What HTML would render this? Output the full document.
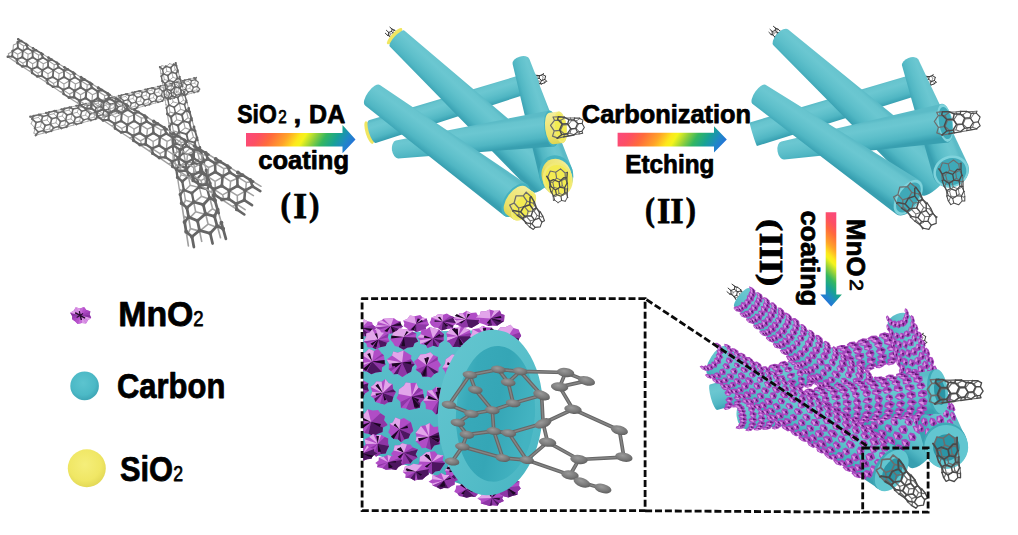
<!DOCTYPE html>
<html lang="en"><head><meta charset="utf-8"><title>CNT@C@MnO2 synthesis scheme</title>
<style>html,body{margin:0;padding:0;background:#fff;}body{width:1018px;height:535px;overflow:hidden;}svg{display:block;}</style>
</head><body>
<svg width="1018" height="535" viewBox="0 0 1018 535"><defs><linearGradient id="ra1" gradientUnits="userSpaceOnUse" x1="246" y1="139.5" x2="324.6" y2="188.6"><stop offset="0" stop-color="#fb4a78"/><stop offset="0.1" stop-color="#fd5062"/><stop offset="0.21" stop-color="#ff6a3c"/><stop offset="0.36" stop-color="#ffa428"/><stop offset="0.47" stop-color="#fde81c"/><stop offset="0.52" stop-color="#f4f41c"/><stop offset="0.62" stop-color="#8fd03c"/><stop offset="0.71" stop-color="#34b760"/><stop offset="0.82" stop-color="#17a294"/><stop offset="0.92" stop-color="#1f88c6"/><stop offset="1" stop-color="#2473d8"/></linearGradient><linearGradient id="ra2" gradientUnits="userSpaceOnUse" x1="617.6" y1="139.5" x2="696.1" y2="188.6"><stop offset="0" stop-color="#fb4a78"/><stop offset="0.1" stop-color="#fd5062"/><stop offset="0.21" stop-color="#ff6a3c"/><stop offset="0.36" stop-color="#ffa428"/><stop offset="0.47" stop-color="#fde81c"/><stop offset="0.52" stop-color="#f4f41c"/><stop offset="0.62" stop-color="#8fd03c"/><stop offset="0.71" stop-color="#34b760"/><stop offset="0.82" stop-color="#17a294"/><stop offset="0.92" stop-color="#1f88c6"/><stop offset="1" stop-color="#2473d8"/></linearGradient><linearGradient id="ra3" gradientUnits="userSpaceOnUse" x1="831" y1="212.2" x2="783.8" y2="259.4"><stop offset="0" stop-color="#fb4a78"/><stop offset="0.1" stop-color="#fd5062"/><stop offset="0.21" stop-color="#ff6a3c"/><stop offset="0.36" stop-color="#ffa428"/><stop offset="0.47" stop-color="#fde81c"/><stop offset="0.52" stop-color="#f4f41c"/><stop offset="0.62" stop-color="#8fd03c"/><stop offset="0.71" stop-color="#34b760"/><stop offset="0.82" stop-color="#17a294"/><stop offset="0.92" stop-color="#1f88c6"/><stop offset="1" stop-color="#2473d8"/></linearGradient><radialGradient id="lgc" cx="0.45" cy="0.4" r="0.6"><stop offset="0" stop-color="#5cc4cf"/><stop offset="0.7" stop-color="#4cb9c6"/><stop offset="1" stop-color="#3ea6b6"/></radialGradient><radialGradient id="lgy" cx="0.45" cy="0.4" r="0.6"><stop offset="0" stop-color="#f5ee7a"/><stop offset="0.7" stop-color="#f0e765"/><stop offset="1" stop-color="#e3d957"/></radialGradient><linearGradient id="g1" gradientUnits="userSpaceOnUse" x1="450.4" y1="96" x2="456.9" y2="116.6"><stop offset="0" stop-color="#5bbbc7"/><stop offset="0.1" stop-color="#67c4ce"/><stop offset="0.3" stop-color="#6bc7d1"/><stop offset="0.55" stop-color="#5fc0cb"/><stop offset="0.78" stop-color="#50b6c3"/><stop offset="0.93" stop-color="#3fa7b7"/><stop offset="1" stop-color="#389fb0"/></linearGradient><linearGradient id="g2" gradientUnits="userSpaceOnUse" x1="482.3" y1="96.7" x2="461" y2="119.4"><stop offset="0" stop-color="#5bbbc7"/><stop offset="0.1" stop-color="#67c4ce"/><stop offset="0.3" stop-color="#6bc7d1"/><stop offset="0.55" stop-color="#5fc0cb"/><stop offset="0.78" stop-color="#50b6c3"/><stop offset="0.93" stop-color="#3fa7b7"/><stop offset="1" stop-color="#389fb0"/></linearGradient><linearGradient id="g3" gradientUnits="userSpaceOnUse" x1="550.9" y1="114.2" x2="526.3" y2="121.8"><stop offset="0" stop-color="#5bbbc7"/><stop offset="0.1" stop-color="#67c4ce"/><stop offset="0.3" stop-color="#6bc7d1"/><stop offset="0.55" stop-color="#5fc0cb"/><stop offset="0.78" stop-color="#50b6c3"/><stop offset="0.93" stop-color="#3fa7b7"/><stop offset="1" stop-color="#389fb0"/></linearGradient><linearGradient id="g4" gradientUnits="userSpaceOnUse" x1="472.4" y1="125.5" x2="476.1" y2="152.5"><stop offset="0" stop-color="#5bbbc7"/><stop offset="0.1" stop-color="#67c4ce"/><stop offset="0.3" stop-color="#6bc7d1"/><stop offset="0.55" stop-color="#5fc0cb"/><stop offset="0.78" stop-color="#50b6c3"/><stop offset="0.93" stop-color="#3fa7b7"/><stop offset="1" stop-color="#389fb0"/></linearGradient><linearGradient id="g5" gradientUnits="userSpaceOnUse" x1="553.9" y1="112.2" x2="558.1" y2="143.6"><stop offset="0" stop-color="#f4ee9c"/><stop offset="0.3" stop-color="#f0e982"/><stop offset="0.75" stop-color="#ebe26a"/><stop offset="1" stop-color="#e0d550"/></linearGradient><linearGradient id="g6" gradientUnits="userSpaceOnUse" x1="571.1" y1="172.5" x2="542.8" y2="181.3"><stop offset="0" stop-color="#f4ee9c"/><stop offset="0.3" stop-color="#f0e982"/><stop offset="0.75" stop-color="#ebe26a"/><stop offset="1" stop-color="#e0d550"/></linearGradient><linearGradient id="g7" gradientUnits="userSpaceOnUse" x1="453.6" y1="134.7" x2="434.6" y2="160.6"><stop offset="0" stop-color="#5bbbc7"/><stop offset="0.1" stop-color="#67c4ce"/><stop offset="0.3" stop-color="#6bc7d1"/><stop offset="0.55" stop-color="#5fc0cb"/><stop offset="0.78" stop-color="#50b6c3"/><stop offset="0.93" stop-color="#3fa7b7"/><stop offset="1" stop-color="#389fb0"/></linearGradient><linearGradient id="g8" gradientUnits="userSpaceOnUse" x1="529.7" y1="189.3" x2="509.6" y2="216.7"><stop offset="0" stop-color="#f4ee9c"/><stop offset="0.3" stop-color="#f0e982"/><stop offset="0.75" stop-color="#ebe26a"/><stop offset="1" stop-color="#e0d550"/></linearGradient><linearGradient id="g9" gradientUnits="userSpaceOnUse" x1="835.6" y1="97.1" x2="842.4" y2="119.1"><stop offset="0" stop-color="#5bbbc7"/><stop offset="0.1" stop-color="#67c4ce"/><stop offset="0.3" stop-color="#6bc7d1"/><stop offset="0.55" stop-color="#5fc0cb"/><stop offset="0.78" stop-color="#50b6c3"/><stop offset="0.93" stop-color="#3fa7b7"/><stop offset="1" stop-color="#389fb0"/></linearGradient><linearGradient id="g10" gradientUnits="userSpaceOnUse" x1="869.5" y1="95.9" x2="847.4" y2="120.2"><stop offset="0" stop-color="#5bbbc7"/><stop offset="0.1" stop-color="#67c4ce"/><stop offset="0.3" stop-color="#6bc7d1"/><stop offset="0.55" stop-color="#5fc0cb"/><stop offset="0.78" stop-color="#50b6c3"/><stop offset="0.93" stop-color="#3fa7b7"/><stop offset="1" stop-color="#389fb0"/></linearGradient><linearGradient id="g11" gradientUnits="userSpaceOnUse" x1="943.4" y1="112.2" x2="917.8" y2="121.8"><stop offset="0" stop-color="#5bbbc7"/><stop offset="0.1" stop-color="#67c4ce"/><stop offset="0.3" stop-color="#6bc7d1"/><stop offset="0.55" stop-color="#5fc0cb"/><stop offset="0.78" stop-color="#50b6c3"/><stop offset="0.93" stop-color="#3fa7b7"/><stop offset="1" stop-color="#389fb0"/></linearGradient><linearGradient id="g12" gradientUnits="userSpaceOnUse" x1="861.6" y1="122.7" x2="866.4" y2="150.9"><stop offset="0" stop-color="#5bbbc7"/><stop offset="0.1" stop-color="#67c4ce"/><stop offset="0.3" stop-color="#6bc7d1"/><stop offset="0.55" stop-color="#5fc0cb"/><stop offset="0.78" stop-color="#50b6c3"/><stop offset="0.93" stop-color="#3fa7b7"/><stop offset="1" stop-color="#389fb0"/></linearGradient><linearGradient id="g13" gradientUnits="userSpaceOnUse" x1="842.6" y1="132.6" x2="824.4" y2="159.1"><stop offset="0" stop-color="#5bbbc7"/><stop offset="0.1" stop-color="#67c4ce"/><stop offset="0.3" stop-color="#6bc7d1"/><stop offset="0.55" stop-color="#5fc0cb"/><stop offset="0.78" stop-color="#50b6c3"/><stop offset="0.93" stop-color="#3fa7b7"/><stop offset="1" stop-color="#389fb0"/></linearGradient><linearGradient id="g14" gradientUnits="userSpaceOnUse" x1="809.3" y1="356.4" x2="816.7" y2="382.7"><stop offset="0" stop-color="#5bbbc7"/><stop offset="0.1" stop-color="#67c4ce"/><stop offset="0.3" stop-color="#6bc7d1"/><stop offset="0.55" stop-color="#5fc0cb"/><stop offset="0.78" stop-color="#50b6c3"/><stop offset="0.93" stop-color="#3fa7b7"/><stop offset="1" stop-color="#389fb0"/></linearGradient><linearGradient id="g15" gradientUnits="userSpaceOnUse" x1="845.8" y1="358.1" x2="822.2" y2="387.1"><stop offset="0" stop-color="#5bbbc7"/><stop offset="0.1" stop-color="#67c4ce"/><stop offset="0.3" stop-color="#6bc7d1"/><stop offset="0.55" stop-color="#5fc0cb"/><stop offset="0.78" stop-color="#50b6c3"/><stop offset="0.93" stop-color="#3fa7b7"/><stop offset="1" stop-color="#389fb0"/></linearGradient><linearGradient id="g16" gradientUnits="userSpaceOnUse" x1="938.6" y1="377.8" x2="907" y2="389.6"><stop offset="0" stop-color="#5bbbc7"/><stop offset="0.1" stop-color="#67c4ce"/><stop offset="0.3" stop-color="#6bc7d1"/><stop offset="0.55" stop-color="#5fc0cb"/><stop offset="0.78" stop-color="#50b6c3"/><stop offset="0.93" stop-color="#3fa7b7"/><stop offset="1" stop-color="#389fb0"/></linearGradient><linearGradient id="g17" gradientUnits="userSpaceOnUse" x1="839.8" y1="385.7" x2="844.1" y2="421.3"><stop offset="0" stop-color="#5bbbc7"/><stop offset="0.1" stop-color="#67c4ce"/><stop offset="0.3" stop-color="#6bc7d1"/><stop offset="0.55" stop-color="#5fc0cb"/><stop offset="0.78" stop-color="#50b6c3"/><stop offset="0.93" stop-color="#3fa7b7"/><stop offset="1" stop-color="#389fb0"/></linearGradient><linearGradient id="g18" gradientUnits="userSpaceOnUse" x1="815" y1="398.8" x2="793.9" y2="432.3"><stop offset="0" stop-color="#5bbbc7"/><stop offset="0.1" stop-color="#67c4ce"/><stop offset="0.3" stop-color="#6bc7d1"/><stop offset="0.55" stop-color="#5fc0cb"/><stop offset="0.78" stop-color="#50b6c3"/><stop offset="0.93" stop-color="#3fa7b7"/><stop offset="1" stop-color="#389fb0"/></linearGradient><clipPath id="cin"><rect x="363" y="300.5" width="280" height="210"/></clipPath><linearGradient id="inb" x1="0" y1="0" x2="0" y2="1"><stop offset="0" stop-color="#5cc0cb"/><stop offset="0.35" stop-color="#56bcc8"/><stop offset="0.8" stop-color="#48b2c0"/><stop offset="1" stop-color="#3fa7b6"/></linearGradient><linearGradient id="inr" x1="0" y1="0" x2="1" y2="1"><stop offset="0" stop-color="#64c6d0"/><stop offset="0.5" stop-color="#58bfca"/><stop offset="1" stop-color="#47b4c2"/></linearGradient><linearGradient id="inh" x1="0" y1="0" x2="1" y2="0.3"><stop offset="0" stop-color="#4cb9c6"/><stop offset="0.25" stop-color="#38a9b9"/><stop offset="0.6" stop-color="#35a6b6"/><stop offset="1" stop-color="#43b3c1"/></linearGradient><radialGradient id="atm" cx="0.4" cy="0.35" r="0.7"><stop offset="0" stop-color="#9a9a9a"/><stop offset="0.6" stop-color="#7a7a7a"/><stop offset="1" stop-color="#5c5c5c"/></radialGradient></defs><rect width="1018" height="535" fill="#fff"/><path d="M35.7,135.3L37.7,134.7M30.3,116.7L33.1,118.7M31.2,123.8L35.1,128.1M31.2,123.8L33.1,118.7M33.9,133.1L37.7,134.7M33.9,133.1L35.1,128.1M33.1,118.7L38.4,117.4M35.1,128.1L40.4,126.7M37.7,134.7L42.9,133.3M38.4,117.4L40.9,114.2M38.4,117.4L41.8,121.1M40.4,126.7L41.8,121.1M40.4,126.7L44.4,130.3M42.9,133.3L44.4,130.3M42.9,133.3L46.1,132.5M40.9,114.2L46.1,113M41.8,121.1L47,119.9M44.4,130.3L49.6,128.9M51.3,131.1L53.2,130.5M46.1,113L48.8,114.9M47,119.9L50.8,124.1M47,119.9L48.8,114.9M49.6,128.9L53.2,130.5M49.6,128.9L50.8,124.1M48.8,114.9L53.9,113.7M50.8,124.1L55.9,122.8M53.2,130.5L58.3,129.2M53.9,113.7L56.3,110.6M53.9,113.7L57.2,117.3M55.9,122.8L57.2,117.3M55.9,122.8L59.8,126.2M58.3,129.2L59.8,126.2M58.3,129.2L61.4,128.3M56.3,110.6L61.4,109.4M57.2,117.3L62.3,116M59.8,126.2L64.8,124.9M66.5,127L68.4,126.4M61.4,109.4L64,111.3M62.3,116L66,120.2M62.3,116L64,111.3M64.8,124.9L68.4,126.4M64.8,124.9L66,120.2M64,111.3L69,110.1M66,120.2L70.9,118.9M68.4,126.4L73.3,125.1M69,110.1L71.4,107M69,110.1L72.2,113.6M70.9,118.9L72.2,113.6M70.9,118.9L74.7,122.2M73.3,125.1L74.7,122.2M73.3,125.1L76.4,124.3M71.4,107L76.3,105.8M72.2,113.6L77.2,112.3M74.7,122.2L79.6,120.9" stroke="#a8a8a8" stroke-width="0.96" fill="none" stroke-linecap="round"/><path d="M81.3,123L83.1,122.5M76.3,105.8L78.9,107.7M77.2,112.3L80.8,116.3M77.2,112.3L78.9,107.7M79.6,120.9L83.1,122.5M79.6,120.9L80.8,116.3M78.9,107.7L83.7,106.5M80.8,116.3L85.6,115.1M83.1,122.5L87.9,121.2M83.7,106.5L86.1,103.5M83.7,106.5L86.9,109.9M85.6,115.1L86.9,109.9M85.6,115.1L89.3,118.4M87.9,121.2L89.3,118.4M87.9,121.2L90.9,120.4M86.1,103.5L90.9,102.4M86.9,109.9L91.7,108.7M89.3,118.4L94.1,117.1M95.6,119.1L97.5,118.6M90.9,102.4L93.3,104.2M91.7,108.7L95.2,112.6M91.7,108.7L93.3,104.2M94.1,117.1L97.5,118.6M94.1,117.1L95.2,112.6M93.3,104.2L98.1,103.1M95.2,112.6L99.9,111.4M97.5,118.6L102.2,117.3M98.1,103.1L100.3,100.2M98.1,103.1L101.1,106.4M99.9,111.4L101.1,106.4M99.9,111.4L103.5,114.6M102.2,117.3L103.5,114.6M102.2,117.3L105,116.6M100.3,100.2L105,99.1M101.1,106.4L105.8,105.2M103.5,114.6L108.1,113.4M109.7,115.3L111.4,114.8M105,99.1L107.4,100.8M105.8,105.2L109.2,109M105.8,105.2L107.4,100.8M108.1,113.4L111.4,114.8M108.1,113.4L109.2,109M107.4,100.8L112,99.7M109.2,109L113.8,107.8M111.4,114.8L116,113.6M112,99.7L114.2,96.9M112,99.7L115,102.9M113.8,107.8L115,102.9M113.8,107.8L117.3,110.9M116,113.6L117.3,110.9M116,113.6L118.8,112.9" stroke="#a8a8a8" stroke-width="0.89" fill="none" stroke-linecap="round"/><path d="M114.2,96.9L118.8,95.8M115,102.9L119.5,101.8M117.3,110.9L121.8,109.7M123.3,111.6L125,111.2M118.8,95.8L121.1,97.5M119.5,101.8L122.9,105.5M119.5,101.8L121.1,97.5M121.8,109.7L125,111.2M121.8,109.7L122.9,105.5M121.1,97.5L125.6,96.4M122.9,105.5L127.3,104.4M125,111.2L129.5,110M125.6,96.4L127.7,93.7M125.6,96.4L128.5,99.6M127.3,104.4L128.5,99.6M127.3,104.4L130.7,107.4M129.5,110L130.7,107.4M129.5,110L132.2,109.2M127.7,93.7L132.2,92.6M128.5,99.6L132.9,98.5M130.7,107.4L135.1,106.2M136.6,108.1L138.3,107.6M132.2,92.6L134.5,94.3M132.9,98.5L136.2,102.1M132.9,98.5L134.5,94.3M135.1,106.2L138.3,107.6M135.1,106.2L136.2,102.1M134.5,94.3L138.8,93.2M136.2,102.1L140.5,101M138.3,107.6L142.6,106.4M138.8,93.2L140.9,90.6M138.8,93.2L141.6,96.3M140.5,101L141.6,96.3M140.5,101L143.8,103.9M142.6,106.4L143.8,103.9M142.6,106.4L145.3,105.7M140.9,90.6L145.2,89.6M141.6,96.3L146,95.3M143.8,103.9L148.1,102.8M149.5,104.6L151.2,104.1M145.2,89.6L147.5,91.2M146,95.3L149.1,98.8M146,95.3L147.5,91.2M148.1,102.8L151.2,104.1M148.1,102.8L149.1,98.8M147.5,91.2L151.7,90.1M149.1,98.8L153.4,97.7M151.2,104.1L155.4,103M151.7,90.1L153.7,87.6M151.7,90.1L154.5,93.1M153.4,97.7L154.5,93.1M153.4,97.7L156.6,100.5M155.4,103L156.6,100.5M155.4,103L158,102.3M153.7,87.6L157.9,86.6M154.5,93.1L158.6,92.1M156.6,100.5L160.7,99.4" stroke="#a8a8a8" stroke-width="0.82" fill="none" stroke-linecap="round"/><path d="M162.1,101.2L163.7,100.7M157.9,86.6L160.1,88.1M158.6,92.1L161.7,95.5M158.6,92.1L160.1,88.1M160.7,99.4L163.7,100.7M160.7,99.4L161.7,95.5M160.1,88.1L164.2,87.1M161.7,95.5L165.8,94.4M163.7,100.7L167.8,99.6M164.2,87.1L166.2,84.6M164.2,87.1L166.9,90M165.8,94.4L166.9,90M165.8,94.4L169,97.2M167.8,99.6L169,97.2M167.8,99.6L170.3,98.9M166.2,84.6L170.3,83.6M166.9,90L171,89M169,97.2L173,96.1M174.4,97.9L175.9,97.4M170.3,83.6L172.4,85.2M171,89L174,92.3M171,89L172.4,85.2M173,96.1L175.9,97.4M173,96.1L174,92.3M172.4,85.2L176.4,84.2M174,92.3L178,91.3M175.9,97.4L179.9,96.3M176.4,84.2L178.4,81.7M176.4,84.2L179,87M178,91.3L179,87M178,91.3L181.1,94M179.9,96.3L181.1,94M179.9,96.3L182.4,95.7M178.4,81.7L182.3,80.8M179,87L183,86M181.1,94L185,93M186.3,94.6L187.8,94.2M182.3,80.8L184.4,82.3M183,86L185.9,89.3M183,86L184.4,82.3M185,93L187.8,94.2M185,93L185.9,89.3M184.4,82.3L188.3,81.3M185.9,89.3L189.8,88.3M187.8,94.2L191.7,93.2M188.3,81.3L190.2,78.9M188.3,81.3L190.9,84.1M189.8,88.3L190.9,84.1M189.8,88.3L192.8,90.9M191.7,93.2L192.8,90.9M191.7,93.2L194.1,92.5M190.2,78.9L194.1,78M190.9,84.1L194.7,83.1M192.8,90.9L196.7,89.9M197.9,91.5L199.4,91.1M194.1,78L196.1,79.5M194.7,83.1L197.6,86.3M194.7,83.1L196.1,79.5M196.7,89.9L199.4,91.1M196.7,89.9L197.6,86.3" stroke="#a8a8a8" stroke-width="0.75" fill="none" stroke-linecap="round"/><path d="M35.7,135.3L38.2,132M34.8,128.2L36.1,122.6M34.8,128.2L38.2,132M32.1,118.9L33.6,115.9M32.1,118.9L36.1,122.6M30.3,116.7L33.6,115.9M38.2,132L43.4,130.6M36.1,122.6L41.4,121.3M33.6,115.9L38.9,114.7M43.4,130.6L46.1,132.5M43.4,130.6L45.2,125.5M41.4,121.3L45.2,125.5M41.4,121.3L42.6,116.4M38.9,114.7L42.6,116.4M38.9,114.7L40.9,114.2M46.1,132.5L51.3,131.1M45.2,125.5L50.4,124.2M42.6,116.4L47.8,115.2M51.3,131.1L53.7,127.8M50.4,124.2L51.7,118.7M50.4,124.2L53.7,127.8M47.8,115.2L49.2,112.2M47.8,115.2L51.7,118.7M46.1,113L49.2,112.2M53.7,127.8L58.8,126.5M51.7,118.7L56.8,117.4M49.2,112.2L54.4,111M58.8,126.5L61.4,128.3M58.8,126.5L60.6,121.6M56.8,117.4L60.6,121.6M56.8,117.4L58,112.7M54.4,111L58,112.7M54.4,111L56.3,110.6M61.4,128.3L66.5,127M60.6,121.6L65.6,120.3M58,112.7L63.1,111.5M66.5,127L68.8,123.8M65.6,120.3L66.9,114.9M65.6,120.3L68.8,123.8M63.1,111.5L64.5,108.6M63.1,111.5L66.9,114.9M61.4,109.4L64.5,108.6M68.8,123.8L73.8,122.5M66.9,114.9L71.9,113.7M64.5,108.6L69.5,107.5M73.8,122.5L76.4,124.3M73.8,122.5L75.5,117.7M71.9,113.7L75.5,117.7M71.9,113.7L73,109.1M69.5,107.5L73,109.1M69.5,107.5L71.4,107M76.4,124.3L81.3,123M75.5,117.7L80.4,116.5M73,109.1L78,107.9" stroke="#6c6c6c" stroke-width="1.59" fill="none" stroke-linecap="round"/><path d="M35.7,135.3h0M34.8,128.2h0M34.8,128.2h0M32.1,118.9h0M32.1,118.9h0M30.3,116.7h0M38.2,132h0M36.1,122.6h0M33.6,115.9h0M43.4,130.6h0M43.4,130.6h0M41.4,121.3h0M41.4,121.3h0M38.9,114.7h0M38.9,114.7h0M46.1,132.5h0M45.2,125.5h0M42.6,116.4h0M51.3,131.1h0M50.4,124.2h0M50.4,124.2h0M47.8,115.2h0M47.8,115.2h0M46.1,113h0M53.7,127.8h0M51.7,118.7h0M49.2,112.2h0M58.8,126.5h0M58.8,126.5h0M56.8,117.4h0M56.8,117.4h0M54.4,111h0M54.4,111h0M61.4,128.3h0M60.6,121.6h0M58,112.7h0M66.5,127h0M65.6,120.3h0M65.6,120.3h0M63.1,111.5h0M63.1,111.5h0M61.4,109.4h0M68.8,123.8h0M66.9,114.9h0M64.5,108.6h0M73.8,122.5h0M73.8,122.5h0M71.9,113.7h0M71.9,113.7h0M69.5,107.5h0M69.5,107.5h0M76.4,124.3h0M75.5,117.7h0M73,109.1h0" stroke="#6c6c6c" stroke-width="2.31" fill="none" stroke-linecap="round"/><path d="M81.3,123L83.6,119.9M80.4,116.5L81.7,111.2M80.4,116.5L83.6,119.9M78,107.9L79.3,105.1M78,107.9L81.7,111.2M76.3,105.8L79.3,105.1M83.6,119.9L88.4,118.6M81.7,111.2L86.5,110M79.3,105.1L84.2,104M88.4,118.6L90.9,120.4M88.4,118.6L90.1,114M86.5,110L90.1,114M86.5,110L87.6,105.6M84.2,104L87.6,105.6M84.2,104L86.1,103.5M90.9,120.4L95.6,119.1M90.1,114L94.8,112.8M87.6,105.6L92.4,104.4M95.6,119.1L97.9,116.1M94.8,112.8L96.1,107.7M94.8,112.8L97.9,116.1M92.4,104.4L93.8,101.7M92.4,104.4L96.1,107.7M90.9,102.4L93.8,101.7M97.9,116.1L102.6,114.9M96.1,107.7L100.8,106.5M93.8,101.7L98.5,100.6M102.6,114.9L105,116.6M102.6,114.9L104.2,110.3M100.8,106.5L104.2,110.3M100.8,106.5L101.9,102.1M98.5,100.6L101.9,102.1M98.5,100.6L100.3,100.2M105,116.6L109.7,115.3M104.2,110.3L108.9,109.2M101.9,102.1L106.5,101M109.7,115.3L111.9,112.4M108.9,109.2L110.1,104.2M108.9,109.2L111.9,112.4M106.5,101L107.8,98.4M106.5,101L110.1,104.2M105,99.1L107.8,98.4M111.9,112.4L116.4,111.2M110.1,104.2L114.7,103.1M107.8,98.4L112.5,97.3M116.4,111.2L118.8,112.9M116.4,111.2L118,106.8M114.7,103.1L118,106.8M114.7,103.1L115.7,98.8M112.5,97.3L115.7,98.8M112.5,97.3L114.2,96.9" stroke="#6c6c6c" stroke-width="1.48" fill="none" stroke-linecap="round"/><path d="M81.3,123h0M80.4,116.5h0M80.4,116.5h0M78,107.9h0M78,107.9h0M76.3,105.8h0M83.6,119.9h0M81.7,111.2h0M79.3,105.1h0M88.4,118.6h0M88.4,118.6h0M86.5,110h0M86.5,110h0M84.2,104h0M84.2,104h0M90.9,120.4h0M90.1,114h0M87.6,105.6h0M95.6,119.1h0M94.8,112.8h0M94.8,112.8h0M92.4,104.4h0M92.4,104.4h0M90.9,102.4h0M97.9,116.1h0M96.1,107.7h0M93.8,101.7h0M102.6,114.9h0M102.6,114.9h0M100.8,106.5h0M100.8,106.5h0M98.5,100.6h0M98.5,100.6h0M105,116.6h0M104.2,110.3h0M101.9,102.1h0M109.7,115.3h0M108.9,109.2h0M108.9,109.2h0M106.5,101h0M106.5,101h0M105,99.1h0M111.9,112.4h0M110.1,104.2h0M107.8,98.4h0M116.4,111.2h0M116.4,111.2h0M114.7,103.1h0M114.7,103.1h0M112.5,97.3h0M112.5,97.3h0" stroke="#6c6c6c" stroke-width="2.14" fill="none" stroke-linecap="round"/><path d="M118.8,112.9L123.3,111.6M118,106.8L122.5,105.6M115.7,98.8L120.3,97.7M123.3,111.6L125.5,108.8M122.5,105.6L123.7,100.8M122.5,105.6L125.5,108.8M120.3,97.7L121.5,95.2M120.3,97.7L123.7,100.8M118.8,95.8L121.5,95.2M125.5,108.8L129.9,107.6M123.7,100.8L128.2,99.7M121.5,95.2L126,94.1M129.9,107.6L132.2,109.2M129.9,107.6L131.4,103.3M128.2,99.7L131.4,103.3M128.2,99.7L129.2,95.6M126,94.1L129.2,95.6M126,94.1L127.7,93.7M132.2,109.2L136.6,108.1M131.4,103.3L135.8,102.2M129.2,95.6L133.6,94.5M136.6,108.1L138.7,105.3M135.8,102.2L137,97.5M135.8,102.2L138.7,105.3M133.6,94.5L134.9,92M133.6,94.5L137,97.5M132.2,92.6L134.9,92M138.7,105.3L143,104.1M137,97.5L141.3,96.4M134.9,92L139.2,91M143,104.1L145.3,105.7M143,104.1L144.5,100M141.3,96.4L144.5,100M141.3,96.4L142.3,92.4M139.2,91L142.3,92.4M139.2,91L140.9,90.6M145.3,105.7L149.5,104.6M144.5,100L148.8,98.9M142.3,92.4L146.6,91.4M149.5,104.6L151.6,101.9M148.8,98.9L149.9,94.3M148.8,98.9L151.6,101.9M146.6,91.4L147.8,88.9M146.6,91.4L149.9,94.3M145.2,89.6L147.8,88.9M151.6,101.9L155.8,100.8M149.9,94.3L154.1,93.2M147.8,88.9L152.1,87.9M155.8,100.8L158,102.3M155.8,100.8L157.2,96.7M154.1,93.2L157.2,96.7M154.1,93.2L155.1,89.3M152.1,87.9L155.1,89.3M152.1,87.9L153.7,87.6M158,102.3L162.1,101.2M157.2,96.7L161.4,95.6M155.1,89.3L159.3,88.3" stroke="#6c6c6c" stroke-width="1.36" fill="none" stroke-linecap="round"/><path d="M118.8,112.9h0M118,106.8h0M115.7,98.8h0M123.3,111.6h0M122.5,105.6h0M122.5,105.6h0M120.3,97.7h0M120.3,97.7h0M118.8,95.8h0M125.5,108.8h0M123.7,100.8h0M121.5,95.2h0M129.9,107.6h0M129.9,107.6h0M128.2,99.7h0M128.2,99.7h0M126,94.1h0M126,94.1h0M132.2,109.2h0M131.4,103.3h0M129.2,95.6h0M136.6,108.1h0M135.8,102.2h0M135.8,102.2h0M133.6,94.5h0M133.6,94.5h0M132.2,92.6h0M138.7,105.3h0M137,97.5h0M134.9,92h0M143,104.1h0M143,104.1h0M141.3,96.4h0M141.3,96.4h0M139.2,91h0M139.2,91h0M145.3,105.7h0M144.5,100h0M142.3,92.4h0M149.5,104.6h0M148.8,98.9h0M148.8,98.9h0M146.6,91.4h0M146.6,91.4h0M145.2,89.6h0M151.6,101.9h0M149.9,94.3h0M147.8,88.9h0M155.8,100.8h0M155.8,100.8h0M154.1,93.2h0M154.1,93.2h0M152.1,87.9h0M152.1,87.9h0M158,102.3h0M157.2,96.7h0M155.1,89.3h0" stroke="#6c6c6c" stroke-width="1.97" fill="none" stroke-linecap="round"/><path d="M162.1,101.2L164.1,98.5M161.4,95.6L162.5,91.2M161.4,95.6L164.1,98.5M159.3,88.3L160.5,86M159.3,88.3L162.5,91.2M157.9,86.6L160.5,86M164.1,98.5L168.2,97.5M162.5,91.2L166.6,90.1M160.5,86L164.6,85M168.2,97.5L170.3,98.9M168.2,97.5L169.6,93.5M166.6,90.1L169.6,93.5M166.6,90.1L167.6,86.3M164.6,85L167.6,86.3M164.6,85L166.2,84.6M170.3,98.9L174.4,97.9M169.6,93.5L173.7,92.5M167.6,86.3L171.7,85.4M174.4,97.9L176.3,95.3M173.7,92.5L174.7,88.1M173.7,92.5L176.3,95.3M171.7,85.4L172.8,83M171.7,85.4L174.7,88.1M170.3,83.6L172.8,83M176.3,95.3L180.3,94.2M174.7,88.1L178.8,87.1M172.8,83L176.8,82.1M180.3,94.2L182.4,95.7M180.3,94.2L181.7,90.4M178.8,87.1L181.7,90.4M178.8,87.1L179.7,83.4M176.8,82.1L179.7,83.4M176.8,82.1L178.4,81.7M182.4,95.7L186.3,94.6M181.7,90.4L185.6,89.4M179.7,83.4L183.7,82.5M186.3,94.6L188.2,92.2M185.6,89.4L186.7,85.2M185.6,89.4L188.2,92.2M183.7,82.5L184.8,80.2M183.7,82.5L186.7,85.2M182.3,80.8L184.8,80.2M188.2,92.2L192.1,91.1M186.7,85.2L190.6,84.2M184.8,80.2L188.7,79.3M192.1,91.1L194.1,92.5M192.1,91.1L193.4,87.4M190.6,84.2L193.4,87.4M190.6,84.2L191.5,80.6M188.7,79.3L191.5,80.6M188.7,79.3L190.2,78.9M194.1,92.5L197.9,91.5M193.4,87.4L197.3,86.4M191.5,80.6L195.3,79.6M197.9,91.5L199.8,89.1M197.3,86.4L198.3,82.3M197.3,86.4L199.8,89.1M195.3,79.6L196.4,77.5M195.3,79.6L198.3,82.3M194.1,78L196.4,77.5" stroke="#6c6c6c" stroke-width="1.25" fill="none" stroke-linecap="round"/><path d="M162.1,101.2h0M161.4,95.6h0M161.4,95.6h0M159.3,88.3h0M159.3,88.3h0M157.9,86.6h0M164.1,98.5h0M162.5,91.2h0M160.5,86h0M168.2,97.5h0M168.2,97.5h0M166.6,90.1h0M166.6,90.1h0M164.6,85h0M164.6,85h0M170.3,98.9h0M169.6,93.5h0M167.6,86.3h0M174.4,97.9h0M173.7,92.5h0M173.7,92.5h0M171.7,85.4h0M171.7,85.4h0M170.3,83.6h0M176.3,95.3h0M174.7,88.1h0M172.8,83h0M180.3,94.2h0M180.3,94.2h0M178.8,87.1h0M178.8,87.1h0M176.8,82.1h0M176.8,82.1h0M182.4,95.7h0M181.7,90.4h0M179.7,83.4h0M186.3,94.6h0M185.6,89.4h0M185.6,89.4h0M183.7,82.5h0M183.7,82.5h0M182.3,80.8h0M188.2,92.2h0M186.7,85.2h0M184.8,80.2h0M192.1,91.1h0M192.1,91.1h0M190.6,84.2h0M190.6,84.2h0M188.7,79.3h0M188.7,79.3h0M194.1,92.5h0M193.4,87.4h0M191.5,80.6h0M197.9,91.5h0M197.3,86.4h0M197.3,86.4h0M195.3,79.6h0M195.3,79.6h0M194.1,78h0" stroke="#6c6c6c" stroke-width="1.81" fill="none" stroke-linecap="round"/><path d="M159.9,67L160.2,68.8M175.7,63L174,65.2M169.7,63.6L165.9,66.7M169.7,63.6L174,65.2M161.9,65.6L160.2,68.8M161.9,65.6L165.9,66.7M174,65.2L175.2,69.7M165.9,66.7L166.9,71.3M160.2,68.8L160.9,73.3M175.2,69.7L178.2,72M175.2,69.7L171.9,72.6M166.9,71.3L171.9,72.6M166.9,71.3L163.5,74.7M160.9,73.3L163.5,74.7M160.9,73.3L161.4,76.3M178.2,72L179.6,76.7M171.9,72.6L173,77.3M163.5,74.7L164.3,79.5M162.2,81.1L162.5,83M179.6,76.7L177.8,79.1M173,77.3L168.8,80.8M173,77.3L177.8,79.1M164.3,79.5L162.5,83M164.3,79.5L168.8,80.8M177.8,79.1L179.1,84.1M168.8,80.8L169.8,85.8M162.5,83L163.3,88.1M179.1,84.1L182.4,86.6M179.1,84.1L175.4,87.3M169.8,85.8L175.4,87.3M169.8,85.8L166.1,89.7M163.3,88.1L166.1,89.7M163.3,88.1L163.8,91.3M182.4,86.6L183.9,91.8M175.4,87.3L176.6,92.5M166.1,89.7L167,95M164.7,96.7L165,98.8M183.9,91.8L181.9,94.5M176.6,92.5L172,96.4M176.6,92.5L181.9,94.5M167,95L165,98.8M167,95L172,96.4M181.9,94.5L183.4,100M172,96.4L173.1,101.9M165,98.8L165.9,104.5M183.4,100L187.1,102.8M183.4,100L179.3,103.5M173.1,101.9L179.3,103.5M173.1,101.9L169,106.2M165.9,104.5L169,106.2M165.9,104.5L166.5,108M187.1,102.8L188.7,108.5M179.3,103.5L180.7,109.3M169,106.2L170,112" stroke="#a0a0a0" stroke-width="0.88" fill="none" stroke-linecap="round"/><path d="M167.4,114L167.8,116.3M188.7,108.5L186.5,111.5M180.7,109.3L175.5,113.6M180.7,109.3L186.5,111.5M170,112L167.8,116.3M170,112L175.5,113.6M186.5,111.5L188.1,117.6M175.5,113.6L176.8,119.7M167.8,116.3L168.7,122.5M188.1,117.6L192.2,120.6M188.1,117.6L183.6,121.5M176.8,119.7L183.6,121.5M176.8,119.7L172.2,124.4M168.7,122.5L172.2,124.4M168.7,122.5L169.4,126.5M192.2,120.6L194,127M183.6,121.5L185.1,127.9M172.2,124.4L173.3,130.9M170.5,133L170.8,135.6M194,127L191.6,130.3M185.1,127.9L179.4,132.6M185.1,127.9L191.6,130.3M173.3,130.9L170.8,135.6M173.3,130.9L179.4,132.6M191.6,130.3L193.4,137M179.4,132.6L180.8,139.4M170.8,135.6L171.9,142.5M193.4,137L197.8,140.4M193.4,137L188.3,141.4M180.8,139.4L188.3,141.4M180.8,139.4L175.7,144.6M171.9,142.5L175.7,144.6M171.9,142.5L172.7,146.9M197.8,140.4L199.9,147.5M188.3,141.4L190,148.4M175.7,144.6L177,151.8M173.8,154.1L174.2,157M199.9,147.5L197.2,151.1M190,148.4L183.8,153.7M190,148.4L197.2,151.1M177,151.8L174.2,157M177,151.8L183.8,153.7" stroke="#a0a0a0" stroke-width="1.14" fill="none" stroke-linecap="round"/><path d="M197.2,151.1L199.2,158.5M183.8,153.7L185.3,161.1M174.2,157L175.5,164.6M199.2,158.5L204.1,162.3M199.2,158.5L193.6,163.3M185.3,161.1L193.6,163.3M185.3,161.1L179.7,166.9M175.5,164.6L179.7,166.9M175.5,164.6L176.3,169.4M204.1,162.3L206.3,170.1M193.6,163.3L195.5,171.2M179.7,166.9L181.1,174.8M177.5,177.4L178,180.6M206.3,170.1L203.4,174.1M195.5,171.2L188.5,176.9M195.5,171.2L203.4,174.1M181.1,174.8L178,180.6M181.1,174.8L188.5,176.9M203.4,174.1L205.6,182.3M188.5,176.9L190.2,185.2M178,180.6L179.3,189M205.6,182.3L211,186.5M205.6,182.3L199.4,187.6M190.2,185.2L199.4,187.6M190.2,185.2L184,191.6M179.3,189L184,191.6M179.3,189L180.2,194.4M211,186.5L213.5,195.1M199.4,187.6L201.5,196.3M184,191.6L185.5,200.3" stroke="#a0a0a0" stroke-width="1.40" fill="none" stroke-linecap="round"/><path d="M181.7,203.2L182.2,206.8M213.5,195.1L210.2,199.6M201.5,196.3L193.8,202.7M201.5,196.3L210.2,199.6M185.5,200.3L182.2,206.8M185.5,200.3L193.8,202.7M210.2,199.6L212.6,208.6M193.8,202.7L195.7,211.8M182.2,206.8L183.6,216M212.6,208.6L218.7,213.2M212.6,208.6L205.8,214.5M195.7,211.8L205.8,214.5M195.7,211.8L188.8,218.9M183.6,216L188.8,218.9M183.6,216L184.6,222M218.7,213.2L221.4,222.8M205.8,214.5L208.1,224.1M188.8,218.9L190.5,228.6M186.2,231.8L186.8,235.7M221.4,222.8L217.8,227.7M208.1,224.1L199.6,231.1M208.1,224.1L217.8,227.7M190.5,228.6L186.8,235.7M190.5,228.6L199.6,231.1M217.8,227.7L220.5,237.7M199.6,231.1L201.7,241.3M186.8,235.7L188.4,245.9" stroke="#a0a0a0" stroke-width="1.65" fill="none" stroke-linecap="round"/><path d="M159.9,67L162.5,69.2M165.9,66.4L170.7,67.7M165.9,66.4L162.5,69.2M173.7,64.4L176.4,65.7M173.7,64.4L170.7,67.7M175.7,63L176.4,65.7M162.5,69.2L163.4,73.9M170.7,67.7L171.7,72.3M176.4,65.7L177.7,70.2M163.4,73.9L161.4,76.3M163.4,73.9L167.8,75.6M171.7,72.3L167.8,75.6M171.7,72.3L176.2,73.5M177.7,70.2L176.2,73.5M177.7,70.2L178.2,72M161.4,76.3L162.2,81.1M167.8,75.6L168.8,80.5M176.2,73.5L177.5,78.2M162.2,81.1L165.1,83.6M168.8,80.5L174,81.9M168.8,80.5L165.1,83.6M177.5,78.2L180.4,79.7M177.5,78.2L174,81.9M179.6,76.7L180.4,79.7M165.1,83.6L166,88.7M174,81.9L175.2,86.9M180.4,79.7L181.8,84.6M166,88.7L163.8,91.3M166,88.7L170.8,90.7M175.2,86.9L170.8,90.7M175.2,86.9L180.1,88.3M181.8,84.6L180.1,88.3M181.8,84.6L182.4,86.6M163.8,91.3L164.7,96.7M170.8,90.7L171.9,96M180.1,88.3L181.6,93.5M164.7,96.7L167.9,99.4M171.9,96L177.8,97.6M171.9,96L167.9,99.4M181.6,93.5L184.8,95.1M181.6,93.5L177.8,97.6M183.9,91.8L184.8,95.1M167.9,99.4L168.9,105.1M177.8,97.6L179.1,103.1M184.8,95.1L186.4,100.6M168.9,105.1L166.5,108M168.9,105.1L174.2,107.3M179.1,103.1L174.2,107.3M179.1,103.1L184.5,104.6M186.4,100.6L184.5,104.6M186.4,100.6L187.1,102.8M166.5,108L167.4,114M174.2,107.3L175.5,113.2M184.5,104.6L186.1,110.4" stroke="#666" stroke-width="1.47" fill="none" stroke-linecap="round"/><path d="M159.9,67h0M165.9,66.4h0M165.9,66.4h0M173.7,64.4h0M173.7,64.4h0M175.7,63h0M162.5,69.2h0M170.7,67.7h0M176.4,65.7h0M163.4,73.9h0M163.4,73.9h0M171.7,72.3h0M171.7,72.3h0M177.7,70.2h0M177.7,70.2h0M161.4,76.3h0M167.8,75.6h0M176.2,73.5h0M162.2,81.1h0M168.8,80.5h0M168.8,80.5h0M177.5,78.2h0M177.5,78.2h0M179.6,76.7h0M165.1,83.6h0M174,81.9h0M180.4,79.7h0M166,88.7h0M166,88.7h0M175.2,86.9h0M175.2,86.9h0M181.8,84.6h0M181.8,84.6h0M163.8,91.3h0M170.8,90.7h0M180.1,88.3h0M164.7,96.7h0M171.9,96h0M171.9,96h0M181.6,93.5h0M181.6,93.5h0M183.9,91.8h0M167.9,99.4h0M177.8,97.6h0M184.8,95.1h0M168.9,105.1h0M168.9,105.1h0M179.1,103.1h0M179.1,103.1h0M186.4,100.6h0M186.4,100.6h0M166.5,108h0M174.2,107.3h0M184.5,104.6h0" stroke="#666" stroke-width="2.14" fill="none" stroke-linecap="round"/><path d="M167.4,114L171,117M175.5,113.2L181.9,114.9M175.5,113.2L171,117M186.1,110.4L189.7,112.2M186.1,110.4L181.9,114.9M188.7,108.5L189.7,112.2M171,117L172,123.2M181.9,114.9L183.4,121.1M189.7,112.2L191.4,118.3M172,123.2L169.4,126.5M172,123.2L178,125.6M183.4,121.1L178,125.6M183.4,121.1L189.4,122.7M191.4,118.3L189.4,122.7M191.4,118.3L192.2,120.6M169.4,126.5L170.5,133M178,125.6L179.3,132.1M189.4,122.7L191.1,129.1M170.5,133L174.4,136.4M179.3,132.1L186.5,134.1M179.3,132.1L174.4,136.4M191.1,129.1L195.1,131.1M191.1,129.1L186.5,134.1M194,127L195.1,131.1M174.4,136.4L175.6,143.3M186.5,134.1L188.1,140.9M195.1,131.1L197,137.8M175.6,143.3L172.7,146.9M175.6,143.3L182.2,145.9M188.1,140.9L182.2,145.9M188.1,140.9L194.8,142.7M197,137.8L194.8,142.7M197,137.8L197.8,140.4M172.7,146.9L173.8,154.1M182.2,145.9L183.7,153.1M194.8,142.7L196.7,149.8M173.8,154.1L178.1,157.8M183.7,153.1L191.6,155.3M183.7,153.1L178.1,157.8M196.7,149.8L201.1,152M196.7,149.8L191.6,155.3M199.9,147.5L201.1,152" stroke="#666" stroke-width="1.90" fill="none" stroke-linecap="round"/><path d="M167.4,114h0M175.5,113.2h0M175.5,113.2h0M186.1,110.4h0M186.1,110.4h0M188.7,108.5h0M171,117h0M181.9,114.9h0M189.7,112.2h0M172,123.2h0M172,123.2h0M183.4,121.1h0M183.4,121.1h0M191.4,118.3h0M191.4,118.3h0M169.4,126.5h0M178,125.6h0M189.4,122.7h0M170.5,133h0M179.3,132.1h0M179.3,132.1h0M191.1,129.1h0M191.1,129.1h0M194,127h0M174.4,136.4h0M186.5,134.1h0M195.1,131.1h0M175.6,143.3h0M175.6,143.3h0M188.1,140.9h0M188.1,140.9h0M197,137.8h0M197,137.8h0M172.7,146.9h0M182.2,145.9h0M194.8,142.7h0M173.8,154.1h0M183.7,153.1h0M183.7,153.1h0M196.7,149.8h0M196.7,149.8h0M199.9,147.5h0" stroke="#666" stroke-width="2.76" fill="none" stroke-linecap="round"/><path d="M178.1,157.8L179.5,165.4M191.6,155.3L193.4,162.8M201.1,152L203.2,159.4M179.5,165.4L176.3,169.4M179.5,165.4L186.8,168.4M193.4,162.8L186.8,168.4M193.4,162.8L200.7,164.8M203.2,159.4L200.7,164.8M203.2,159.4L204.1,162.3M176.3,169.4L177.5,177.4M186.8,168.4L188.4,176.4M200.7,164.8L202.8,172.7M177.5,177.4L182.3,181.5M188.4,176.4L197.2,178.7M188.4,176.4L182.3,181.5M202.8,172.7L207.7,175M202.8,172.7L197.2,178.7M206.3,170.1L207.7,175M182.3,181.5L183.8,190M197.2,178.7L199.1,187.1M207.7,175L210,183.3M183.8,190L180.2,194.4M183.8,190L191.9,193.2M199.1,187.1L191.9,193.2M199.1,187.1L207.3,189.3M210,183.3L207.3,189.3M210,183.3L211,186.5M180.2,194.4L181.7,203.2M191.9,193.2L193.7,202M207.3,189.3L209.6,198" stroke="#666" stroke-width="2.33" fill="none" stroke-linecap="round"/><path d="M178.1,157.8h0M191.6,155.3h0M201.1,152h0M179.5,165.4h0M179.5,165.4h0M193.4,162.8h0M193.4,162.8h0M203.2,159.4h0M203.2,159.4h0M176.3,169.4h0M186.8,168.4h0M200.7,164.8h0M177.5,177.4h0M188.4,176.4h0M188.4,176.4h0M202.8,172.7h0M202.8,172.7h0M206.3,170.1h0M182.3,181.5h0M197.2,178.7h0M207.7,175h0M183.8,190h0M183.8,190h0M199.1,187.1h0M199.1,187.1h0M210,183.3h0M210,183.3h0M180.2,194.4h0M191.9,193.2h0M207.3,189.3h0" stroke="#666" stroke-width="3.38" fill="none" stroke-linecap="round"/><path d="M181.7,203.2L186.9,207.8M193.7,202L203.3,204.7M193.7,202L186.9,207.8M209.6,198L215,200.6M209.6,198L203.3,204.7M213.5,195.1L215,200.6M186.9,207.8L188.6,217.1M203.3,204.7L205.5,213.9M215,200.6L217.6,209.7M188.6,217.1L184.6,222M188.6,217.1L197.5,220.7M205.5,213.9L197.5,220.7M205.5,213.9L214.5,216.3M217.6,209.7L214.5,216.3M217.6,209.7L218.7,213.2M184.6,222L186.2,231.8M197.5,220.7L199.5,230.4M214.5,216.3L217.1,225.9M186.2,231.8L192,236.8M199.5,230.4L210.2,233.3M199.5,230.4L192,236.8M217.1,225.9L223.1,228.8M217.1,225.9L210.2,233.3M221.4,222.8L223.1,228.8M192,236.8L193.9,247.1M210.2,233.3L212.6,243.5M223.1,228.8L225.9,238.9" stroke="#666" stroke-width="2.76" fill="none" stroke-linecap="round"/><path d="M181.7,203.2h0M193.7,202h0M193.7,202h0M209.6,198h0M209.6,198h0M213.5,195.1h0M186.9,207.8h0M203.3,204.7h0M215,200.6h0M188.6,217.1h0M188.6,217.1h0M205.5,213.9h0M205.5,213.9h0M217.6,209.7h0M217.6,209.7h0M184.6,222h0M197.5,220.7h0M214.5,216.3h0M186.2,231.8h0M199.5,230.4h0M199.5,230.4h0M217.1,225.9h0M217.1,225.9h0M221.4,222.8h0M192,236.8h0M210.2,233.3h0M223.1,228.8h0" stroke="#666" stroke-width="4.00" fill="none" stroke-linecap="round"/><path d="M7.8,56.7L9.7,58M18.2,39.3L18.7,42.7M13.4,45L12.9,51.2M13.4,45L18.7,42.7M8.3,53.8L9.7,58M8.3,53.8L12.9,51.2M18.7,42.7L23.6,45.7M12.9,51.2L17.7,54.3M9.7,58L14.4,61.2M23.6,45.7L28,45.2M23.6,45.7L23.2,51.1M17.7,54.3L23.2,51.1M17.7,54.3L17.9,60.1M14.4,61.2L17.9,60.1M14.4,61.2L17.4,63.1M28,45.2L33,48.3M23.2,51.1L28.1,54.2M17.9,60.1L22.8,63.3M22.3,66.4L24.2,67.7M33,48.3L33.5,51.9M28.1,54.2L27.6,60.6M28.1,54.2L33.5,51.9M22.8,63.3L24.2,67.7M22.8,63.3L27.6,60.6M33.5,51.9L38.6,55M27.6,60.6L32.6,63.8M24.2,67.7L29.2,71M38.6,55L43.2,54.4M38.6,55L38.2,60.6M32.6,63.8L38.2,60.6M32.6,63.8L32.7,69.9M29.2,71L32.7,69.9M29.2,71L32.2,73M43.2,54.4L48.4,57.6M38.2,60.6L43.3,63.8M32.7,69.9L37.8,73.2M37.3,76.4L39.3,77.7M48.4,57.6L49,61.3M43.3,63.8L42.8,70.4M43.3,63.8L49,61.3M37.8,73.2L39.3,77.7M37.8,73.2L42.8,70.4M49,61.3L54.2,64.6M42.8,70.4L48,73.7M39.3,77.7L44.4,81.1M54.2,64.6L59,64M54.2,64.6L53.8,70.4M48,73.7L53.8,70.4M48,73.7L48.1,80M44.4,81.1L48.1,80M44.4,81.1L47.6,83.3M59,64L64.4,67.3M53.8,70.4L59.1,73.7M48.1,80L53.4,83.5M52.9,86.8L54.9,88.1M64.4,67.3L65,71.1M59.1,73.7L58.5,80.6M59.1,73.7L65,71.1M53.4,83.5L54.9,88.1M53.4,83.5L58.5,80.6M65,71.1L70.4,74.5M58.5,80.6L63.9,84M54.9,88.1L60.2,91.7M70.4,74.5L75.4,73.9M70.4,74.5L70,80.5M63.9,84L70,80.5M63.9,84L64.1,90.5M60.2,91.7L64.1,90.5M60.2,91.7L63.6,93.9M75.4,73.9L81,77.3M70,80.5L75.5,84M64.1,90.5L69.5,94.1" stroke="#a0a0a0" stroke-width="1.09" fill="none" stroke-linecap="round"/><path d="M69,97.5L71.1,99M81,77.3L81.6,81.3M75.5,84L74.9,91.1M75.5,84L81.6,81.3M69.5,94.1L71.1,99M69.5,94.1L74.9,91.1M81.6,81.3L87.2,84.8M74.9,91.1L80.5,94.7M71.1,99L76.7,102.6M87.2,84.8L92.4,84.2M87.2,84.8L86.8,91.1M80.5,94.7L86.8,91.1M80.5,94.7L80.6,101.4M76.7,102.6L80.6,101.4M76.7,102.6L80.1,104.9M92.4,84.2L98.2,87.7M86.8,91.1L92.5,94.7M80.6,101.4L86.3,105.1M85.8,108.7L88,110.2M98.2,87.7L98.8,91.9M92.5,94.7L91.9,102M92.5,94.7L98.8,91.9M86.3,105.1L88,110.2M86.3,105.1L91.9,102M98.8,91.9L104.7,95.5M91.9,102L97.7,105.7M88,110.2L93.7,114M104.7,95.5L110,94.9M104.7,95.5L104.2,102M97.7,105.7L104.2,102M97.7,105.7L97.8,112.7M93.7,114L97.8,112.7M93.7,114L97.3,116.4M110,94.9L116,98.5M104.2,102L110.1,105.7M97.8,112.7L103.7,116.6M103.1,120.3L105.4,121.8M116,98.5L116.6,102.8M110.1,105.7L109.5,113.4M110.1,105.7L116.6,102.8M103.7,116.6L105.4,121.8M103.7,116.6L109.5,113.4M116.6,102.8L122.7,106.6M109.5,113.4L115.5,117.2M105.4,121.8L111.4,125.8M122.7,106.6L128.3,105.9M122.7,106.6L122.2,113.3M115.5,117.2L122.2,113.3M115.5,117.2L115.6,124.5M111.4,125.8L115.6,124.5M111.4,125.8L115.1,128.3M128.3,105.9L134.5,109.7M122.2,113.3L128.4,117.2M115.6,124.5L121.7,128.5M121.2,132.3L123.5,133.9M134.5,109.7L135.2,114.2M128.4,117.2L127.7,125.1M128.4,117.2L135.2,114.2M121.7,128.5L123.5,133.9M121.7,128.5L127.7,125.1M135.2,114.2L141.5,118.1M127.7,125.1L134,129.1M123.5,133.9L129.7,138" stroke="#a0a0a0" stroke-width="1.24" fill="none" stroke-linecap="round"/><path d="M141.5,118.1L147.3,117.4M141.5,118.1L141,125.1M134,129.1L141,125.1M134,129.1L134.1,136.7M129.7,138L134.1,136.7M129.7,138L133.6,140.6M147.3,117.4L153.7,121.3M141,125.1L147.4,129.1M134.1,136.7L140.4,140.8M139.9,144.8L142.3,146.4M153.7,121.3L154.4,126M147.4,129.1L146.7,137.3M147.4,129.1L154.4,126M140.4,140.8L142.3,146.4M140.4,140.8L146.7,137.3M154.4,126L161,130M146.7,137.3L153.1,141.5M142.3,146.4L148.7,150.7M161,130L166.9,129.3M161,130L160.4,137.3M153.1,141.5L160.4,137.3M153.1,141.5L153.3,149.3M148.7,150.7L153.3,149.3M148.7,150.7L152.7,153.4M166.9,129.3L173.6,133.4M160.4,137.3L167.1,141.4M153.3,149.3L159.9,153.6M159.3,157.7L161.8,159.4M173.6,133.4L174.3,138.2M167.1,141.4L166.3,150M167.1,141.4L174.3,138.2M159.9,153.6L161.8,159.4M159.9,153.6L166.3,150M174.3,138.2L181.1,142.4M166.3,150L173,154.3M161.8,159.4L168.4,163.9M181.1,142.4L187.3,141.7M181.1,142.4L180.6,149.9M173,154.3L180.6,149.9M173,154.3L173.2,162.4M168.4,163.9L173.2,162.4M168.4,163.9L172.6,166.6M187.3,141.7L194.3,145.9M180.6,149.9L187.5,154.2M173.2,162.4L180,166.9M179.4,171.1L182,172.9M194.3,145.9L195,150.9M187.5,154.2L186.7,163.1M187.5,154.2L195,150.9M180,166.9L182,172.9M180,166.9L186.7,163.1M195,150.9L202.1,155.3M186.7,163.1L193.7,167.6M182,172.9L188.9,177.5" stroke="#a0a0a0" stroke-width="1.40" fill="none" stroke-linecap="round"/><path d="M202.1,155.3L208.5,154.5M202.1,155.3L201.5,163.1M193.7,167.6L201.5,163.1M193.7,167.6L193.9,176M188.9,177.5L193.9,176M188.9,177.5L193.2,180.4M208.5,154.5L215.7,158.9M201.5,163.1L208.6,167.5M193.9,176L200.9,180.6M200.2,185L203,186.9M215.7,158.9L216.5,164.1M208.6,167.5L207.9,176.7M208.6,167.5L216.5,164.1M200.9,180.6L203,186.9M200.9,180.6L207.9,176.7M216.5,164.1L223.8,168.6M207.9,176.7L215.1,181.4M203,186.9L210.1,191.7M223.8,168.6L230.5,167.8M223.8,168.6L223.2,176.7M215.1,181.4L223.2,176.7M215.1,181.4L215.3,190.1M210.1,191.7L215.3,190.1M210.1,191.7L214.6,194.6M230.5,167.8L237.9,172.4M223.2,176.7L230.6,181.3M215.3,190.1L222.6,194.9M221.9,199.5L224.7,201.4M237.9,172.4L238.7,177.7M230.6,181.3L229.8,190.8M230.6,181.3L238.7,177.7M222.6,194.9L224.7,201.4M222.6,194.9L229.8,190.8M238.7,177.7L246.3,182.4M229.8,190.8L237.3,195.7M224.7,201.4L232.2,206.3M246.3,182.4L253.2,181.6M246.3,182.4L245.7,190.8M237.3,195.7L245.7,190.8M237.3,195.7L237.5,204.7M232.2,206.3L237.5,204.7M232.2,206.3L236.8,209.4M253.2,181.6L261,186.3M245.7,190.8L253.4,195.6M237.5,204.7L245.1,209.7" stroke="#a0a0a0" stroke-width="1.55" fill="none" stroke-linecap="round"/><path d="M7.8,56.7L12.2,56.3M12.6,51L17.9,47.9M12.6,51L12.2,56.3M17.7,42.2L21.2,41.1M17.7,42.2L17.9,47.9M18.2,39.3L21.2,41.1M12.2,56.3L17,59.5M17.9,47.9L22.8,51M21.2,41.1L26.1,44.1M17,59.5L17.4,63.1M17,59.5L22.3,57.2M22.8,51L22.3,57.2M22.8,51L27.6,48.3M26.1,44.1L27.6,48.3M26.1,44.1L28,45.2M17.4,63.1L22.3,66.4M22.3,57.2L27.2,60.4M27.6,48.3L32.6,51.3M22.3,66.4L26.8,66M27.2,60.4L32.7,57.2M27.2,60.4L26.8,66M32.6,51.3L36.1,50.2M32.6,51.3L32.7,57.2M33,48.3L36.1,50.2M26.8,66L31.8,69.2M32.7,57.2L37.8,60.4M36.1,50.2L41.2,53.3M31.8,69.2L32.2,73M31.8,69.2L37.3,66.9M37.8,60.4L37.3,66.9M37.8,60.4L42.8,57.6M41.2,53.3L42.8,57.6M41.2,53.3L43.2,54.4M32.2,73L37.3,76.4M37.3,66.9L42.4,70.2M42.8,57.6L48,60.8M37.3,76.4L41.9,75.9M42.4,70.2L48.1,66.9M42.4,70.2L41.9,75.9M48,60.8L51.6,59.6M48,60.8L48.1,66.9M48.4,57.6L51.6,59.6M41.9,75.9L47.1,79.4M48.1,66.9L53.4,70.2M51.6,59.6L56.9,62.8M47.1,79.4L47.6,83.3M47.1,79.4L52.8,76.9M53.4,70.2L52.8,76.9M53.4,70.2L58.5,67.3M56.9,62.8L58.5,67.3M56.9,62.8L59,64M47.6,83.3L52.9,86.8M52.8,76.9L58.1,80.3M58.5,67.3L63.9,70.6M52.9,86.8L57.7,86.3M58.1,80.3L64.1,76.9M58.1,80.3L57.7,86.3M63.9,70.6L67.7,69.3M63.9,70.6L64.1,76.9M64.4,67.3L67.7,69.3M57.7,86.3L63.1,89.8M64.1,76.9L69.6,80.3M67.7,69.3L73.2,72.6M63.1,89.8L63.6,93.9M63.1,89.8L69,87.3M69.6,80.3L69,87.3M69.6,80.3L74.9,77.3M73.2,72.6L74.9,77.3M73.2,72.6L75.4,73.9M63.6,93.9L69,97.5M69,87.3L74.5,90.8M74.9,77.3L80.5,80.7" stroke="#666" stroke-width="1.81" fill="none" stroke-linecap="round"/><path d="M7.8,56.7h0M12.6,51h0M12.6,51h0M17.7,42.2h0M17.7,42.2h0M18.2,39.3h0M12.2,56.3h0M17.9,47.9h0M21.2,41.1h0M17,59.5h0M17,59.5h0M22.8,51h0M22.8,51h0M26.1,44.1h0M26.1,44.1h0M17.4,63.1h0M22.3,57.2h0M27.6,48.3h0M22.3,66.4h0M27.2,60.4h0M27.2,60.4h0M32.6,51.3h0M32.6,51.3h0M33,48.3h0M26.8,66h0M32.7,57.2h0M36.1,50.2h0M31.8,69.2h0M31.8,69.2h0M37.8,60.4h0M37.8,60.4h0M41.2,53.3h0M41.2,53.3h0M32.2,73h0M37.3,66.9h0M42.8,57.6h0M37.3,76.4h0M42.4,70.2h0M42.4,70.2h0M48,60.8h0M48,60.8h0M48.4,57.6h0M41.9,75.9h0M48.1,66.9h0M51.6,59.6h0M47.1,79.4h0M47.1,79.4h0M53.4,70.2h0M53.4,70.2h0M56.9,62.8h0M56.9,62.8h0M47.6,83.3h0M52.8,76.9h0M58.5,67.3h0M52.9,86.8h0M58.1,80.3h0M58.1,80.3h0M63.9,70.6h0M63.9,70.6h0M64.4,67.3h0M57.7,86.3h0M64.1,76.9h0M67.7,69.3h0M63.1,89.8h0M63.1,89.8h0M69.6,80.3h0M69.6,80.3h0M73.2,72.6h0M73.2,72.6h0M63.6,93.9h0M69,87.3h0M74.9,77.3h0" stroke="#666" stroke-width="2.62" fill="none" stroke-linecap="round"/><path d="M69,97.5L74,97.1M74.5,90.8L80.7,87.3M74.5,90.8L74,97.1M80.5,80.7L84.4,79.4M80.5,80.7L80.7,87.3M81,77.3L84.4,79.4M74,97.1L79.6,100.7M80.7,87.3L86.3,90.8M84.4,79.4L90.1,82.9M79.6,100.7L80.1,104.9M79.6,100.7L85.7,98.1M86.3,90.8L85.7,98.1M86.3,90.8L91.9,87.7M90.1,82.9L91.9,87.7M90.1,82.9L92.4,84.2M80.1,104.9L85.8,108.7M85.7,98.1L91.4,101.8M91.9,87.7L97.7,91.3M85.8,108.7L91,108.2M91.4,101.8L97.9,98.1M91.4,101.8L91,108.2M97.7,91.3L101.8,89.9M97.7,91.3L97.9,98.1M98.2,87.7L101.8,89.9M91,108.2L96.7,112M97.9,98.1L103.7,101.8M101.8,89.9L107.7,93.5M96.7,112L97.3,116.4M96.7,112L103.1,109.3M103.7,101.8L103.1,109.3M103.7,101.8L109.5,98.5M107.7,93.5L109.5,98.5M107.7,93.5L110,94.9M97.3,116.4L103.1,120.3M103.1,109.3L109,113.1M109.5,98.5L115.5,102.2M103.1,120.3L108.5,119.8M109,113.1L115.7,109.3M109,113.1L108.5,119.8M115.5,102.2L119.7,100.8M115.5,102.2L115.7,109.3M116,98.5L119.7,100.8M108.5,119.8L114.5,123.7M115.7,109.3L121.8,113.1M119.7,100.8L125.9,104.5M114.5,123.7L115.1,128.3M114.5,123.7L121.1,120.9M121.8,113.1L121.1,120.9M121.8,113.1L127.7,109.7M125.9,104.5L127.7,109.7M125.9,104.5L128.3,105.9M115.1,128.3L121.2,132.3M121.1,120.9L127.3,124.8M127.7,109.7L134,113.6M121.2,132.3L126.7,131.8M127.3,124.8L134.2,120.9M127.3,124.8L126.7,131.8M134,113.6L138.4,112.1M134,113.6L134.2,120.9M134.5,109.7L138.4,112.1M126.7,131.8L133,135.9M134.2,120.9L140.5,124.8M138.4,112.1L144.8,116" stroke="#666" stroke-width="2.07" fill="none" stroke-linecap="round"/><path d="M69,97.5h0M74.5,90.8h0M74.5,90.8h0M80.5,80.7h0M80.5,80.7h0M81,77.3h0M74,97.1h0M80.7,87.3h0M84.4,79.4h0M79.6,100.7h0M79.6,100.7h0M86.3,90.8h0M86.3,90.8h0M90.1,82.9h0M90.1,82.9h0M80.1,104.9h0M85.7,98.1h0M91.9,87.7h0M85.8,108.7h0M91.4,101.8h0M91.4,101.8h0M97.7,91.3h0M97.7,91.3h0M98.2,87.7h0M91,108.2h0M97.9,98.1h0M101.8,89.9h0M96.7,112h0M96.7,112h0M103.7,101.8h0M103.7,101.8h0M107.7,93.5h0M107.7,93.5h0M97.3,116.4h0M103.1,109.3h0M109.5,98.5h0M103.1,120.3h0M109,113.1h0M109,113.1h0M115.5,102.2h0M115.5,102.2h0M116,98.5h0M108.5,119.8h0M115.7,109.3h0M119.7,100.8h0M114.5,123.7h0M114.5,123.7h0M121.8,113.1h0M121.8,113.1h0M125.9,104.5h0M125.9,104.5h0M115.1,128.3h0M121.1,120.9h0M127.7,109.7h0M121.2,132.3h0M127.3,124.8h0M127.3,124.8h0M134,113.6h0M134,113.6h0M134.5,109.7h0M126.7,131.8h0M134.2,120.9h0M138.4,112.1h0" stroke="#666" stroke-width="3.00" fill="none" stroke-linecap="round"/><path d="M133,135.9L133.6,140.6M133,135.9L139.8,132.9M140.5,124.8L139.8,132.9M140.5,124.8L146.7,121.4M144.8,116L146.7,121.4M144.8,116L147.3,117.4M133.6,140.6L139.9,144.8M139.8,132.9L146.2,137M146.7,121.4L153.1,125.3M139.9,144.8L145.6,144.2M146.2,137L153.4,132.9M146.2,137L145.6,144.2M153.1,125.3L157.7,123.8M153.1,125.3L153.4,132.9M153.7,121.3L157.7,123.8M145.6,144.2L152.1,148.5M153.4,132.9L159.9,137M157.7,123.8L164.3,127.8M152.1,148.5L152.7,153.4M152.1,148.5L159.2,145.4M159.9,137L159.2,145.4M159.9,137L166.3,133.4M164.3,127.8L166.3,133.4M164.3,127.8L166.9,129.3M152.7,153.4L159.3,157.7M159.2,145.4L165.8,149.7M166.3,133.4L173,137.5M159.3,157.7L165.3,157.1M165.8,149.7L173.3,145.4M165.8,149.7L165.3,157.1M173,137.5L177.8,136M173,137.5L173.3,145.4M173.6,133.4L177.8,136M165.3,157.1L172,161.5M173.3,145.4L180.1,149.7M177.8,136L184.6,140.1M172,161.5L172.6,166.6M172,161.5L179.3,158.4M180.1,149.7L179.3,158.4M180.1,149.7L186.7,145.9M184.6,140.1L186.7,145.9M184.6,140.1L187.3,141.7M172.6,166.6L179.4,171.1M179.3,158.4L186.2,162.8M186.7,145.9L193.7,150.2M179.4,171.1L185.6,170.5M186.2,162.8L193.9,158.4M186.2,162.8L185.6,170.5M193.7,150.2L198.6,148.6M193.7,150.2L193.9,158.4M194.3,145.9L198.6,148.6M185.6,170.5L192.5,175.1M193.9,158.4L200.9,162.8M198.6,148.6L205.7,152.9" stroke="#666" stroke-width="2.33" fill="none" stroke-linecap="round"/><path d="M133,135.9h0M133,135.9h0M140.5,124.8h0M140.5,124.8h0M144.8,116h0M144.8,116h0M133.6,140.6h0M139.8,132.9h0M146.7,121.4h0M139.9,144.8h0M146.2,137h0M146.2,137h0M153.1,125.3h0M153.1,125.3h0M153.7,121.3h0M145.6,144.2h0M153.4,132.9h0M157.7,123.8h0M152.1,148.5h0M152.1,148.5h0M159.9,137h0M159.9,137h0M164.3,127.8h0M164.3,127.8h0M152.7,153.4h0M159.2,145.4h0M166.3,133.4h0M159.3,157.7h0M165.8,149.7h0M165.8,149.7h0M173,137.5h0M173,137.5h0M173.6,133.4h0M165.3,157.1h0M173.3,145.4h0M177.8,136h0M172,161.5h0M172,161.5h0M180.1,149.7h0M180.1,149.7h0M184.6,140.1h0M184.6,140.1h0M172.6,166.6h0M179.3,158.4h0M186.7,145.9h0M179.4,171.1h0M186.2,162.8h0M186.2,162.8h0M193.7,150.2h0M193.7,150.2h0M194.3,145.9h0M185.6,170.5h0M193.9,158.4h0M198.6,148.6h0" stroke="#666" stroke-width="3.38" fill="none" stroke-linecap="round"/><path d="M192.5,175.1L193.2,180.4M192.5,175.1L200.2,171.8M200.9,162.8L200.2,171.8M200.9,162.8L207.8,158.9M205.7,152.9L207.8,158.9M205.7,152.9L208.5,154.5M193.2,180.4L200.2,185M200.2,171.8L207.3,176.4M207.8,158.9L215.1,163.3M200.2,185L206.7,184.4M207.3,176.4L215.3,171.8M207.3,176.4L206.7,184.4M215.1,163.3L220.2,161.6M215.1,163.3L215.3,171.8M215.7,158.9L220.2,161.6M206.7,184.4L213.9,189.2M215.3,171.8L222.6,176.4M220.2,161.6L227.6,166.1M213.9,189.2L214.6,194.6M213.9,189.2L221.8,185.8M222.6,176.4L221.8,185.8M222.6,176.4L229.8,172.4M227.6,166.1L229.8,172.4M227.6,166.1L230.5,167.8M214.6,194.6L221.9,199.5M221.8,185.8L229.2,190.5M229.8,172.4L237.3,177M221.9,199.5L228.6,198.8M229.2,190.5L237.5,185.8M229.2,190.5L228.6,198.8M237.3,177L242.6,175.2M237.3,177L237.5,185.8M237.9,172.4L242.6,175.2M228.6,198.8L236.1,203.8M237.5,185.8L245.1,190.5M242.6,175.2L250.2,179.8M236.1,203.8L236.8,209.4M236.1,203.8L244.3,200.2M245.1,190.5L244.3,200.2M245.1,190.5L252.5,186.3M250.2,179.8L252.5,186.3M250.2,179.8L253.2,181.6M236.8,209.4L244.3,214.5M244.3,200.2L252,205.2M252.5,186.3L260.3,191.1" stroke="#666" stroke-width="2.59" fill="none" stroke-linecap="round"/><path d="M192.5,175.1h0M192.5,175.1h0M200.9,162.8h0M200.9,162.8h0M205.7,152.9h0M205.7,152.9h0M193.2,180.4h0M200.2,171.8h0M207.8,158.9h0M200.2,185h0M207.3,176.4h0M207.3,176.4h0M215.1,163.3h0M215.1,163.3h0M215.7,158.9h0M206.7,184.4h0M215.3,171.8h0M220.2,161.6h0M213.9,189.2h0M213.9,189.2h0M222.6,176.4h0M222.6,176.4h0M227.6,166.1h0M227.6,166.1h0M214.6,194.6h0M221.8,185.8h0M229.8,172.4h0M221.9,199.5h0M229.2,190.5h0M229.2,190.5h0M237.3,177h0M237.3,177h0M237.9,172.4h0M228.6,198.8h0M237.5,185.8h0M242.6,175.2h0M236.1,203.8h0M236.1,203.8h0M245.1,190.5h0M245.1,190.5h0M250.2,179.8h0M250.2,179.8h0M236.8,209.4h0M244.3,200.2h0M252.5,186.3h0" stroke="#666" stroke-width="3.76" fill="none" stroke-linecap="round"/><path d="M246,133H342.5V125L355.5,139.5L342.5,153.2V146.5H246Z" fill="url(#ra1)"/><path d="M617.6,132.8H714V126.2L726.8,139.5L714,152.6V146.5H617.6Z" fill="url(#ra2)"/><path d="M825.7,212.2V294.4H820.3L831.2,306.6L841.9,294.4H836.3V212.2Z" fill="url(#ra3)"/><text transform="translate(237.60,122.50)" font-family='"Liberation Sans", "DejaVu Sans", sans-serif' fill="#000" stroke="#000" stroke-width="0.75" stroke-linejoin="round" xml:space="preserve"><tspan x="-0.31" font-size="26.4" font-weight="bold" textLength="39.52" lengthAdjust="spacingAndGlyphs">SiO</tspan><tspan x="40.61" font-size="19" font-weight="normal" textLength="12.74" lengthAdjust="spacingAndGlyphs">2 </tspan><tspan x="55.80" font-size="26.4" font-weight="bold" textLength="15.40" lengthAdjust="spacingAndGlyphs">, </tspan><tspan x="71.49" font-size="26.4" font-weight="bold" textLength="36.11" lengthAdjust="spacingAndGlyphs">DA</tspan></text><text transform="translate(258.90,169.40)" font-family='"Liberation Sans", "DejaVu Sans", sans-serif' fill="#000" stroke="#000" stroke-width="0.75" stroke-linejoin="round" xml:space="preserve"><tspan x="-0.65" font-size="26.4" font-weight="bold" textLength="90.75" lengthAdjust="spacingAndGlyphs">coating</tspan></text><text transform="translate(281.40,217.80)" font-family='"Liberation Serif", "DejaVu Serif", serif' fill="#000" stroke="#000" stroke-width="0.75" stroke-linejoin="round" xml:space="preserve"><tspan x="-0.95" dy="-1.80" font-size="34" font-weight="bold" textLength="10.41" lengthAdjust="spacingAndGlyphs">(</tspan><tspan x="11.82" dy="1.80" font-size="36" font-weight="bold" textLength="13.82" lengthAdjust="spacingAndGlyphs">I</tspan><tspan x="27.56" dy="-1.80" font-size="34" font-weight="bold" textLength="10.41" lengthAdjust="spacingAndGlyphs">)</tspan></text><text transform="translate(582.50,122.50)" font-family='"Liberation Sans", "DejaVu Sans", sans-serif' fill="#000" stroke="#000" stroke-width="0.75" stroke-linejoin="round" xml:space="preserve"><tspan x="-0.64" font-size="26.4" font-weight="bold" textLength="169.23" lengthAdjust="spacingAndGlyphs">Carbonization</tspan></text><text transform="translate(626.50,173.40)" font-family='"Liberation Sans", "DejaVu Sans", sans-serif' fill="#000" stroke="#000" stroke-width="0.75" stroke-linejoin="round" xml:space="preserve"><tspan x="-1.27" font-size="26.4" font-weight="bold" textLength="89.11" lengthAdjust="spacingAndGlyphs">Etching</tspan></text><text transform="translate(645.80,222.80)" font-family='"Liberation Serif", "DejaVu Serif", serif' fill="#000" stroke="#000" stroke-width="0.75" stroke-linejoin="round" xml:space="preserve"><tspan x="-0.89" dy="-1.80" font-size="34" font-weight="bold" textLength="9.89" lengthAdjust="spacingAndGlyphs">(</tspan><tspan x="11.16" dy="1.80" font-size="36" font-weight="bold" textLength="26.82" lengthAdjust="spacingAndGlyphs">II</tspan><tspan x="39.88" dy="-1.80" font-size="34" font-weight="bold" textLength="10.15" lengthAdjust="spacingAndGlyphs">)</tspan></text><text transform="translate(847.00,220.40) rotate(90)" font-family='"Liberation Sans", "DejaVu Sans", sans-serif' fill="#000" stroke="#000" stroke-width="0.75" stroke-linejoin="round" xml:space="preserve"><tspan x="-1.37" font-size="26" font-weight="bold" textLength="57.58" lengthAdjust="spacingAndGlyphs">MnO</tspan><tspan x="58.93" dy="-2.70" font-size="18" font-weight="normal" textLength="11.67" lengthAdjust="spacingAndGlyphs">2</tspan></text><text transform="translate(801.30,211.20) rotate(90)" font-family='"Liberation Sans", "DejaVu Sans", sans-serif' fill="#000" stroke="#000" stroke-width="0.75" stroke-linejoin="round" xml:space="preserve"><tspan x="-0.70" font-size="26.4" font-weight="bold" textLength="95.59" lengthAdjust="spacingAndGlyphs">coating</tspan></text><text transform="translate(759.60,220.30) rotate(90)" font-family='"Liberation Serif", "DejaVu Serif", serif' fill="#000" stroke="#000" stroke-width="0.75" stroke-linejoin="round" xml:space="preserve"><tspan x="-1.20" dy="-2.60" font-size="29" font-weight="bold" textLength="12.35" lengthAdjust="spacingAndGlyphs">(</tspan><tspan x="12.34" dy="2.60" font-size="34" font-weight="bold" textLength="40.81" lengthAdjust="spacingAndGlyphs">III</tspan><tspan x="53.37" dy="-2.60" font-size="29" font-weight="bold" textLength="12.35" lengthAdjust="spacingAndGlyphs">)</tspan></text><text transform="translate(120.10,326.40)" font-family='"Liberation Sans", "DejaVu Sans", sans-serif' fill="#000" stroke="#000" stroke-width="0.75" stroke-linejoin="round" xml:space="preserve"><tspan x="-1.91" font-size="35.2" font-weight="bold" textLength="75.25" lengthAdjust="spacingAndGlyphs">MnO</tspan><tspan x="73.25" font-size="22" font-weight="normal" textLength="10.33" lengthAdjust="spacingAndGlyphs">2</tspan></text><text transform="translate(117.80,397.60)" font-family='"Liberation Sans", "DejaVu Sans", sans-serif' fill="#000" stroke="#000" stroke-width="0.75" stroke-linejoin="round" xml:space="preserve"><tspan x="-0.86" font-size="34.8" font-weight="bold" textLength="108.35" lengthAdjust="spacingAndGlyphs">Carbon</tspan></text><text transform="translate(120.50,480.90)" font-family='"Liberation Sans", "DejaVu Sans", sans-serif' fill="#000" stroke="#000" stroke-width="0.75" stroke-linejoin="round" xml:space="preserve"><tspan x="-0.55" font-size="35.2" font-weight="bold" textLength="53.19" lengthAdjust="spacingAndGlyphs">SiO</tspan><tspan x="52.69" font-size="22" font-weight="normal" textLength="9.84" lengthAdjust="spacingAndGlyphs">2</tspan></text><circle cx="84.6" cy="385.9" r="14.3" fill="url(#lgc)"/><circle cx="86.8" cy="468.3" r="19" fill="url(#lgy)"/><path d="M91.2,318L88,320.2L86,323.4L81.8,323.1L77.7,324L74.9,321.3L72.1,319.2L72.1,316.1L70.2,312.7L73.9,310.6L75.7,307.3L80.1,308.5L84,307.1L86.4,309.9L90.3,311.3L89.8,314.7Z" fill="#b752cc"/><path d="M80.9,315.4L91.2,318L88,320.2Z" fill="#e0a0ea"/><path d="M80.9,315.4L88,320.2L86,323.4Z" fill="#d58be2"/><path d="M80.9,315.4L86,323.4L81.8,323.1Z" fill="#dc98e6"/><path d="M80.9,315.4L81.8,323.1L77.7,324Z" fill="#c46ad6"/><path d="M80.9,315.4L77.7,324L74.9,321.3Z" fill="#b752cc"/><path d="M80.9,315.4L74.9,321.3L72.1,319.2Z" fill="#a846bf"/><path d="M80.9,315.4L72.1,319.2L72.1,316.1Z" fill="#9a3cb2"/><path d="M80.9,315.4L72.1,316.1L70.2,312.7Z" fill="#8a32a2"/><path d="M80.9,315.4L70.2,312.7L73.9,310.6Z" fill="#e0a0ea"/><path d="M80.9,315.4L73.9,310.6L75.7,307.3Z" fill="#d58be2"/><path d="M80.9,315.4L75.7,307.3L80.1,308.5Z" fill="#dc98e6"/><path d="M80.9,315.4L80.1,308.5L84,307.1Z" fill="#c46ad6"/><path d="M80.9,315.4L84,307.1L86.4,309.9Z" fill="#b752cc"/><path d="M80.9,315.4L86.4,309.9L90.3,311.3Z" fill="#a846bf"/><path d="M80.9,315.4L90.3,311.3L89.8,314.7Z" fill="#9a3cb2"/><path d="M80.9,315.4L89.8,314.7L91.2,318Z" fill="#8a32a2"/><path d="M75.4,311.9L85.4,317.59999999999997L84.7,318.79999999999995L74.9,313.4Z M79.9,310.9L82.10000000000001,319.9L80.60000000000001,320.0L78.7,311.2Z M76.4,316.9L82.9,313.0L83.30000000000001,314.0L76.9,318.0Z" fill="#240a2c"/><g><path d="M534.6,86.4L535.2,85.1M531,78L533,80M531,78L533.4,76.3M532.2,83.5L535.2,85.1M532.2,83.5L533,80M533,80L536.5,79M535.2,85.1L538.6,83.9M536.8,75.4L538,76.1M536.5,79L538,76.1M536.5,79L539,81.3M538.6,83.9L539,81.3M538.6,83.9L541.3,84M538,76.1L541.3,75.2M539,81.3L542.3,80.2M544.5,82.8L545.1,81.7M541.3,75.2L543.1,77M541.3,75.2L543.4,73.6M542.3,80.2L545.1,81.7M542.3,80.2L543.1,77" stroke="#777" stroke-width="0.70" fill="none" stroke-linecap="round"/><path d="M534.6,86.4L536.8,84.6M534.9,82.6L535.7,79.2M534.9,82.6L536.8,84.6M532.7,77.5L533.4,76.3M532.7,77.5L535.7,79.2M536.8,84.6L540.2,83.4M535.7,79.2L539.1,78.2M533.4,76.3L536.8,75.4M540.2,83.4L541.3,84M540.2,83.4L541.6,80.5M539.1,78.2L541.6,80.5M539.1,78.2L539.6,75.6M536.8,75.4L539.6,75.6M541.3,84L544.5,82.8M541.6,80.5L544.8,79.4M539.6,75.6L542.8,74.7M544.5,82.8L546.6,81.2M544.8,79.4L545.6,76.2M544.8,79.4L546.6,81.2M542.8,74.7L543.4,73.6M542.8,74.7L545.6,76.2" stroke="#3c3c3c" stroke-width="1.00" fill="none" stroke-linecap="round"/><ellipse cx="369.2" cy="132.6" rx="3.5" ry="11.8" transform="rotate(-17.3 369.2 132.6)" fill="#f0e660"/><path d="M375.8,142.9 L537.9,90.4 A3.4,9.8 -17.3 0 0 532.1,71.6 L368.8,120.3 A3.5,11.8 -17.3 0 0 375.8,142.9 Z" fill="url(#g1)"/><path d="M401.8,36.6L400.5,36.7M396.7,43.2L397.4,40.7M396.7,43.2L394.3,42.2M400.6,39.8L400.5,36.7M400.6,39.8L397.4,40.7M397.4,40.7L395,38.4M400.5,36.7L398.1,34.5M392,39.8L392,38.6M395,38.4L392,38.6M395,38.4L395.7,35.3M398.1,34.5L395.7,35.3M398.1,34.5L396.8,32.3M392,38.6L389.7,36.4M395.7,35.3L393.3,33.2M394.4,30.2L393.3,30.2M389.7,36.4L390.4,34M389.7,36.4L387.5,35.3M393.3,33.2L393.3,30.2M393.3,33.2L390.4,34M390.4,34L388.1,31.9M393.3,30.2L390.9,28.2" stroke="#777" stroke-width="0.70" fill="none" stroke-linecap="round"/><path d="M401.8,36.6L399.4,35.6M398.7,38L395.5,39M398.7,38L399.4,35.6M395.5,42.1L394.3,42.2M395.5,42.1L395.5,39M399.4,35.6L396.9,33.4M395.5,39L393.2,36.7M394.3,42.2L392,39.8M396.9,33.4L396.8,32.3M396.9,33.4L393.9,33.6M393.2,36.7L393.9,33.6M393.2,36.7L390.9,37.5M392,39.8L390.9,37.5M396.8,32.3L394.4,30.2M393.9,33.6L391.5,31.5M390.9,37.5L388.6,35.3M394.4,30.2L392.2,29.2M391.5,31.5L388.6,32.4M391.5,31.5L392.2,29.2M388.6,35.3L387.5,35.3M388.6,35.3L388.6,32.4M392.2,29.2L389.9,27.2M388.6,32.4L386.4,30.3M387.5,35.3L385.3,33.2" stroke="#3c3c3c" stroke-width="1.00" fill="none" stroke-linecap="round"/><ellipse cx="394.6" cy="36.1" rx="3.2" ry="10.8" transform="rotate(43 394.6 36.1)" fill="#f0e660"/><path d="M389.8,46.5 L532.3,192.3 A7.1,20.3 43 0 0 559.9,162.7 L404.6,30.7 A3.2,10.8 43 0 0 389.8,46.5 Z" fill="url(#g2)"/><path d="M512.6,64.1 L540,179.6 A19.5,17 72.7 0 0 572.4,169.4 L529.4,58.9 A5.3,8.8 72.7 0 0 512.6,64.1 Z" fill="url(#g3)"/><path d="M398.2,158.4 L554,146.5 A7.3,18.2 -7.7 0 0 549,110.5 L395.8,140.6 A5.4,9 -7.7 0 0 398.2,158.4 Z" fill="url(#g4)"/><ellipse cx="551.5" cy="128.5" rx="7.2" ry="18" transform="rotate(-7.7 551.5 128.5)" fill="#45b2c0"/><path d="M553.6,144.2 L562.6,143 A6.3,15.8 -7.7 0 0 558.4,111.6 L549.4,112.8 A6.3,15.8 -7.7 0 0 553.6,144.2 Z" fill="url(#g5)"/><ellipse cx="560.5" cy="127.3" rx="6.3" ry="15.8" transform="rotate(-7.7 560.5 127.3)" fill="#f1ea78"/><ellipse cx="560.5" cy="127.3" rx="5.4" ry="13.5" transform="rotate(-7.7 560.5 127.3)" fill="#f3eb52"/><path d="M553,117L554.5,120.3M553,117L558.4,116.8M550.5,125.4L554.2,130.9M550.5,125.4L554.5,120.3M552.5,136.1L557.9,138.1M552.5,136.1L554.2,130.9M554.5,120.3L560.6,120.4M554.2,130.9L560.4,130.3M557.9,138.1L563.8,136.9" stroke="#6c6c6c" stroke-width="1.19" fill="none" stroke-linecap="round"/><path d="M564.3,117.2L565,117.7M560.6,120.4L565,117.7M560.6,120.4L562.9,125M560.4,130.3L562.9,125M560.4,130.3L564.6,134.1M563.8,136.9L564.6,134.1M565,117.7L570.4,118M562.9,125L568.4,124.8M564.6,134.1L570,133.2" stroke="#6c6c6c" stroke-width="1.09" fill="none" stroke-linecap="round"/><path d="M570.4,118L571.5,120.7M570.4,118L574.7,117.9M568.4,124.8L571.3,129.1M568.4,124.8L571.5,120.7M570,133.2L574.2,134.8M570,133.2L571.3,129.1M571.5,120.7L576.5,120.8M571.3,129.1L576.3,128.6M574.2,134.8L579,133.9" stroke="#6c6c6c" stroke-width="0.98" fill="none" stroke-linecap="round"/><path d="M579.4,118.2L579.9,118.6M576.5,120.8L579.9,118.6M576.5,120.8L578.2,124.4M576.3,128.6L578.2,124.4M576.3,128.6L579.6,131.7M579,133.9L579.6,131.7" stroke="#6c6c6c" stroke-width="0.88" fill="none" stroke-linecap="round"/><path d="M557.1,138.3L561.8,134.6M557.1,138.3L557.9,138.1M559.6,129.8L562.1,124M559.6,129.8L561.8,134.6M557.6,119.2L558.4,116.8M557.6,119.2L562.1,124M561.8,134.6L567.4,133.7M562.1,124L567.7,123.8M558.4,116.8L564.3,117.2" stroke="#4a4a4a" stroke-width="1.40" fill="none" stroke-linecap="round"/><path d="M567.4,133.7L568.5,136M567.4,133.7L570.7,128.8M567.7,123.8L570.7,128.8M567.7,123.8L568.9,119.6M564.3,117.2L568.9,119.6M563.8,136.9L568.5,136M568.5,136L573.6,135M570.7,128.8L575.6,128.3M568.9,119.6L574,119.8" stroke="#4a4a4a" stroke-width="1.28" fill="none" stroke-linecap="round"/><path d="M573.6,135L577.4,132.1M573.6,135L574.2,134.8M575.6,128.3L577.6,123.6M575.6,128.3L577.4,132.1M574,119.8L574.7,117.9M574,119.8L577.6,123.6M577.4,132.1L581.9,131.3M577.6,123.6L582.1,123.5M574.7,117.9L579.4,118.2" stroke="#4a4a4a" stroke-width="1.16" fill="none" stroke-linecap="round"/><path d="M581.9,131.3L582.7,133.2M581.9,131.3L584.4,127.4M582.1,123.5L584.4,127.4M582.1,123.5L583,120.1M579.4,118.2L583,120.1M579,133.9L582.7,133.2" stroke="#4a4a4a" stroke-width="1.03" fill="none" stroke-linecap="round"/><ellipse cx="556.2" cy="174.5" rx="19.4" ry="16.8" transform="rotate(72.7 556.2 174.5)" fill="#45b2c0"/><path d="M542.1,178.9 L543.6,183.8 A17,14.8 72.7 0 0 571.8,175 L570.3,170.1 A17,14.8 72.7 0 0 542.1,178.9 Z" fill="url(#g6)"/><ellipse cx="557.7" cy="179.4" rx="17" ry="14.8" transform="rotate(72.7 557.7 179.4)" fill="#f1ea78"/><ellipse cx="557.7" cy="179.4" rx="14.5" ry="12.6" transform="rotate(72.7 557.7 179.4)" fill="#f3eb52"/><path d="M546.7,176.4L547.9,176.4M567.3,172.3L565.1,173M560.6,168.9L555.7,172.3M560.6,168.9L565.1,173M550.3,171L547.9,176.4M550.3,171L555.7,172.3M565.1,173L565.4,178.8M555.7,172.3L556.6,178.1M547.9,176.4L549.4,182" stroke="#6c6c6c" stroke-width="1.12" fill="none" stroke-linecap="round"/><path d="M565.4,178.8L567.5,183.4M565.4,178.8L561.7,180.5M556.6,178.1L561.7,180.5M556.6,178.1L552.8,182.3M549.4,182L552.8,182.3M549.4,182L549.6,187M567.5,183.4L567.6,188.5M561.7,180.5L562.2,185.8M552.8,182.3L553.9,187.4" stroke="#6c6c6c" stroke-width="1.02" fill="none" stroke-linecap="round"/><path d="M551,191.7L552,191.8M567.6,188.5L565.9,189.1M562.2,185.8L558.2,188.5M562.2,185.8L565.9,189.1M553.9,187.4L552,191.8M553.9,187.4L558.2,188.5M565.9,189.1L566.1,193.7M558.2,188.5L559,193.2M552,191.8L553.1,196.3" stroke="#6c6c6c" stroke-width="0.92" fill="none" stroke-linecap="round"/><path d="M566.1,193.7L567.8,197.4M566.1,193.7L563.1,195.1M559,193.2L563.1,195.1M559,193.2L555.9,196.5M553.1,196.3L555.9,196.5M553.1,196.3L553.4,200.3" stroke="#6c6c6c" stroke-width="0.82" fill="none" stroke-linecap="round"/><path d="M546.7,176.4L549.7,181.3M553.4,179.7L559.1,182M553.4,179.7L549.7,181.3M563.7,177.7L566.9,177.9M563.7,177.7L559.1,182M567.3,172.3L566.9,177.9M549.7,181.3L551,186.5M559.1,182L559.8,187.2M566.9,177.9L567,183.3" stroke="#4a4a4a" stroke-width="1.31" fill="none" stroke-linecap="round"/><path d="M551,186.5L549.6,187M551,186.5L555.5,189.9M559.8,187.2L555.5,189.9M559.8,187.2L564.4,188.1M567,183.3L564.4,188.1M567,183.3L567.5,183.4M549.6,187L551,191.7M555.5,189.9L556.4,194.4M564.4,188.1L564.7,192.8" stroke="#4a4a4a" stroke-width="1.20" fill="none" stroke-linecap="round"/><path d="M551,191.7L553.4,195.7M556.4,194.4L561,196.3M556.4,194.4L553.4,195.7M564.7,192.8L567.3,193M564.7,192.8L561,196.3M567.6,188.5L567.3,193M553.4,195.7L554.5,199.9M561,196.3L561.6,200.5M567.3,193L567.4,197.4" stroke="#4a4a4a" stroke-width="1.08" fill="none" stroke-linecap="round"/><path d="M554.5,199.9L553.4,200.3M554.5,199.9L558,202.6M561.6,200.5L558,202.6M561.6,200.5L565.3,201.2M567.4,197.4L565.3,201.2M567.4,197.4L567.8,197.4" stroke="#4a4a4a" stroke-width="0.96" fill="none" stroke-linecap="round"/><path d="M365.1,105.4 L504.2,215.8 A10.7,19.5 36.2 0 0 527.2,184.4 L379.9,85 A5.3,12.6 36.2 0 0 365.1,105.4 Z" fill="url(#g7)"/><ellipse cx="515.7" cy="200.1" rx="10.6" ry="19.3" transform="rotate(36.2 515.7 200.1)" fill="#45b2c0"/><path d="M505.7,213.8 L513.5,219.5 A9.3,17 36.2 0 0 533.6,192.2 L525.7,186.4 A9.3,17 36.2 0 0 505.7,213.8 Z" fill="url(#g8)"/><ellipse cx="523.6" cy="205.9" rx="9.3" ry="17" transform="rotate(36.2 523.6 205.9)" fill="#f1ea78"/><ellipse cx="523.6" cy="205.9" rx="7.9" ry="14.4" transform="rotate(36.2 523.6 205.9)" fill="#f3eb52"/><path d="M526.2,192.2L523.3,195.8M526.2,192.2L531.1,196.7M516,195.9L514.1,203M516,195.9L523.3,195.8M509.7,205.1L512.8,211M509.7,205.1L514.1,203M523.3,195.8L527.1,201.3M514.1,203L518.6,208M512.8,211L517.4,215.4" stroke="#6c6c6c" stroke-width="1.28" fill="none" stroke-linecap="round"/><path d="M534.4,202.2L533.2,203.3M527.1,201.3L533.2,203.3M527.1,201.3L524.4,206.5M518.6,208L524.4,206.5M518.6,208L519,214.3M517.4,215.4L519,214.3M533.2,203.3L536.3,208.2M524.4,206.5L528.2,211.2M519,214.3L523.2,218.5" stroke="#6c6c6c" stroke-width="1.17" fill="none" stroke-linecap="round"/><path d="M536.3,208.2L534,211.1M536.3,208.2L540.2,211.8M528.2,211.2L526.7,216.8M528.2,211.2L534,211.1M523.2,218.5L525.7,223.2M523.2,218.5L526.7,216.8M534,211.1L537.1,215.5M526.7,216.8L530.3,220.8M525.7,223.2L529.3,226.7" stroke="#6c6c6c" stroke-width="1.05" fill="none" stroke-linecap="round"/><path d="M542.8,216.2L541.8,217M537.1,215.5L541.8,217M537.1,215.5L534.9,219.6M530.3,220.8L534.9,219.6M530.3,220.8L530.6,225.9M529.3,226.7L530.6,225.9" stroke="#6c6c6c" stroke-width="0.94" fill="none" stroke-linecap="round"/><path d="M513.6,210.4L520.7,211.9M513.6,210.4L512.8,211M523.8,206.7L529.8,204.8M523.8,206.7L520.7,211.9M530.1,197.5L531.1,196.7M530.1,197.5L529.8,204.8M520.7,211.9L524.7,216.3M529.8,204.8L533.2,209.6M531.1,196.7L534.4,202.2" stroke="#4a4a4a" stroke-width="1.50" fill="none" stroke-linecap="round"/><path d="M524.7,216.3L522.4,218.9M524.7,216.3L531.2,215.7M533.2,209.6L531.2,215.7M533.2,209.6L536.5,207.9M534.4,202.2L536.5,207.9M517.4,215.4L522.4,218.9M522.4,218.9L526.3,222.8M531.2,215.7L534.4,219.8M536.5,207.9L539.4,212.5" stroke="#4a4a4a" stroke-width="1.37" fill="none" stroke-linecap="round"/><path d="M526.3,222.8L531.9,223.9M526.3,222.8L525.7,223.2M534.4,219.8L539.2,218.2M534.4,219.8L531.9,223.9M539.4,212.5L540.2,211.8M539.4,212.5L539.2,218.2M531.9,223.9L535.1,227.4M539.2,218.2L541.9,222.1M540.2,211.8L542.8,216.2" stroke="#4a4a4a" stroke-width="1.24" fill="none" stroke-linecap="round"/><path d="M535.1,227.4L533.3,229.5M535.1,227.4L540.2,226.9M541.9,222.1L540.2,226.9M541.9,222.1L544.5,220.7M542.8,216.2L544.5,220.7M529.3,226.7L533.3,229.5" stroke="#4a4a4a" stroke-width="1.10" fill="none" stroke-linecap="round"/></g><g><path d="M924.1,87.4L924.8,86.1M920.7,79L922.6,81M920.7,79L923,77.3M921.8,84.5L924.8,86.1M921.8,84.5L922.6,81M922.6,81L926.1,80M924.8,86.1L928.2,85M926.4,76.4L927.6,77.1M926.1,80L927.6,77.1M926.1,80L928.6,82.3M928.2,85L928.6,82.3M928.2,85L930.9,85M927.6,77.1L930.9,76.2M928.6,82.3L931.9,81.2M934.1,83.9L934.7,82.8M930.9,76.2L932.7,78.1M930.9,76.2L933.1,74.7M931.9,81.2L934.7,82.8M931.9,81.2L932.7,78.1" stroke="#777" stroke-width="0.70" fill="none" stroke-linecap="round"/><path d="M924.1,87.4L926.4,85.6M924.5,83.6L925.3,80.2M924.5,83.6L926.4,85.6M922.4,78.5L923,77.3M922.4,78.5L925.3,80.2M926.4,85.6L929.8,84.5M925.3,80.2L928.7,79.2M923,77.3L926.4,76.4M929.8,84.5L930.9,85M929.8,84.5L931.2,81.5M928.7,79.2L931.2,81.5M928.7,79.2L929.2,76.6M926.4,76.4L929.2,76.6M930.9,85L934.1,83.9M931.2,81.5L934.5,80.5M929.2,76.6L932.5,75.7M934.1,83.9L936.2,82.3M934.5,80.5L935.2,77.3M934.5,80.5L936.2,82.3M932.5,75.7L933.1,74.7M932.5,75.7L935.2,77.3" stroke="#3c3c3c" stroke-width="1.00" fill="none" stroke-linecap="round"/><path d="M757,146 L927.7,92.2 A3.7,10.7 -17 0 0 921.5,71.8 L749.8,122.4 A0.7,12.3 -17 0 0 757,146 Z" fill="url(#g9)"/><path d="M785.5,35.5L784.2,35.6M780.5,42.2L781.2,39.7M780.5,42.2L778.1,41.2M784.3,38.8L784.2,35.6M784.3,38.8L781.2,39.7M781.2,39.7L778.7,37.5M784.2,35.6L781.7,33.5M775.7,38.9L775.7,37.7M778.7,37.5L775.7,37.7M778.7,37.5L779.4,34.4M781.7,33.5L779.4,34.4M781.7,33.5L780.5,31.3M775.7,37.7L773.4,35.5M779.4,34.4L776.9,32.2M778,29.2L776.9,29.3M773.4,35.5L774,33.1M773.4,35.5L771.1,34.5M776.9,32.2L776.9,29.3M776.9,32.2L774,33.1M774,33.1L771.7,31M776.9,29.3L774.5,27.3" stroke="#777" stroke-width="0.70" fill="none" stroke-linecap="round"/><path d="M785.5,35.5L783,34.6M782.4,37L779.2,38M782.4,37L783,34.6M779.3,41.2L778.1,41.2M779.3,41.2L779.2,38M783,34.6L780.5,32.4M779.2,38L776.8,35.8M778.1,41.2L775.7,38.9M780.5,32.4L780.5,31.3M780.5,32.4L777.5,32.7M776.8,35.8L777.5,32.7M776.8,35.8L774.5,36.6M775.7,38.9L774.5,36.6M780.5,31.3L778,29.2M777.5,32.7L775.1,30.6M774.5,36.6L772.2,34.4M778,29.2L775.7,28.3M775.1,30.6L772.2,31.5M775.1,30.6L775.7,28.3M772.2,34.4L771.1,34.5M772.2,34.4L772.2,31.5M775.7,28.3L773.4,26.3M772.2,31.5L770,29.4M771.1,34.5L768.9,32.3" stroke="#3c3c3c" stroke-width="1.00" fill="none" stroke-linecap="round"/><path d="M773.6,45.6 L921.1,194.9 A7.7,22.1 42.3 0 0 950.9,162.1 L788.2,29.6 A5.4,10.8 42.3 0 0 773.6,45.6 Z" fill="url(#g10)"/><path d="M902,65.6 L933.7,178 A16.3,18.5 69.5 0 0 968.3,165 L918.4,59.4 A5.3,8.8 69.5 0 0 902,65.6 Z" fill="url(#g11)"/><path d="M784.4,159.4 L948.4,142.4 A7.8,19.6 -9.6 0 0 941.8,103.8 L781.4,141.6 A5.4,9 -9.6 0 0 784.4,159.4 Z" fill="url(#g12)"/><ellipse cx="945.1" cy="123.1" rx="7.6" ry="19" transform="rotate(-9.6 945.1 123.1)" fill="#7fd3dc"/><ellipse cx="945.5" cy="123" rx="6.5" ry="16.3" transform="rotate(-9.6 945.5 123)" fill="#3fa9b8"/><path d="M936.7,112.3L938.3,115.7M936.7,112.3L942.5,111.7M934.3,121.5L938.4,127.3M934.3,121.5L938.3,115.7M936.8,132.9L942.6,135M936.8,132.9L938.4,127.3M938.3,115.7L944.9,115.4M938.4,127.3L945,126.5M942.6,135L949,133.8M948.9,111.6L949.7,112M944.9,115.4L949.7,112M944.9,115.4L947.5,120.4M945,126.5L947.5,120.4M945,126.5L949.8,130.8M949,133.8L949.8,130.8" stroke="#6c6c6c" stroke-width="1.20" fill="none" stroke-linecap="round"/><path d="M949.7,112L955.8,111.9M947.5,120.4L953.7,119.9M949.8,130.8L955.9,129.8M955.8,111.9L957.2,114.8M955.8,111.9L960.8,111.4M953.7,119.9L957.3,125M953.7,119.9L957.2,114.8M955.9,129.8L961,131.7M955.9,129.8L957.3,125" stroke="#6c6c6c" stroke-width="1.11" fill="none" stroke-linecap="round"/><path d="M957.2,114.8L963,114.6M957.3,125L963,124.3M961,131.7L966.6,130.7M966.5,111.3L967.2,111.7M963,114.6L967.2,111.7M963,114.6L965.2,119M963,124.3L965.2,119M963,124.3L967.3,128.1M966.6,130.7L967.3,128.1M967.2,111.7L972.5,111.6M965.2,119L970.7,118.5M967.3,128.1L972.6,127.2" stroke="#6c6c6c" stroke-width="1.02" fill="none" stroke-linecap="round"/><path d="M972.5,111.6L973.7,114.1M972.5,111.6L976.9,111.2M970.7,118.5L973.8,123M970.7,118.5L973.7,114.1M972.6,127.2L977,128.8M972.6,127.2L973.8,123" stroke="#6c6c6c" stroke-width="0.94" fill="none" stroke-linecap="round"/><path d="M941.8,135.1L946.8,131M941.8,135.1L942.6,135M944.2,125.9L946.7,119.4M944.2,125.9L946.8,131M941.7,114.5L942.5,111.7M941.7,114.5L946.7,119.4M946.8,131L953,130.1M946.7,119.4L953,119M942.5,111.7L948.9,111.6M953,130.1L954.4,132.8M953,130.1L956.6,124.4M953,119L956.6,124.4M953,119L954.3,114M948.9,111.6L954.3,114M949,133.8L954.4,132.8" stroke="#4a4a4a" stroke-width="1.41" fill="none" stroke-linecap="round"/><path d="M954.4,132.8L960.3,131.8M956.6,124.4L962.4,123.8M954.3,114L960.2,113.8M960.3,131.8L964.6,128.3M960.3,131.8L961,131.7M962.4,123.8L964.6,118.1M962.4,123.8L964.6,128.3M960.2,113.8L960.8,111.4M960.2,113.8L964.6,118.1" stroke="#4a4a4a" stroke-width="1.31" fill="none" stroke-linecap="round"/><path d="M964.6,128.3L970.1,127.4M964.6,118.1L970,117.7M960.8,111.4L966.5,111.3M970.1,127.4L971.2,129.8M970.1,127.4L973.2,122.5M970,117.7L973.2,122.5M970,117.7L971.1,113.4M966.5,111.3L971.1,113.4M966.6,130.7L971.2,129.8M971.2,129.8L976.4,128.9M973.2,122.5L978.2,121.9M971.1,113.4L976.3,113.2" stroke="#4a4a4a" stroke-width="1.20" fill="none" stroke-linecap="round"/><path d="M976.4,128.9L980.2,125.8M976.4,128.9L977,128.8M978.2,121.9L980.1,117M978.2,121.9L980.2,125.8M976.3,113.2L976.9,111.2M976.3,113.2L980.1,117" stroke="#4a4a4a" stroke-width="1.10" fill="none" stroke-linecap="round"/><ellipse cx="951" cy="171.5" rx="15.8" ry="17.9" transform="rotate(69.5 951 171.5)" fill="#7fd3dc"/><ellipse cx="951.1" cy="171.8" rx="13.5" ry="15.4" transform="rotate(69.5 951.1 171.8)" fill="#3fa9b8"/><path d="M938.8,168.9L940.1,168.9M961,163.2L958.8,164.1M953.5,160L948.3,163.9M953.5,160L958.8,164.1M942.4,162.8L940.1,168.9M942.4,162.8L948.3,163.9M958.8,164.1L959.6,170.3M948.3,163.9L949.6,170.1M940.1,168.9L941.8,174.9M959.6,170.3L962.4,175.4M959.6,170.3L955.6,172.4M949.6,170.1L955.6,172.4M949.6,170.1L945.5,175M941.8,174.9L945.5,175M941.8,174.9L942.3,180.5" stroke="#6c6c6c" stroke-width="1.13" fill="none" stroke-linecap="round"/><path d="M962.4,175.4L963,181M955.6,172.4L956.5,178.2M945.5,175L947,180.7M943.9,185.9L944.9,185.9M963,181L961.1,181.8M956.5,178.2L952.1,181.6M956.5,178.2L961.1,181.8M947,180.7L944.9,185.9M947,180.7L952.1,181.6" stroke="#6c6c6c" stroke-width="1.05" fill="none" stroke-linecap="round"/><path d="M961.1,181.8L961.8,187.2M952.1,181.6L953.2,187M944.9,185.9L946.4,191.1M961.8,187.2L964.2,191.5M961.8,187.2L958.3,189M953.2,187L958.3,189M953.2,187L949.6,191.2M946.4,191.1L949.6,191.2M946.4,191.1L946.8,196" stroke="#6c6c6c" stroke-width="0.97" fill="none" stroke-linecap="round"/><path d="M964.2,191.5L964.8,196.4M958.3,189L959.2,194M949.6,191.2L950.9,196.2M948.2,200.7L949.1,200.7M964.8,196.4L963.2,197.1M959.2,194L955.3,196.9M959.2,194L963.2,197.1M950.9,196.2L949.1,200.7M950.9,196.2L955.3,196.9" stroke="#6c6c6c" stroke-width="0.88" fill="none" stroke-linecap="round"/><path d="M938.8,168.9L942.3,174.1M946.3,172.1L952.7,174.4M946.3,172.1L942.3,174.1M957.4,169.3L961,169.3M957.4,169.3L952.7,174.4M961,163.2L961,169.3M942.3,174.1L943.9,179.9M952.7,174.4L953.8,180.1M961,169.3L961.7,175.3M943.9,179.9L942.3,180.5M943.9,179.9L949.1,183.4M953.8,180.1L949.1,183.4M953.8,180.1L959.1,180.9M961.7,175.3L959.1,180.9M961.7,175.3L962.4,175.4" stroke="#4a4a4a" stroke-width="1.33" fill="none" stroke-linecap="round"/><path d="M942.3,180.5L943.9,185.9M949.1,183.4L950.3,188.7M959.1,180.9L959.9,186.3M943.9,185.9L946.8,190.5M950.3,188.7L955.9,190.7M950.3,188.7L946.8,190.5M959.9,186.3L963,186.3M959.9,186.3L955.9,190.7M963,181L963,186.3" stroke="#4a4a4a" stroke-width="1.23" fill="none" stroke-linecap="round"/><path d="M946.8,190.5L948.2,195.4M955.9,190.7L956.9,195.6M963,186.3L963.7,191.5M948.2,195.4L946.8,196M948.2,195.4L952.7,198.5M956.9,195.6L952.7,198.5M956.9,195.6L961.4,196.3M963.7,191.5L961.4,196.3M963.7,191.5L964.2,191.5" stroke="#4a4a4a" stroke-width="1.14" fill="none" stroke-linecap="round"/><path d="M946.8,196L948.2,200.7M952.7,198.5L953.8,203.1M961.4,196.3L962.1,201M948.2,200.7L950.8,204.6M953.8,203.1L958.6,204.8M953.8,203.1L950.8,204.6M962.1,201L964.8,201M962.1,201L958.6,204.8M964.8,196.4L964.8,201" stroke="#4a4a4a" stroke-width="1.04" fill="none" stroke-linecap="round"/><path d="M752.3,103.8 L896.4,214.3 A11.3,20.5 34.6 0 0 919.8,180.5 L765.5,84.8 A4.9,11.6 34.6 0 0 752.3,103.8 Z" fill="url(#g13)"/><ellipse cx="908.1" cy="197.4" rx="10.9" ry="19.9" transform="rotate(34.6 908.1 197.4)" fill="#7fd3dc"/><ellipse cx="908.4" cy="197.6" rx="9.4" ry="17" transform="rotate(34.6 908.4 197.6)" fill="#3fa9b8"/><path d="M910.4,182.9L907.5,186.7M910.4,182.9L915.9,187.4M899.8,187.2L897.9,194.6M899.8,187.2L907.5,186.7M893.5,197L896.8,203.3M893.5,197L897.9,194.6M907.5,186.7L911.8,192.3M897.9,194.6L902.7,199.8M896.8,203.3L901.6,208.1M919.9,192.9L918.6,194M911.8,192.3L918.6,194M911.8,192.3L908.9,197.9M902.7,199.8L908.9,197.9M902.7,199.8L903.1,206.8M901.6,208.1L903.1,206.8" stroke="#6c6c6c" stroke-width="1.25" fill="none" stroke-linecap="round"/><path d="M918.6,194L922.4,199.2M908.9,197.9L913.2,203M903.1,206.8L907.7,211.5M922.4,199.2L919.9,202.5M922.4,199.2L927.2,203.2M913.2,203L911.5,209.4M913.2,203L919.9,202.5M907.7,211.5L910.5,217M907.7,211.5L911.5,209.4" stroke="#6c6c6c" stroke-width="1.16" fill="none" stroke-linecap="round"/><path d="M919.9,202.5L923.6,207.4M911.5,209.4L915.7,214M910.5,217L914.7,221.1M930.6,208L929.5,208.9M923.6,207.4L929.5,208.9M923.6,207.4L921.1,212.3M915.7,214L921.1,212.3M915.7,214L916,220.1M914.7,221.1L916,220.1M929.5,208.9L932.9,213.5M921.1,212.3L924.8,216.7M916,220.1L920,224.1" stroke="#6c6c6c" stroke-width="1.07" fill="none" stroke-linecap="round"/><path d="M932.9,213.5L930.6,216.3M932.9,213.5L937,216.9M924.8,216.7L923.4,222.4M924.8,216.7L930.6,216.3M920,224.1L922.5,228.9M920,224.1L923.4,222.4" stroke="#6c6c6c" stroke-width="0.98" fill="none" stroke-linecap="round"/><path d="M897.8,202.5L905.2,204M897.8,202.5L896.8,203.3M908.4,198.2L914.8,196.1M908.4,198.2L905.2,204M914.7,188.5L915.9,187.4M914.7,188.5L914.8,196.1M905.2,204L909.6,208.7M914.8,196.1L918.8,201.2M915.9,187.4L919.9,192.9M909.6,208.7L907,211.9M909.6,208.7L916.7,208M918.8,201.2L916.7,208M918.8,201.2L922.5,199.1M919.9,192.9L922.5,199.1M901.6,208.1L907,211.9" stroke="#4a4a4a" stroke-width="1.47" fill="none" stroke-linecap="round"/><path d="M907,211.9L911.4,216.3M916.7,208L920.7,212.6M922.5,199.1L926.2,204.1M911.4,216.3L917.9,217.6M911.4,216.3L910.5,217M920.7,212.6L926.2,210.7M920.7,212.6L917.9,217.6M926.2,204.1L927.2,203.2M926.2,204.1L926.2,210.7" stroke="#4a4a4a" stroke-width="1.37" fill="none" stroke-linecap="round"/><path d="M917.9,217.6L921.7,221.7M926.2,210.7L929.7,215.1M927.2,203.2L930.6,208M921.7,221.7L919.5,224.5M921.7,221.7L927.9,221.1M929.7,215.1L927.9,221.1M929.7,215.1L933,213.3M930.6,208L933,213.3M914.7,221.1L919.5,224.5M919.5,224.5L923.3,228.3M927.9,221.1L931.3,225.1M933,213.3L936.1,217.7" stroke="#4a4a4a" stroke-width="1.26" fill="none" stroke-linecap="round"/><path d="M923.3,228.3L928.9,229.4M923.3,228.3L922.5,228.9M931.3,225.1L936.2,223.4M931.3,225.1L928.9,229.4M936.1,217.7L937,216.9M936.1,217.7L936.2,223.4" stroke="#4a4a4a" stroke-width="1.15" fill="none" stroke-linecap="round"/></g><g><path d="M912.2,348.2L912.9,346.7M908.3,338L910.6,340.5M908.3,338L911.1,336.2M909.4,344.7L912.9,346.7M909.4,344.7L910.6,340.5M910.6,340.5L914.7,339.4M912.9,346.7L917.1,345.5M915.3,335.2L916.6,336M914.7,339.4L916.6,336M914.7,339.4L917.7,342.3M917.1,345.5L917.7,342.3M917.1,345.5L920.3,345.6M916.6,336L920.6,335M917.7,342.3L921.7,341.1M924.2,344.3L924.9,343M920.6,335L922.8,337.3M920.6,335L923.2,333.3M921.7,341.1L924.9,343M921.7,341.1L922.8,337.3" stroke="#777" stroke-width="0.70" fill="none" stroke-linecap="round"/><path d="M912.2,348.2L915,346.2M912.7,343.8L913.8,339.6M912.7,343.8L915,346.2M910.3,337.5L911.1,336.2M910.3,337.5L913.8,339.6M915,346.2L919,344.9M913.8,339.6L917.9,338.6M911.1,336.2L915.3,335.2M919,344.9L920.3,345.6M919,344.9L920.8,341.4M917.9,338.6L920.8,341.4M917.9,338.6L918.5,335.5M915.3,335.2L918.5,335.5M920.3,345.6L924.2,344.3M920.8,341.4L924.7,340.3M918.5,335.5L922.5,334.5M924.2,344.3L926.8,342.5M924.7,340.3L925.7,336.5M924.7,340.3L926.8,342.5M922.5,334.5L923.2,333.3M922.5,334.5L925.7,336.5" stroke="#3c3c3c" stroke-width="1.00" fill="none" stroke-linecap="round"/><path d="M717.1,410 L916.2,355.4 A4.9,14 -15.5 0 0 908.8,328.4 L709.9,384.4 A2.7,13.3 -15.5 0 0 717.1,410 Z" fill="url(#g14)"/><path d="M729.4,408.9L732.4,406.7L730.1,405.3L725.5,406.2L723.6,408.5L725.2,410ZM732.9,405.2L732.4,402.8L728.7,402.1L725,404.3L725.6,407.2L729.7,407.4ZM731,401.9L733.4,399.5L731.6,397L728,397.1L725.3,399.8L727.4,402.4ZM729.8,395.9L731.8,393.2L730.8,390.2L726.8,389.6L724.4,392.8L726.3,395.6ZM721.3,387.7L724.2,390.3L728.8,389.5L730.1,386L728,383L723.1,384ZM719,383.2L720.7,385L724.9,384.4L727.8,381.9L725.4,380.1L721,380.5ZM718.1,383L722.4,382L725,379.8L722.5,378.7L718.1,379.9L716.3,381.8ZM740.4,405.2L739.3,403.6L735.6,403.4L732.5,405.5L732.3,407.4L736.6,407.2ZM734,401.9L734.6,404.4L738,404.8L741.4,403L741.6,400.2L737.5,399.8ZM733.3,398.1L736.2,399.9L740.5,399.6L741.8,396.7L740.3,394.3L736,395.3ZM740.3,392.4L741.5,388.9L737.7,387.7L733.9,389.2L732.3,392.5L736.1,393.9ZM736.5,381.9L732.9,381.3L731.3,384.3L732.1,387.6L735.8,386.9L738.5,384.5ZM728.7,381.8L731.7,382.3L735.2,380.7L734.7,378.4L731.4,378.1L727.7,379.6ZM731.5,376.7L727.9,376.9L725.6,378.7L726.1,380.2L729.3,379.9L732.1,378.4ZM742.6,405.4L747.3,404.3L749.3,401.9L746.8,400.8L742.7,401.8L740.3,404ZM747,397.2L743.8,399.1L742.8,401.6L745.9,402.7L749.4,401.3L749.6,398.8ZM743.7,393L743.6,396.2L746.2,398.5L749.5,396.7L749.9,393.6L747.2,391.9ZM742.2,387L741.8,390.5L745.7,391.9L749.4,389.7L748.6,386.5L745.5,385.2ZM739.4,380.6L739.2,384L742.9,384.9L746.5,383.2L747,380.1L743.4,379.4ZM743.4,378.9L743.7,376.4L740.9,375.5L737.5,376.8L736.7,379.1L739.5,380.1ZM741,374.4L737.4,374.3L733.4,375.8L733.3,378.1L737.2,378.2L740.7,376.4ZM755.3,401.9L757.8,399.8L755.7,398.6L752,399.4L749,401.4L751.3,402.6ZM752,396.6L750.3,399.6L754.3,400.4L758.1,398.7L759.7,395.9L756,395.2ZM751.9,392.2L752.3,395.1L756.5,395.4L759.8,392.8L758.5,390.1L754.5,389.5ZM756.9,382.6L752.8,383.5L750,386.1L752.3,388.5L756.2,388.6L758.2,385.6ZM753.7,376.7L749.8,377.4L748.1,380.2L749.8,383.1L754.5,382.1L756.9,378.7ZM745.1,374.6L745.8,377.6L749.5,378L752.3,375.8L751.9,373.2L748.4,372.3ZM746.2,371.5L742.2,373.5L742,375.6L746,375.7L749.4,373.8L749.4,372.1ZM763.8,395.9L759.5,397.1L758.4,399.4L761,400.5L764.8,398.9L766.2,397ZM765.2,392.6L761.8,393.5L759.8,396.4L762.7,398.7L766.8,397.3L767.5,394.3ZM760.4,389.5L761.6,392.5L765.4,393.1L767.8,390.5L767.4,387.5L763.4,386.6ZM761.8,379.8L759.6,382.9L760.4,386.7L764.6,386.7L767.4,383.9L765.7,380.5ZM758.3,374.8L756.5,378L759.4,380.1L763.7,379.7L765.8,376L762.3,373.8ZM759.7,369.8L755.1,370.7L753.4,373.8L756.1,375.6L760.6,374.9L761.8,371.9ZM750.3,372.6L753.7,373.2L757.9,372.1L759.1,369.9L756.4,368.8L751.7,370.1ZM771.8,393.4L768,395.1L767.8,397.3L771.1,398L774.2,396.1L775.4,393.9ZM771.1,396.1L775.4,394.5L777.9,391.7L775.1,389.6L770.8,391L768.5,393.8ZM770.4,389.4L773.6,391.1L777,388.8L776.6,385.6L773.3,384.1L769.9,386.3ZM774.7,382.8L776.9,379.8L774.3,377.1L769.3,378.4L767.3,382L770.5,384.2ZM773.8,373.1L770.6,371.5L767.1,372.8L765.6,376.1L769.1,377.7L773.2,376.7ZM762.5,370L763.5,373L767.7,372.7L770.5,370.5L769.8,367.8L765.9,367.5ZM761.9,367.1L760.3,369.3L761.9,370.7L765.7,369.9L767.7,367.9L766.2,366.3ZM780.6,391.2L776.3,393L777.3,394.8L780.7,395.3L784.3,393.2L784.6,391.2ZM784.7,386.9L780.2,388.3L777.6,391.1L780.2,393.1L784.7,392.5L787.2,389.4ZM786.1,382.8L782.4,381.5L779,383.9L779.1,387.2L782.9,389.1L786.2,386.1ZM783.8,375.2L779.9,375.4L777.2,378.2L779.2,381.3L783.2,381.6L785.5,378.4ZM779.8,368.1L774.9,369.8L774.8,373.7L778.4,375.3L782.4,373.7L783,370.3ZM779.1,364.8L774.8,365.3L771.5,367.7L773.1,370.4L777.3,370.2L780.6,367.6ZM771.5,368.3L776.2,366.9L778.3,364.5L774.9,363.7L769.9,365.1L768,367.6ZM789.9,392.7L794.1,390.9L794.2,388.5L790,388.4L786.1,390.3L786.3,392.4ZM791.4,384.2L788.1,386.8L787.5,390.2L791.8,390.4L794.9,388.5L795.1,385.6ZM789.2,385.9L794.2,385L796.8,381.8L794.3,379.4L789.4,379.5L787.3,383ZM794.7,376.6L794.9,372.9L790.3,372.7L787,374.9L787.4,378L791.2,378.9ZM791,366.8L787.3,366.4L784.1,368.9L785.5,372L789.4,372.4L792.7,369.8ZM782.5,367.4L786.5,367.6L788.8,365L788.2,362.7L784.1,362.5L781.5,365.1ZM785,360.7L780.3,362L778,364.4L780,365.9L784.5,364.8L787.3,362.4ZM797.5,386.1L794.3,388.7L796.2,390.5L801,389.6L803.7,387.4L802.3,385.7ZM801.5,387.4L805.4,385.5L804.5,382.8L800.4,382.2L797.7,384.8L798,387.1ZM804.5,381.8L804.8,378.4L801.9,376.5L798,377.6L798.1,381.2L800.7,384.1ZM798.7,376.4L802.7,376L804.4,372.4L801.6,369.9L797.7,370.2L796.6,373.7ZM793.8,369.3L798.3,370.2L802.7,367.5L801.3,364.4L797.2,363.5L793.8,366.1ZM798.3,362L796.8,360L793,360.4L790.5,362.9L792.2,365.3L796.8,364.8ZM790.3,362.9L794.2,361.8L796.7,359.4L793.6,358.3L789.4,359.7L787.6,361.9ZM810.4,383.2L805.8,384.4L804.2,386.9L807.5,387.7L811.8,386.3L813,384.1ZM815.9,381.4L813.1,379.1L807.9,380.1L806.4,383.3L808.2,385.7L813,384.5ZM806.7,376.2L806.8,379.7L811.2,380.7L815.1,378.1L814.3,375.1L810.7,373.6ZM806.6,368.4L805.5,372L808.9,374L813.5,372.9L814.5,368.8L810.7,366.8ZM805.3,367.8L810.1,366.7L811.9,363.2L809.6,359.9L804.2,361L802.7,364.9ZM805.9,356.6L801.2,357.5L799.8,360.9L802.6,363.1L806.9,361.5L809.1,358.5ZM806,357.2L804.3,355.7L799.5,356.7L796.5,359L798.1,360.7L803.1,359.4ZM814.3,384.4L817.9,385.1L822.2,383.3L823.1,381L819.4,380.5L815.4,382.1ZM820.4,376.7L816.8,378.9L816.9,381.6L820.3,382.9L824.5,380.9L823.8,377.9ZM818.2,378.2L823,377.3L825.1,374L823.3,370.6L818.4,371.7L816.6,375ZM822.8,365.3L819,364L815.2,366.2L816.1,370.2L820,371.7L823.4,369.2ZM814.5,359L813.3,362.3L815.7,365.2L819.8,363.9L820.6,360.4L818.3,357.5ZM813.2,353.6L809,356.4L810.7,359.3L814.7,359.9L819.1,357.6L818.2,354.1ZM808,357.7L812.9,356.9L815.8,354.6L813.8,353.3L809.5,354L807,356ZM825.3,379.3L824.6,381.6L827.8,382.7L831.8,380.7L832.5,378.4L829.2,377.7ZM828.4,374.4L826.4,377.3L827.1,380.1L831.9,379.6L834,376.8L833.1,374.2ZM834.1,373.8L835.1,370.1L831.6,367.8L827,369.7L825.8,373.5L829.5,375.7ZM829,361.8L825.9,363.9L826.1,367.3L829.8,368.7L833.4,366.3L833,362.5ZM824.7,355.8L822.3,359.2L825.1,362.2L829.1,361.4L831,358.1L828.9,354.7ZM827.2,351.5L822.2,351.2L818.8,354.4L820.8,356.7L825.5,357.1L828.6,354ZM816.2,354.8L820.7,355L825.5,353.1L824.6,350.9L821.2,350.3L816.5,352.1ZM839.1,379.3L843.5,377L842,375.4L838.1,375.4L834,377.5L834.7,379.3ZM844.2,374.6L844.3,371.7L839.5,371L835.1,374L836.1,377L840.9,377.1ZM845.2,367.8L842,364.7L837.7,366.3L835.8,370.2L839.4,372.4L843.7,371.9ZM843.2,362.3L842.2,359.2L837.8,359L835.2,362.1L836.4,365.5L840.7,365ZM839,351.7L834.3,353.4L832.2,356.8L835.1,359.4L839.7,358.4L842.4,354.6ZM834.8,348.2L829.8,349.7L828.9,353.3L832.9,354.8L837.1,352.8L838.5,349.6ZM832.2,351.6L836,349.2L834.3,347.5L829.7,348L826.8,350.2L827.7,351.9ZM852.9,373.1L850.1,371.9L845,373.5L843.7,376.2L847.4,377L851.5,375.2ZM850.3,374.6L854.9,372.3L855.1,369.1L850.5,368.7L845.7,370.7L846.1,373.7ZM846.1,365.3L847.1,369.2L851.7,370L856,367.2L854.6,363L849.8,362.4ZM844.2,360.8L847.5,364L852.5,361.8L854.8,358L851.3,355.2L846.2,356.8ZM849.6,348.8L844,349.5L841.5,353.8L844.7,356.7L850.2,356.4L852.1,352.2ZM839.7,348L839.8,350.9L844.3,351.9L848.8,349.2L848.1,346.3L843.8,345.3ZM836.6,346.6L836.5,349.2L841.1,349.3L845.3,347.2L845,344.9L841.1,344.9ZM858,374L862.4,372.5L863.6,370L860,369.5L855.4,370.7L855,373.1ZM863.2,365.3L858,366.8L856.4,369.7L858.8,371.3L863.1,370.4L865.7,367.6ZM864.4,360.5L860,359.1L856.2,362.3L857.4,366.6L862.1,367.4L865.5,364.3ZM864.3,357.2L864,353.2L858.8,352.8L854.8,355.8L856.1,359.5L860.8,360ZM862.8,348.8L859.4,345.7L854.5,347.7L852.8,351.1L855.4,354.2L860.7,352.9ZM859.8,344.4L856.5,342.5L851.5,343.7L849.9,346.7L852.3,348.7L857.1,347.6ZM856.1,343.4L854.7,341.4L849.7,342L846.7,344.5L848.1,346.5L852.6,345.6ZM870,370.6L874.6,368.5L873.2,366.7L868.9,366.9L864.9,369L865,371.3ZM876,363.5L871.4,362.9L867.2,365.2L865.8,368.4L871,368.5L876.1,366.6ZM871.4,364.1L875.3,362.1L875.9,358.1L871.7,356.8L866.9,358.5L867.1,362.8ZM872.5,358L874.7,353.8L873.1,350L868.6,350.2L865.4,353.4L867.5,357.3ZM871.4,344L866.9,344L863.8,346.6L864.4,350.1L869,350.7L872.6,347.8ZM870.2,343.4L868.5,340.4L864.3,339.9L860.5,342.2L860.1,345.6L865.3,346ZM860.8,343.8L865.7,341.8L867.6,338.8L862.8,338.2L858.1,340.4L856.6,343.1ZM876.1,365.5L875.7,367.9L879.9,368.2L883.5,366.2L884.4,363.9L880.4,363.4ZM885.7,361L882.1,359.3L877,361.5L877.8,364.9L881.5,366.7L886.5,364.3ZM886.8,358.3L886.6,354.5L881.4,353.4L877.1,356.7L878.4,360.1L882.9,361.8ZM886,349.8L882.9,347.1L878.2,347.8L875.7,351.6L878.7,354.7L884.1,354ZM877.2,348.5L881.8,346.7L882.7,342.8L879.8,339.4L874.7,341.4L874.4,345.5ZM877,336L872.4,337.9L870.9,341.1L873.8,343.3L879.1,342L879.6,338.5ZM877.6,337.8L876.5,335.5L871.3,335.7L867.4,338.3L868.7,340.4L873.4,340.3ZM892.9,360.7L888.4,361.7L886.1,364.1L888.7,365.4L893.7,364.2L896.3,361.6ZM896.2,357.4L891.7,357.3L887,359.7L888.2,363.1L893.7,363.2L897,360.1ZM896.9,352.3L892.9,351.4L888.9,353.2L888.6,357L893,358.7L896.7,355.8ZM894.5,344.2L889.5,344.9L886.7,348.2L889,351.1L894,350.5L896.7,347.1ZM893.7,338.4L889,337.2L883.9,339.8L884.2,344.1L889.5,345.8L893.6,342.3ZM883.1,334.4L881.2,337.9L884.4,340.1L888.8,338.8L890.3,335.7L888.2,332.7ZM886.7,336.5L888.1,333.6L884.9,332.3L879.8,333.7L878.7,336.4L881.6,337.6ZM901.9,362.4L907.2,360.2L907,357.3L901.7,357.4L896.5,359.7L897.7,362ZM908.3,357.6L908.6,354.3L903.6,353.6L899.2,356.3L898.3,359.6L903.5,359.6ZM901.4,348.4L897.4,352.2L900.7,355.7L906.7,355.2L910.2,350.9L907.3,347.1ZM901.5,340.8L897.7,343.9L898.8,347.8L903.7,348.2L908.1,345.4L906.6,341.3ZM896.2,340L899.8,342.3L903.9,340.2L905.1,335.7L900.5,333.5L896.2,335.8ZM900.3,330.3L895.3,331L892.1,334L893.8,337L898.6,336L901.5,333.4ZM897,329.3L892.2,330.4L888.9,332.9L891.4,334.4L896.2,333.8L898.4,331.2Z" fill="#a845bd"/><path d="M724.3,408.8L728.5,409.2L728,407.4ZM726.1,405.9L730.2,406.8L729.6,404.5ZM726.7,400.8L730.7,402.1L729.9,399.3ZM725.5,394.2L729.5,395.7L728.7,392.6ZM722.8,388L727.2,389.4L726.3,386.4ZM719.8,383.7L724,384.4L723.4,382.2ZM716.9,382.1L721,382.3L720.6,380.7ZM732.9,406.4L737,406.7L736.5,405.1ZM734.6,403.6L738.8,404.5L738.1,402.1ZM734.8,398.5L739.2,399.5L738.5,396.9ZM733.6,391.9L738.1,393.2L737.3,390.3ZM731.7,385.5L735.6,387L734.8,384ZM728.6,381.2L732.5,382L731.9,379.8ZM725.8,379.5L729.4,379.8L729,378.3ZM741.4,404.1L745.6,404.5L745.1,402.7ZM743.5,401.2L747.4,402.1L746.7,399.7ZM743.8,396.1L747.9,397.7L747,394.5ZM742.7,389.4L746.7,390.8L745.9,387.9ZM740,383.2L744.3,384.4L743.5,381.6ZM737.1,378.8L741.1,379.6L740.5,377.4ZM734.2,377.2L738.1,377.5L737.7,375.8ZM750.3,401.7L754.4,402L753.9,400.3ZM751.7,398.9L756.2,399.8L755.6,397.3ZM752.1,393.8L756.7,394.9L755.9,392.1ZM751.3,387L755.4,388.3L754.6,385.4ZM748.6,380.8L753.1,382.1L752.3,379.1ZM746.1,376.4L750,377.4L749.3,374.9ZM742.8,374.7L746.9,375L746.4,373.4ZM759.3,399.2L763.3,399.6L762.8,397.8ZM761.1,396.4L765.2,397.6L764.4,394.8ZM761.4,391.2L765.5,392.5L764.7,389.6ZM760.3,384.6L764.5,386.3L763.5,382.9ZM757.4,378.4L762.1,379.9L761.2,376.6ZM754.6,374L758.9,374.9L758.2,372.4ZM751.6,372.3L755.8,372.7L755.3,370.8ZM768.5,396.7L772.3,397.2L771.8,395.4ZM769.8,394L774.2,395L773.5,392.4ZM770.4,388.7L774.6,390.2L773.8,387.1ZM768.7,382.2L773.5,383.5L772.6,380.4ZM766.7,375.8L771,377.2L770.2,374.1ZM763.6,371.4L767.9,372.5L767.2,369.8ZM761,369.6L764.8,370L764.3,368.3ZM777.2,394.3L781.5,394.6L781,392.8ZM778.8,391.5L783.4,392.5L782.7,389.8ZM779.2,386.3L783.9,387.8L783,384.5ZM778.2,379.6L782.7,381.3L781.8,377.8ZM775.4,373.4L780.3,374.8L779.4,371.5ZM772.8,368.9L777.1,369.9L776.4,367.3ZM769.5,367.2L774,367.5L773.5,365.7ZM786.4,391.8L790.9,392.2L790.3,390.3ZM788.3,388.9L792.7,390.1L791.9,387.3ZM788.3,383.8L793.2,385L792.3,382ZM787.3,377.1L792,378.5L791.1,375.3ZM785.1,370.6L789.5,372L788.6,368.9ZM782.2,366.2L786.3,367.1L785.6,364.7ZM778.9,364.6L783.3,365L782.8,363.1ZM795.9,389.2L800.3,389.6L799.8,387.7ZM797.9,386.2L802,387.1L801.4,384.7ZM798.3,381.1L802.6,382.7L801.7,379.4ZM797.1,374.4L801.5,376.1L800.5,372.6ZM794,368.1L799,369.3L798.1,366.3ZM791.6,363.6L795.8,364.5L795.1,362ZM788.3,362L792.7,362.4L792.2,360.4ZM805.5,386.5L809.9,386.9L809.4,385.1ZM806.8,383.8L811.8,384.8L811,382ZM807.4,378.5L812.2,379.8L811.3,376.7ZM806.1,371.9L811.2,373.6L810.1,369.9ZM803.5,365.5L808.7,367.1L807.7,363.5ZM800.8,361L805.5,362.2L804.7,359.3ZM797.6,359.3L802.3,359.6L801.8,357.8ZM815,384L819.7,384.4L819.1,382.4ZM817,381L821.4,382.1L820.7,379.4ZM817.1,375.9L822,377.4L821.1,374ZM816.2,369.1L820.8,371L819.8,367.2ZM813.9,362.6L818.3,364.4L817.4,360.9ZM810.4,358.3L815.2,359.5L814.4,356.6ZM807.4,356.6L812,356.8L811.5,355ZM825.2,381.2L829.5,381.7L828.9,379.7ZM826.8,378.3L831.3,379.3L830.6,376.7ZM827,373.1L831.8,374.6L830.9,371.3ZM826.1,366.3L830.6,367.9L829.7,364.5ZM823.6,359.9L828.2,361.7L827.2,358.1ZM819.9,355.6L825.1,356.5L824.3,353.8ZM817.2,353.8L821.9,354.3L821.3,352.2ZM834.7,378.5L839.5,378.7L839,376.9ZM836.4,375.7L841.4,376.6L840.7,373.9ZM837.3,370.3L841.9,372.2L840.9,368.5ZM835.9,363.6L840.6,365L839.7,361.8ZM833.2,357.2L838.2,358.7L837.3,355.3ZM830.2,352.8L835,353.8L834.3,351ZM827.3,351L831.8,351.3L831.3,349.4ZM845,375.7L849.7,376.1L849.1,374.1ZM846.4,372.9L851.6,373.8L850.8,371.1ZM847.1,367.6L852.1,369.3L851.1,365.7ZM845.5,360.9L851,362.5L849.9,358.9ZM843,354.5L848.5,356.1L847.5,352.4ZM840.2,349.9L845.2,350.8L844.4,348.1ZM837.4,348.1L842,348.6L841.5,346.6ZM855.5,372.9L860,373.3L859.4,371.3ZM856.9,370.1L861.9,370.9L861.1,368.3ZM857.7,364.7L862.4,366.5L861.4,362.8ZM856,358L861.2,359.5L860.2,356ZM853.6,351.5L858.7,353L857.8,349.6ZM850.5,347L855.5,348L854.7,345.2ZM847.8,345.2L852.3,345.6L851.7,343.7ZM865.5,370.1L870.5,370.4L869.9,368.4ZM867.1,367.3L872.4,368L871.6,365.4ZM867.8,361.9L873,363.7L871.9,359.9ZM866.7,355.1L871.8,357.1L870.7,353.1ZM864.4,348.5L869.1,350L868.2,346.7ZM860.7,344.2L866,345.3L865.2,342.3ZM857.6,342.5L862.9,342.9L862.3,340.7ZM876.6,367.1L881,367.4L880.5,365.5ZM877.9,364.3L883.1,365.5L882.2,362.4ZM878,359.1L883.6,360.5L882.6,357ZM876.9,352.2L882.4,354L881.3,350.1ZM874.7,345.6L879.9,347.4L878.8,343.6ZM871.6,341.1L876.6,342.4L875.8,339.3ZM868.3,339.5L873.5,339.9L872.8,337.7ZM887,364.2L891.9,364.6L891.3,362.6ZM888.6,361.4L893.8,362.3L893,359.5ZM889.3,355.9L894.2,357.4L893.3,354.1ZM887.5,349.2L893.1,350.6L892.1,347.2ZM885,342.7L890.7,344.3L889.6,340.6ZM882.4,338.1L887.4,339.4L886.5,336.3ZM879.2,336.4L884.2,337L883.6,334.7ZM897.6,361.4L902.9,361.8L902.3,359.5ZM899.3,358.4L904.8,359.3L904,356.5ZM899.6,353.2L905.4,354.7L904.3,351ZM898.4,346.3L904.2,348.1L903.1,344.1ZM896.5,339.5L901.6,341.5L900.5,337.5ZM893.4,335L898.2,336.1L897.4,333.2ZM890.3,333.3L895.1,333.7L894.5,331.6Z" fill="#d994e3"/><path d="M727.7,406.4L731.1,406.9L727.5,407.9ZM729.2,403.2L732.5,404.2L729.1,405.1ZM729.5,397.8L732.7,399.1L729.5,400ZM728.2,391L731.5,392.6L728.3,393.4ZM725.9,384.8L729.4,386.2L725.9,387.2ZM723.1,381.1L726.4,381.9L722.9,382.8ZM720.3,379.8L723.6,380.2L720,381.2ZM736.3,404.2L739.5,404.6L736,405.6ZM737.7,400.9L741,401.8L737.6,402.8ZM738.1,395.5L741.6,396.6L738,397.6ZM736.8,388.7L740.4,390L736.8,391.1ZM734.4,382.4L737.5,383.9L734.4,384.8ZM731.6,378.7L734.7,379.5L731.4,380.4ZM728.8,377.5L731.6,377.9L728.6,378.8ZM744.9,401.7L748.2,402.2L744.6,403.2ZM746.4,398.5L749.5,399.5L746.3,400.4ZM746.6,392.8L749.9,394.4L746.7,395.3ZM745.4,386.4L748.6,387.8L745.5,388.6ZM743.1,380.1L746.5,381.4L743,382.4ZM740.2,376.3L743.4,377.1L740.1,378ZM737.4,374.9L740.6,375.4L737.2,376.4ZM753.7,399.4L756.9,399.8L753.4,400.8ZM755.2,396L758.8,397L755,398ZM755.5,390.6L759.1,391.8L755.4,392.8ZM754.2,383.9L757.6,385.3L754.2,386.2ZM751.8,377.6L755.5,378.9L751.8,379.9ZM748.9,373.6L752,374.7L748.8,375.6ZM746.2,372.5L749.4,372.9L745.9,373.9ZM762.5,396.9L765.7,397.4L762.3,398.4ZM764,393.4L767.3,394.7L764,395.6ZM764.3,388.1L767.7,389.5L764.3,390.4ZM763,381.2L766.4,382.9L763.1,383.8ZM760.7,374.9L764.4,376.4L760.7,377.5ZM757.8,371.1L761.2,372.1L757.7,373.1ZM755.1,369.9L758.4,370.4L754.8,371.4ZM771.5,394.4L774.6,395L771.3,395.9ZM773.1,391L776.7,392.1L773,393.1ZM773.3,385.5L776.7,387L773.4,387.9ZM772.2,378.8L776.1,380.2L772.1,381.3ZM769.7,372.4L773.2,374L769.7,374.9ZM766.8,368.5L770.3,369.6L766.7,370.6ZM764,367.4L767.1,367.9L763.8,368.8ZM780.8,391.9L784.2,392.3L780.5,393.4ZM782.3,388.4L785.9,389.5L782.2,390.6ZM782.5,382.8L786.2,384.4L782.5,385.4ZM781.2,376L784.9,377.8L781.3,378.7ZM778.9,369.7L782.8,371.3L778.9,372.4ZM776,365.9L779.4,367L775.9,368ZM773.3,364.8L776.9,365.2L772.9,366.3ZM790.1,389.2L793.7,389.8L789.8,390.9ZM791.5,385.8L795.1,387L791.5,388ZM791.9,380.4L795.8,381.7L791.8,382.8ZM790.6,373.6L794.4,375.1L790.6,376.1ZM788.2,367.3L791.7,368.8L788.2,369.8ZM785.3,363.5L788.6,364.4L785.2,365.4ZM782.5,362.1L786,362.6L782.2,363.7ZM799.5,386.7L803,387.2L799.2,388.3ZM801,383.5L804.4,384.4L800.9,385.4ZM801.2,377.6L804.7,379.3L801.3,380.2ZM800,370.8L803.5,372.6L800.1,373.5ZM797.7,364.7L801.7,366L797.6,367.1ZM794.7,360.8L798.1,361.8L794.6,362.7ZM791.9,359.4L795.4,360L791.7,361ZM809.1,384.1L812.5,384.6L808.8,385.6ZM810.6,380.5L814.6,381.7L810.5,382.8ZM810.9,375.1L814.7,376.5L810.8,377.6ZM809.6,368L813.7,369.8L809.6,370.9ZM807.2,361.7L811.4,363.3L807.2,364.5ZM804.3,357.8L808,359L804.2,360.1ZM801.5,356.8L805.3,357.2L801.2,358.3ZM818.8,381.3L822.5,381.9L818.5,383ZM820.3,378L823.8,379.1L820.2,380.1ZM820.6,372.2L824.5,373.8L820.6,374.9ZM819.3,365.3L823,367.2L819.4,368.2ZM816.8,359L820.4,360.8L816.9,361.8ZM814,355L817.8,356.3L813.9,357.4ZM811.2,354.1L814.9,354.5L810.9,355.6ZM828.6,378.6L832,379.3L828.4,380.3ZM830.2,375.3L833.8,376.4L830.1,377.4ZM830.5,369.6L834.4,371.1L830.4,372.2ZM829.2,362.8L832.8,364.4L829.2,365.4ZM826.7,356.2L830.4,358L826.8,359ZM823.9,352.4L828,353.4L823.7,354.6ZM821,351.1L824.8,351.7L820.8,352.9ZM838.7,376L842.5,376.4L838.4,377.5ZM840.3,372.5L844.3,373.5L840.1,374.7ZM840.4,366.6L844.1,368.4L840.5,369.5ZM839.2,360L843,361.6L839.2,362.6ZM836.8,353.5L840.8,355.1L836.8,356.2ZM833.8,349.5L837.7,350.7L833.7,351.8ZM831.1,348.5L834.6,348.9L830.7,350ZM848.8,373.1L852.5,373.6L848.5,374.8ZM850.4,369.7L854.5,370.7L850.2,371.9ZM850.6,363.8L854.6,365.5L850.6,366.7ZM849.4,357L853.7,358.6L849.4,359.9ZM846.9,350.4L851.3,352.2L846.9,353.4ZM844,346.8L848,347.7L843.9,348.9ZM841.2,345.5L844.8,346.1L840.9,347.2ZM859.1,370.3L862.6,370.9L858.9,371.9ZM860.7,366.9L864.7,367.9L860.5,369ZM860.9,360.9L864.7,362.8L861,363.8ZM859.7,354.2L863.9,355.8L859.7,357ZM857.3,347.7L861.4,349.3L857.2,350.5ZM854.3,343.8L858.3,344.9L854.2,346ZM851.5,342.6L855,343.2L851.2,344.3ZM869.7,367.4L873.6,367.9L869.3,369.1ZM871.2,364L875.5,364.9L871,366.2ZM871.4,357.9L875.5,359.8L871.4,360.9ZM870.1,351L874.2,353L870.2,354.1ZM867.7,344.9L871.5,346.5L867.7,347.5ZM864.8,340.7L869,341.9L864.6,343.1ZM861.9,339.5L866.1,340.1L861.6,341.4ZM880.2,364.6L883.8,365.1L879.9,366.1ZM881.8,360.8L885.8,362.1L881.6,363.3ZM882.1,355.2L886.5,356.7L882,358ZM880.8,348.1L885.2,349.9L880.8,351.2ZM878.3,341.6L882.4,343.5L878.3,344.6ZM875.3,337.7L879.3,339L875.2,340.1ZM872.5,336.5L876.6,337.2L872.2,338.4ZM891,361.5L894.9,362L890.7,363.2ZM892.6,358L896.7,359.1L892.4,360.3ZM892.8,352.3L896.7,353.9L892.8,355ZM891.6,345.3L896.1,346.9L891.5,348.1ZM889.1,338.7L893.6,340.3L889.1,341.6ZM886.1,334.6L890.1,336L886,337.1ZM883.2,333.5L887.2,334.2L883,335.4ZM902,358.3L906.2,359L901.6,360.2ZM903.6,355L908,356L903.3,357.3ZM903.8,349L908.4,350.7L903.7,352ZM902.5,342L907.1,343.8L902.5,345.1ZM899.9,335.4L904,337.5L900,338.6ZM897,331.7L900.9,332.9L896.9,334ZM894.2,330.5L898,331.1L893.9,332.3Z" fill="#5a1a70"/><path d="M747,294.5L745.5,294.7M741.5,302.8L742.1,299.8M741.5,302.8L738.5,301.7M745.8,298.4L745.5,294.7M745.8,298.4L742.1,299.8M742.1,299.8L739.1,297.2M745.5,294.7L742.4,292.2M735.6,299.1L735.5,297.7M739.1,297.2L735.5,297.7M739.1,297.2L739.6,293.5M742.4,292.2L739.6,293.5M742.4,292.2L740.8,289.7M735.5,297.7L732.5,295.2M739.6,293.5L736.6,291M737.7,287.4L736.3,287.5M732.5,295.2L733.2,292.3M732.5,295.2L729.8,294.1M736.6,291L736.3,287.5M736.6,291L733.2,292.3M733.2,292.3L730.3,289.9M736.3,287.5L733.4,285.3" stroke="#777" stroke-width="0.70" fill="none" stroke-linecap="round"/><path d="M747,294.5L744,293.5M743.4,296.4L739.7,297.8M743.4,296.4L744,293.5M740,301.6L738.5,301.7M740,301.6L739.7,297.8M744,293.5L740.9,291.1M739.7,297.8L736.7,295.3M738.5,301.7L735.6,299.1M740.9,291.1L740.8,289.7M740.9,291.1L737.3,291.6M736.7,295.3L737.3,291.6M736.7,295.3L734,296.5M735.6,299.1L734,296.5M740.8,289.7L737.7,287.4M737.3,291.6L734.3,289.2M734,296.5L731.1,294M737.7,287.4L734.9,286.4M734.3,289.2L730.9,290.5M734.3,289.2L734.9,286.4M731.1,294L729.8,294.1M731.1,294L730.9,290.5M734.9,286.4L732,284.2M730.9,290.5L728.1,288.1M729.8,294.1L727,291.7" stroke="#3c3c3c" stroke-width="1.00" fill="none" stroke-linecap="round"/><path d="M734.4,306.8 L909.9,467.4 A8.9,25.4 39.2 0 0 942.1,428 L749.6,288.2 A3.6,12 39.2 0 0 734.4,306.8 Z" fill="url(#g15)"/><path d="M739.4,310.2L736.7,307.3L734,306.7L733.7,308.4L736,311.2L738.8,311.8ZM740.7,307.9L736.8,305.9L734.6,307L736.7,310.2L740.2,312.5L742.6,311.4ZM739.5,305L737.2,306.8L739.5,310.3L743.1,311.1L744.4,308.9L743.1,305.5ZM740.5,305.4L743.3,308.9L747,308.5L748.4,305.6L745.4,302.5L741.4,301.9ZM748.3,305.3L751.5,303.6L750.3,299.9L746.9,298.4L744.4,300.8L744.9,304.3ZM750.5,294.9L746.9,295.5L747,299.2L750.2,302L753.7,301L754,297.3ZM748.2,294.2L750.6,297.6L754.2,297.7L755.7,295L753.3,292.2L749.8,291.3ZM752.4,294.6L755.9,294.7L755.3,291.7L752.9,288.8L750,289.1L750,291.7ZM749.6,288.7L752.1,291.6L754.8,292.1L755.6,290.7L752.6,287.8L749.1,286.3ZM741.5,316.5L744.6,317.7L746.2,316.6L743.9,313.8L740.9,312.4L739.5,313.7ZM744.2,317.8L747.3,317.7L748.6,315.4L745.8,312.3L742.6,312.3L741.9,314.7ZM747.5,310.4L744.3,311.3L744.4,314.8L748.2,317.2L751.1,316.2L751.1,312.9ZM748.9,313.2L752.4,314.7L754.2,312.5L753.4,309.3L749.9,307.8L748.2,310ZM753.7,311.2L757.4,310.7L758.4,307.3L755.3,304.5L751.4,304.5L750.6,308.1ZM755.3,300.2L754.2,303.1L755.7,306.1L759.1,306.9L760.5,304.4L758.9,301.5ZM758.9,297L756.1,297.7L756,300.9L759.4,302.7L762.4,302.3L762.3,299.1ZM756.8,295.3L758,298.1L761.1,299.9L763.3,298.7L761.5,295.8L758.5,294.1ZM761.9,294.5L758.3,292.2L756.1,292.3L757,294.9L760.7,297.8L762.8,297.2ZM749.7,319.5L746.6,318.1L746,320L748.8,322.7L751.5,323.6L752.5,322.1ZM754.9,322.1L752.8,319L749,317.4L748.2,319.9L750.3,323L753.9,324.3ZM751.8,320.4L754.6,322.5L758.1,322.6L758,319L754.4,316.1L751.4,317.3ZM761.3,320.6L762.3,316.8L759,313.4L755,313.8L754.3,317.3L757.2,320.4ZM761.6,310.3L758.2,310.9L758.8,314.3L761.3,317.1L764.6,315.8L765,312.2ZM764.7,306.1L760.8,306.1L761,310L764.1,312.7L767.9,312.3L768.1,308.5ZM765.5,302L762.9,303.1L763.1,306.6L767.2,308.8L770.4,307.9L769,304.3ZM763.8,300.7L765,303.8L768.9,305.7L770.8,304L768.9,300.6L765.5,299.5ZM766.5,302L769.4,302.7L769.8,300.7L766.6,297.7L763.5,296.9L763.1,299ZM757.1,329.5L758.6,328.8L757.8,326.4L754.3,324.2L753.1,325.4L754.1,327.8ZM761.8,328.1L759.4,324.9L756.1,324.1L755.2,326.2L757.2,329L760.3,329.8ZM764.5,325.9L762.1,323.1L758.6,322.7L757.5,325.5L760.4,329L764.1,328.8ZM768.2,321.7L764.8,319.2L761.2,320.4L761.7,324.2L765.1,326.9L768.4,325.4ZM766.5,316.2L764.8,318.7L767.1,322L771.2,322.9L772.8,319.6L769.9,316.4ZM775.1,317.4L774.6,313.8L771.5,310.7L767.8,312.2L767.7,316.3L771.7,319ZM773.9,307.9L770.4,307.7L770.5,311L773.2,313.7L776.9,314.1L776.6,310.6ZM771.5,307.2L773.8,309.5L777.1,310.6L776.9,307.9L774.8,304.9L771.5,304.6ZM773.2,302.2L770.8,302.6L770.7,304.9L774.4,307.8L777.5,308.2L776.4,305.3ZM762.7,335.6L765.9,336.4L766,333.9L762.4,331L759.5,330.5L759.6,332.7ZM768.3,333.4L765.2,330.4L762,330.3L761.7,333L764.8,335.7L768.2,336.3ZM765.4,329.4L764.6,332.7L768,335.6L771.6,334.6L771.6,331L768.5,328.4ZM773.3,332.4L776.4,330.7L774.8,326.4L770.4,325.1L767.9,327.4L769.3,331.4ZM778.1,328.3L779.1,325.2L776.9,322.3L773.2,321.6L771.5,324.7L774.4,327.8ZM774.8,320.1L777.2,323.3L780.8,323.7L782.1,321L780.6,317.6L776.8,317.2ZM784.8,317.8L782.7,314.6L779,312.5L777.3,314.9L778.9,318.3L782.5,319.6ZM781.9,310L778.2,309.6L777.7,312.6L781.3,315.7L785,316.3L785.6,313.2ZM784.3,313.3L784.1,310.7L780.9,307.7L777.9,307.5L778.6,310.2L781.3,312.6ZM766.3,336.4L765.9,338.5L768.9,341.3L772.2,342.6L772.1,340.3L769.6,337.6ZM772.2,342.8L774.8,341.6L774.6,338.7L771.6,336.3L768.6,336.9L769.5,340ZM777.1,336.2L773.5,334.4L770.9,336.3L773.1,339.9L776.8,341.5L778.5,339.3ZM779.8,339.1L783.3,337.6L781.7,333.8L778.3,330.8L775.5,332.8L775.8,336.5ZM781,327.2L778.6,330.2L780.9,333.7L784.9,334.8L787.4,331.6L785.1,327.8ZM788.3,323.9L784.6,322.6L782.3,325.2L783.9,328.9L787.5,329.5L790,327.3ZM784.7,322.1L787.6,324.7L791.4,325.2L791.4,321.7L789,318.9L785.4,318.8ZM787.4,315.1L785.5,316.7L787.2,319.8L790.5,321.3L793,320.2L791.2,316.6ZM791.8,317L789.2,314L785.5,312.3L785.6,314.7L788,317.7L791.2,318.8ZM779.5,347.3L777.4,344.2L773.8,342.4L772.8,344.3L774.7,347.5L778,348.5ZM779.7,349L782.4,348L781.1,344.9L778.1,342.9L775.6,343.6L776.2,346.7ZM782.1,341L778.7,341.6L779.1,345.1L782.4,347.9L785.9,347L785.4,343.4ZM784.8,344.4L789.3,345.1L790.8,341.8L787.5,338.3L783.5,337.5L782.1,340.6ZM787.9,333.3L785.5,336.1L788.5,340L792.8,340.9L794.9,337.7L791.8,334.2ZM796.1,329.5L792,328.3L789.9,331L791.2,334.8L795.1,335.5L797.7,333.4ZM796.4,323.8L792.4,324.3L792.7,327.9L795.3,331.2L799,330.6L798.9,327.3ZM796.7,326.9L800.1,326.9L799.4,323.7L796.5,320.7L793.3,321.1L793.9,324.1ZM793.3,321.5L797,324.4L799.5,323.8L799.1,321.1L795.2,318L792.3,318.3ZM784.4,351.1L781.2,349.4L779.8,350.4L781.6,353.3L785,355.1L786.8,354.2ZM789.1,351.5L785.5,349L782.4,349.4L782.5,352.6L786.2,355.2L789,354.5ZM793.3,351L790.7,347.4L786.6,346.9L785.7,350.2L788.3,353.2L791.9,353.8ZM796.3,345.5L793,343.9L790.3,345.8L790.6,349.4L794.1,350.8L796.7,348.8ZM799.6,340.9L796.4,339.9L794,341.8L795.5,345.3L799.3,346.7L800.9,344ZM799.4,341.5L803.3,341.2L804.6,338.4L802.7,335L799,334.9L797.1,337.6ZM802.6,336.5L806,336.1L807.3,333.3L804.2,330.3L800.4,330L800.2,333.3ZM800.5,327.8L802.4,331L805.7,332.4L808,331.3L806.4,327.8L802.5,326.2ZM804.4,329L806.5,328.9L805.9,326.7L803,324.2L800.3,324L801.6,326.8ZM785.9,356.3L787.8,359.9L791.5,361.4L793.6,360.6L792.1,357.5L788.2,355ZM789.8,357.5L791.8,360.6L795.2,361.6L796.7,359.7L794.3,356.1L790.8,355.6ZM792.4,355.7L794.4,359.9L798.7,360.6L800.7,358.2L798.5,354.6L794.3,352.8ZM802.9,357.5L805,354.6L803.2,350.7L799.2,350.1L797,352.7L799,356.1ZM808.4,346.6L804.4,345.1L802,347.8L802.5,351.2L806,353.3L809.1,350.7ZM812.6,342L808,339.5L804.9,341.8L805.5,345.7L809.4,347.6L812.8,346.3ZM811.8,336.1L808.6,336.7L807.4,339.8L810.6,342.3L813.8,341.6L814.4,338.5ZM810.7,337.3L814.8,339.2L815.5,336.3L813.4,332.9L809.6,331.8L807.8,333.9ZM811.9,330.4L808.7,329.4L808.4,331.4L811,334.8L814.2,335.3L814.5,333.3ZM794.5,364.8L797.1,367.7L800,367.8L800.6,365.5L797.3,362.5L794,362.1ZM804.4,366.4L801.6,362.7L797.9,361.8L795.7,363.6L798.7,367.5L803.1,369.1ZM806.8,361.7L802.8,360.2L800.2,361.5L801.4,365L805.1,366.6L807.9,365.5ZM807,355.9L804.7,358.7L805.8,362.4L810,364.6L812.3,361.4L811.1,357.6ZM814.8,359.4L817,356.5L815.2,352.5L810.8,351.2L808.8,354.2L810.4,358.2ZM812.9,351.9L817.2,354.5L820.3,352.3L820,348.2L816,346.2L812.2,347.5ZM816,346.2L819.2,348.3L822.8,347.6L822.1,343.8L818.8,341.2L815.3,342.5ZM823.6,343.6L822.4,340.3L818.6,337.4L815.7,338.1L817.3,341.6L820.9,343.9ZM819.8,340.4L823,341.1L822.4,338.3L818.7,335L815.5,334.8L816.2,337.8ZM807.9,373.7L806.1,370.6L802.5,368.7L801,369.9L802.5,373L806.1,374.6ZM803.6,369.6L805.4,373.1L809.5,375.7L811,373.6L809.5,370.3L805.6,367.9ZM810.6,372.9L814.4,373.4L815.1,370L812.4,366.3L808.4,366.6L807.1,370.1ZM814.3,369.1L818,369.8L819.3,367.2L817.8,363.7L814.1,363.4L812.3,365.7ZM824,360.8L820.6,358.3L816.9,358.6L816.6,362.5L820.5,365.7L824.8,365ZM825.4,360.5L828.7,358L827.4,353.8L823.3,351.8L820.4,354.5L821.6,358.4ZM825.5,347.1L822.8,349.2L824.6,352.9L828.3,354.6L831.1,352.8L829.5,348.9ZM829,344.6L825.5,343.7L823.8,345.7L826.3,349.6L830.3,350.3L831.5,347.8ZM823.6,341.6L825.1,344.8L828.9,346.6L830.8,345.9L829.2,342.8L825.5,340.7ZM808.7,378.7L812.6,381.2L815.7,381.5L814.6,378.2L810.7,375.3L808,375.7ZM815.8,382.2L818.8,381.2L818.1,377.6L813.9,374.3L810.3,375.1L811.6,379.2ZM821.5,380.4L823.6,378L820.4,374.2L816.4,373.1L814.1,375.3L817.1,379.6ZM827.1,375L826.6,371.5L822.9,368.5L820.3,371L820.7,374.5L824.3,376.6ZM824.5,364.6L824.5,368.7L828.1,372.1L831.3,370.6L831.9,367.4L828.7,363.8ZM834.6,360.3L830.8,358.6L828.9,361.1L830.1,364.4L834.1,366.7L835.9,363.7ZM832.5,359.7L836.6,360.9L838.5,358.1L837,354.8L833.2,353L831.4,355.9ZM832.5,352L835.2,355.8L839.1,356.3L839.5,353.5L836.4,350.3L832.7,349.3ZM836.7,352.5L838.6,351.5L837.3,348.5L833.6,345.9L832.1,347.7L833.4,350.6ZM817.3,386.5L821.3,388.8L823.9,387.9L821,384L816.7,381.4L815.1,383.1ZM818.6,382L819.2,385.4L822.7,388.2L825.9,388.1L825.5,385L822,382.1ZM826.5,379.1L822.6,380.5L823.4,384.5L826.6,387.7L830.5,386.3L829.7,382.3ZM830.3,383.6L834.3,382.8L835.8,379.4L832.3,376.6L828.9,376.9L827.1,379.9ZM833.6,370.2L831.2,373.7L834.5,377.5L839,378.7L840.9,375.2L838.1,371.4ZM842.5,365.8L838.5,365L836.3,367.8L838.1,371.8L842.7,373.1L845.1,369.7ZM848,365.9L846.1,361.6L842.2,359.5L838.8,360.7L839.6,364.9L844.1,367.1ZM841.6,360.2L845.4,362.2L847.9,360.7L846.7,357L842.4,354.6L840.1,356.7ZM843.8,358.1L847.4,359L846.9,355.9L843.1,353.1L839.5,352L840.4,355ZM829.8,395.4L830.5,392.9L826.9,389.6L823.1,388.6L822.9,391.5L826.3,394.6ZM833.4,392.2L830,388.8L826.1,388.5L826.3,391.9L829.9,394.8L833.1,395ZM835.6,393.7L838.3,392.1L836.7,388.4L832.9,386.8L830,388.2L831.3,392.4ZM834.3,384.8L836.5,389.5L841.3,390.5L844,387.8L841.5,383.9L837.1,381.7ZM840.4,381.3L843.4,384.4L847.8,384.8L848.6,380.7L845.1,377.7L841.6,378.1ZM844.9,374.2L846.4,377.6L850.2,378.7L852.5,376L850.8,372.3L846.8,371.2ZM851.7,373.8L855.3,372.2L854.4,368.3L851,365.5L847.2,366.4L847.3,370.7ZM854.2,363.2L850.4,361L848.2,362.8L850.4,366.3L853.9,368L856,366.5ZM854.6,361.8L851.8,358.7L848.9,358.8L848,361L851.6,364.1L854.9,364.6ZM836.3,398.1L832.3,395.9L830.7,397L832,400.2L836.1,402.4L837.9,401.4ZM834.6,399L837.6,402.1L841.1,402.3L841,399.1L837.8,395.7L833.9,395.5ZM844.8,400.5L846.4,397.5L843.3,393.9L839.3,393.6L837.2,396.7L840.9,400.3ZM848.3,398.2L851.6,395.6L850.6,391.3L846.4,389.1L843.4,391L843.7,395.1ZM848.4,386.5L850.1,390.5L854.6,391.8L856.6,388.9L854.7,384.9L850.4,383.7ZM857.2,385.3L860.7,383.8L860.4,379.6L856.4,377.6L852.6,379L853.5,383.2ZM862.2,379.9L863.9,376.7L861.7,372.7L857.2,371.5L855.1,374.4L857.7,378.4ZM856.6,369.7L859.6,373.4L863.5,374.3L865.2,372.3L861.6,368.3L857.8,367.5ZM864.8,369.5L861.1,365.5L857.3,364.1L855.6,365.6L859,369.4L863.3,371.5ZM842.7,403.8L839.1,403L838.3,405.1L841,408.6L844.6,409.4L845.4,407.3ZM848.4,409.4L850,407L846.3,403.1L842.3,402.5L840.8,405.1L844.5,409.3ZM845,402.5L848,406.7L852.2,407.8L854.9,405.8L852.3,401.2L847.6,400.1ZM859.4,403.3L859.4,399L855.5,396.1L852,397.3L851.3,401L855.2,403.9ZM864.5,393.7L861.7,390.5L857.5,391L856.9,395L859.7,397.9L863.8,397.6ZM867,391.6L869.6,389.3L867.7,384.9L862.8,383.5L860.7,386.7L863,390.7ZM872.7,384L870.2,380.2L866.2,377.7L864.1,380.2L865.8,384L869.7,385.5ZM869.3,373.7L866,374.3L865.8,377.4L868.8,381L872.8,380.4L873,376.7ZM865.4,370.1L865.2,372.8L867.8,376L871.8,377.3L871.8,374.4L869.2,371ZM853.7,416.4L852.3,413.2L848.2,409.8L845.3,410.1L846.9,413.5L851.1,416.7ZM857.5,416.5L856.9,412.8L852.7,409.7L849.8,410.5L850.2,413.6L854,417ZM860.2,408.3L855.2,406.7L853.2,409.7L856.2,413.8L860.2,414.8L862.6,412.7ZM866.4,410.7L869,407.4L865.2,402.9L860.3,402.9L858.4,406.6L862.1,410.4ZM868.7,397.2L865.2,398.7L865,402.9L869.4,406.1L872.8,403.7L872.3,399.8ZM877.8,394.6L874.4,390.4L869.9,390.8L869.6,394.7L872.9,398.6L876.7,397.8ZM878.8,391.9L881.2,389.8L878.5,385.9L873.8,383.8L872.7,387.1L874.5,391.3ZM880.9,382.4L876.5,379.8L873.7,380.8L874.7,384.3L879,387.5L881.8,386.1ZM878,382.7L881,382.8L879.9,379.6L876,376.6L873.5,377L874.7,379.9ZM860.7,424.1L860.9,421.8L858.1,418.3L854.3,417.1L853.7,419.2L856.9,422.8ZM865,422.3L864,418.6L859.5,416.6L857.6,418.6L858.6,422.5L863.2,424.4ZM867.4,423.2L870,420.5L869.2,416.6L864.9,413.6L862.4,416.4L863,420.3ZM868,415.3L871.7,417.6L875.6,416.9L875.1,413L871.9,409.7L867.6,410.9ZM875.7,404.2L873,407.5L875,411.4L879.2,411.9L881.4,408.6L880.1,404.4ZM881,405.4L885.4,405L886.2,401.7L883.3,397.5L878.6,397.3L877.3,400.9ZM885.4,399.1L889.3,398.2L889.8,394.1L885.3,391.5L881.9,392.1L881.2,395.7ZM883.1,386.1L882.4,389.4L885.5,393L889.7,393.5L889.9,390.1L887.2,386.8ZM887.6,384.9L883.9,382.7L881.6,383.8L883.5,387.4L887.9,390L889.7,388.2ZM865.6,430.4L869.1,431.3L869,428.6L865.4,425.5L862.3,424.9L862.5,427.3ZM873.8,431.3L872.9,427.4L868.9,424.5L865.5,424.8L866.5,428.1L870,431.6ZM871.2,422.4L870.5,426L873.6,429.2L877.5,428.9L878.7,425.4L875.2,421.7ZM876.4,418.6L876.5,422.8L880.2,425.5L884,423.8L883.7,419.7L880.2,417ZM882,416L885.6,420L890.4,418.7L890.6,413.9L886.4,409.9L882.4,412ZM891.9,413L896.2,411.1L894.3,406.1L889.7,402.9L885.6,405.2L887.2,410.2ZM890,400.1L892,403.9L896.1,405.4L898.9,403.1L896.1,399.2L892.3,398.2ZM899.8,396.4L895.9,393.1L892.3,393.2L890.7,396.1L894.5,399.3L898.2,399.5ZM891.3,392.2L894.6,395.2L897.7,395.3L898,392.6L894.4,389.4L891.1,389.3ZM869.1,433.4L872.2,437.3L876.5,439.3L877.1,436.9L874.8,433.7L871.2,432.1ZM873.2,435L877.9,438.8L881.3,438.5L881.4,435.4L877.4,432.2L872.9,431.1ZM879.7,434.4L883.6,437.6L886.6,435.5L886.2,431.5L882,429.5L878.1,430.2ZM886.9,424L884.5,427L886.2,430.9L890.5,432.9L892.6,429.8L891.8,425.4ZM898.6,423.2L897.2,419.3L892.8,417.9L890.3,420.9L892.1,425L896.3,426.1ZM903.9,413.3L899.1,410.5L895.7,412.4L896.1,416.4L900.3,420L904.1,418ZM898.6,407.1L901.2,411.1L905.5,412.2L906.9,409.2L904.9,405.2L900.4,404.2ZM906.8,401L902.5,399.2L899.1,400.3L901.9,404.3L906.1,407.2L908,404.8ZM903.9,402L907.5,402.3L907,398.9L902.9,395.4L899.2,395.2L900.6,398.8ZM878.1,440L878.6,443L882.6,446.2L886.1,446.3L885,442.8L881,439.5ZM882.6,442.7L885.5,445.6L889.6,446.4L889.5,442.8L886.5,439.3L883.1,439.9ZM890,443.9L895,445.1L895.3,441.1L892.4,436.9L887.5,436.2L886.5,439.9ZM895.2,439.1L900,440.3L903,436.8L899.4,432.5L894.6,431.2L892.9,435ZM905.8,425.2L901.1,425.4L898.2,428.8L901,433.5L906.3,434.1L908,429.7ZM904.5,422.5L907.9,425.8L912.1,425.4L913,421.4L909.3,418.2L905.3,418.8ZM916.1,417.2L915.8,412.7L910.5,410.1L907.1,412.5L908.7,417L913.6,420.2ZM913.8,412.9L917.2,412.3L916.3,408.6L912.3,405.2L909,406.5L909.9,410.3ZM910.8,401.7L908.1,402.5L909.8,406.1L914.2,409.3L916.4,408L915.3,404.6ZM890.7,453.6L894.3,454.1L893.9,451.1L889.5,447.7L886.1,447.1L886.9,450ZM892.6,452.6L896.7,454.1L899.5,452.3L896.3,448L891.7,446.2L890.1,448.8ZM897.5,444.3L894.9,446.6L897.4,451.1L902,452L905.1,449.7L901.9,445.2ZM906.1,438.9L901.4,439.5L901.8,444.2L906,447.4L909.7,446.2L910.3,442.2ZM916.5,437.3L914.2,433.5L910,432.6L908.1,435.7L909.8,440.4L915,441ZM916.3,425L912.5,426.5L914.6,431.1L919.4,434.3L921.9,431.1L920.7,426.9ZM916.1,419.7L918.8,424L923.3,426.2L926.3,424.1L923.4,419.8L918.6,416.8ZM918.6,411.8L916.9,415L921.2,419.1L925.6,420.1L926.4,417L923.3,413.2ZM918,408.9L917.9,411.9L922,415.3L925.4,415.3L925.2,412L921.3,409.3Z" fill="#a845bd"/><path d="M733.7,307.3L735.7,310.6L736.7,309.3ZM735.6,307.1L737.6,310.9L739,309.2ZM738.4,306.1L740,310.1L741.7,308ZM741.6,303.6L743.1,307.8L744.9,305.5ZM745.1,300.5L746,304.6L748.1,302.1ZM747.7,296.5L749,300.5L750.8,298.3ZM749.6,293L750.8,296.8L752.6,294.6ZM750.2,290L751.7,293.5L753.1,291.8ZM749.6,287.6L751.7,291L752.8,289.7ZM740.1,313.2L742,316.7L743.2,315.2ZM742.5,313.3L744,316.9L745.4,315.1ZM745.1,311.9L746.6,316L748.3,313.9ZM748.6,309.5L749.9,313.5L751.7,311.3ZM751.7,305.9L753,310.2L755,307.7ZM754.8,302.1L756,305.9L757.8,303.8ZM756.5,298.2L758,302L759.6,300ZM757.3,295.2L758.9,298.7L760.2,297ZM756.6,292.6L758.8,296.1L759.8,294.8ZM746.8,319.3L748.6,322.5L749.7,321.2ZM748.7,319L750.6,322.9L752.1,321.1ZM751.9,317.9L753.3,321.9L755,319.8ZM755,315.1L756.5,319.7L758.6,317.1ZM758.9,311.7L760.1,315.7L762,313.4ZM761.4,307.3L762.9,311.8L764.9,309.3ZM763.4,303.3L765.1,307.5L766.8,305.4ZM764.2,300.3L766.1,303.9L767.4,302.3ZM763.7,297.8L765.9,301.4L767,300ZM753.4,325.3L755.2,328.5L756.2,327.2ZM755.6,325.2L757.3,328.9L758.7,327.1ZM758.5,323.8L760.1,328L761.9,325.8ZM762.1,321.1L763.4,325.5L765.5,323ZM765.7,317.3L767.1,321.5L769.1,319.2ZM768.6,312.9L770,317.5L772.1,314.9ZM770.7,308.8L772.3,313.1L774.1,310.8ZM771.7,305.7L773.3,309.2L774.7,307.6ZM770.9,303L773.1,306.7L774.3,305.3ZM759.5,331.1L761.8,334.9L763,333.4ZM762.1,331.1L764,335.1L765.5,333.3ZM765.4,330L766.8,334.2L768.7,331.8ZM768.9,326.9L770.5,331.5L772.5,329ZM773,323.2L774.3,327.4L776.2,325ZM776,318.7L777.3,323.1L779.4,320.5ZM778.2,314.4L779.7,318.4L781.4,316.4ZM778.6,310.8L780.5,314.9L782.1,313ZM778.6,308.6L780.5,311.9L781.6,310.5ZM766.7,337.6L768.6,340.9L769.7,339.6ZM769.3,337.6L770.8,341.4L772.3,339.5ZM772.4,336.1L774,340.2L775.7,338ZM776.1,333L777.7,337.4L779.6,335ZM780.1,329.1L781.3,333.6L783.5,330.9ZM783.5,324.6L784.7,328.8L786.7,326.3ZM785.6,320.1L787,324.2L788.8,321.9ZM786.2,316.4L788,320.3L789.5,318.5ZM785.7,313.7L787.9,317.4L789.1,316ZM773.4,343.8L775.4,347.4L776.6,345.9ZM776.2,343.9L777.8,347.5L779.3,345.8ZM779.2,342.2L780.9,346.7L782.8,344.3ZM783.2,339.1L784.9,343.5L786.8,341.2ZM787.1,334.8L788.7,339.6L790.8,336.9ZM790.6,330.1L792.1,334.8L794.2,332.1ZM793,325.6L794.5,329.9L796.4,327.6ZM793.9,322L795.6,325.8L797.1,324ZM793.3,319.2L795.4,322.9L796.6,321.4ZM780.1,350L782.4,353.7L783.5,352.3ZM782.9,350L784.8,354.1L786.4,352.1ZM786.3,348.5L788,353L790,350.6ZM790.8,345.6L791.9,350L794.1,347.3ZM794.9,341.1L796.2,345.4L798.2,343ZM798.3,336.1L799.7,340.5L801.7,338ZM800.8,331.5L802.2,335.5L804,333.3ZM801.5,327.6L803.3,331.4L804.7,329.6ZM801.2,324.9L803.1,328.2L804.2,326.9ZM787.2,356.5L789.3,360.3L790.6,358.7ZM790.2,356.6L792,360.4L793.4,358.6ZM793.5,354.9L795.2,359.4L797.2,357ZM798.1,351.8L799.4,356.2L801.5,353.6ZM802.5,347.4L803.5,351.8L805.8,349.1ZM805.6,341.9L807.2,346.8L809.4,344ZM808.4,337.3L809.7,341.6L811.7,339.1ZM809,333.1L810.9,337.3L812.5,335.3ZM808.5,330.2L810.8,334L812,332.5ZM794.4,363.2L796.4,366.9L797.7,365.2ZM797,362.8L799.1,367.2L800.7,365.2ZM801,361.4L802.7,365.7L804.5,363.5ZM805.4,358.1L806.8,362.7L809,360ZM810,353.4L811.4,357.8L813.4,355.3ZM813.6,348.1L815,352.7L817.1,350.1ZM816.1,343.1L817.5,347.5L819.6,345ZM816.8,338.8L818.9,342.8L820.4,341.1ZM816.5,335.9L818.6,339.6L819.8,338.2ZM801.6,369.8L803.7,373.3L804.9,371.9ZM804.3,369.4L806.4,373.7L808,371.8ZM808.6,368.1L810,372.4L811.9,370ZM813.1,364.6L814.6,368.9L816.5,366.5ZM817.3,359.4L819,364.2L821.1,361.7ZM821.5,354.3L822.7,358.9L825,356.2ZM824.2,349.1L825.6,353.2L827.4,351ZM824.8,344.8L826.7,348.9L828.3,346.9ZM824.3,341.6L826.6,345.4L827.7,343.9ZM808.5,376.2L810.9,380.2L812.2,378.6ZM811.6,376.1L813.8,380.6L815.5,378.5ZM815.6,374.4L817.7,379L819.5,376.7ZM820.6,371L822.1,375.6L824.2,373ZM825.3,365.9L826.9,370.5L828.9,368ZM829.4,360.4L830.9,364.8L832.9,362.4ZM832.1,355.1L833.4,359.6L835.5,357ZM832.6,350.4L834.9,354.7L836.4,352.8ZM832.4,347.5L834.4,351.3L835.8,349.7ZM815.8,382.8L818.3,387.1L819.6,385.4ZM819.4,383.1L821.4,387.1L822.9,385.3ZM823.6,381.4L825,386L827.1,383.4ZM828.5,377.7L829.9,382.2L832,379.6ZM832.8,372.2L834.5,377.4L836.9,374.5ZM837.3,366.7L838.7,371.4L841,368.7ZM839.8,360.9L841.6,365.8L843.7,363.2ZM841,356.7L842.8,360.8L844.5,358.8ZM840.3,353.2L842.7,357.1L843.9,355.6ZM823.6,390L825.7,394L827.1,392.3ZM826.9,389.9L828.9,394.1L830.5,392.2ZM831.1,388L832.9,392.7L834.8,390.3ZM836,384.1L837.7,389.1L839.9,386.4ZM841.1,378.9L842.7,383.8L844.9,381ZM845.7,373.2L846.9,377.7L849.1,375ZM848.2,367.2L849.8,371.9L851.9,369.4ZM849.5,362.8L851.2,366.7L852.7,364.8ZM848.8,359.3L850.8,363.2L852.2,361.5ZM831.2,397L833.5,400.7L834.7,399.3ZM834.6,396.9L836.6,401.1L838.2,399.1ZM838.7,394.9L840.5,399.8L842.7,397.2ZM843.8,390.8L845.5,396.1L847.9,393.2ZM849,385.3L850.8,390.5L853.1,387.7ZM853.7,379.4L855.1,384.3L857.4,381.5ZM856.4,373.4L858.2,378.2L860.3,375.6ZM857.3,368.5L859.6,372.9L861.2,371ZM856.6,365L859.2,369.3L860.6,367.6ZM838.9,404.1L841,407.9L842.3,406.3ZM842.1,403.7L844.3,408.3L846,406.2ZM846.5,401.7L848.6,406.7L850.6,404.2ZM852.1,397.8L853.7,402.8L856,400ZM857.6,392.4L858.8,397.4L861.3,394.3ZM861.9,385.8L863.6,390.7L865.7,388.1ZM865,379.9L866.8,384.3L868.7,382ZM866.1,375L867.8,379.4L869.7,377.2ZM865.6,371.5L867.6,375.4L869,373.7ZM846.4,410.9L848.9,415L850.2,413.5ZM849.9,410.8L852.2,415.4L853.9,413.3ZM854.6,408.9L856.7,413.7L858.6,411.3ZM860,404.6L861.8,410L864.2,407ZM865.6,398.9L867.2,404.1L869.6,401.2ZM870.2,392.3L872.1,397.3L874.2,394.7ZM873.3,386.1L875.3,390.9L877.3,388.5ZM874.3,381L876.6,385.6L878.3,383.5ZM873.9,377.5L876.3,381.4L877.6,379.9ZM854.4,418.3L856.8,422.2L858,420.7ZM858.1,418.2L860.1,422.7L861.9,420.6ZM862.9,416.2L864.6,421.1L866.8,418.5ZM868.6,412L870.1,416.9L872.4,414.1ZM874.4,406.1L875.4,411.2L878.1,408ZM878.6,398.9L880.7,404L882.8,401.4ZM881.9,392.6L883.8,397.6L885.9,395ZM883.1,387.5L885.1,392.2L887,389.9ZM882.6,383.8L884.8,387.9L886.2,386.2ZM862.4,425.6L864.8,429.6L866,428.1ZM866.1,425.5L868.3,429.9L870,427.9ZM871.1,423.5L872.8,428.5L875,425.7ZM877.1,419.2L878.3,424.2L880.8,421.2ZM882.5,412.7L884.1,418.1L886.7,415.1ZM887.2,405.7L889.1,411.2L891.6,408.2ZM890.9,399.4L892.7,404L894.7,401.6ZM892,394L893.8,398.7L895.8,396.3ZM891.4,390.2L893.6,394.3L895,392.5ZM870.4,433.1L872.8,437.2L874.1,435.5ZM874,432.6L876.6,437.4L878.2,435.4ZM879.5,430.8L881.3,435.6L883.3,433.1ZM885.4,426.2L887,431.3L889.3,428.5ZM891.4,420L892.9,425.1L895.3,422.1ZM896.1,412.6L898,418L900.3,415ZM899.6,405.9L901.5,410.9L903.6,408.3ZM900.8,400.5L902.9,405.1L904.7,402.9ZM900.2,396.6L902.5,400.7L903.9,399ZM878.7,440.6L881,444.7L882.3,443ZM882.8,440.6L884.6,445.1L886.5,442.8ZM887.6,438.1L889.7,443.1L891.8,440.6ZM893.7,433.4L895.4,438.9L898,435.8ZM900,427L901.4,432.6L904.1,429.3ZM905.3,419.8L906.9,424.8L909.2,422ZM908.4,412.5L910.4,417.9L912.7,415.1ZM909.9,407.2L911.9,411.7L913.7,409.5ZM909,402.9L911.6,407.3L913,405.5ZM886.5,447.8L889.3,452.3L890.7,450.7ZM890.8,447.9L893.1,452.8L894.9,450.5ZM896,445.6L898.1,450.9L900.4,448.1ZM902.4,440.8L904.3,446.1L906.7,443.3ZM908.8,434.2L910.5,439.6L913,436.5ZM914,426.6L915.9,431.9L918.3,429.1ZM917.4,419.3L919.7,424.5L921.8,422ZM918.6,413.5L921,418.7L922.9,416.2ZM918.4,409.7L920.6,413.9L922.1,412.1Z" fill="#d994e3"/><path d="M737.3,308.7L738.7,311.4L736.1,309.2ZM739.7,308.4L741.1,311.5L738.2,309.2ZM742.6,306.9L743.6,310.3L740.9,308.1ZM745.9,304.3L746.8,307.9L744.1,305.6ZM749.2,300.7L749.7,304.2L747.3,302.2ZM751.8,297.1L752.5,300.5L750,298.4ZM753.5,293.5L754.2,296.8L751.8,294.7ZM753.9,290.9L754.9,293.8L752.4,291.8ZM753.3,289.1L754.8,291.9L752.1,289.6ZM743.8,314.4L745.1,317.3L742.5,315.1ZM746.2,314.1L747.2,317.1L744.7,315.1ZM749.2,312.8L750.2,316.2L747.5,313.9ZM752.6,310.1L753.4,313.5L750.8,311.4ZM756.1,306.4L756.9,310.1L754.1,307.8ZM758.7,302.6L759.4,305.8L757,303.8ZM760.5,298.9L761.4,302.2L758.8,300ZM760.9,296.1L762,299L759.5,297ZM760.4,294.2L762,297L759.1,294.7ZM750.2,320.5L751.5,323.1L749,321.1ZM752.9,320.1L754.1,323.4L751.3,321.1ZM755.9,318.7L756.9,322L754.2,319.8ZM759.7,315.7L760.6,319.6L757.6,317.2ZM763,312.2L763.6,315.5L761.1,313.5ZM766,307.9L766.9,311.8L764,309.4ZM767.7,304.3L768.9,307.8L766,305.4ZM768.1,301.4L769.4,304.5L766.7,302.2ZM767.6,299.3L769.2,302.3L766.3,299.9ZM756.8,326.6L758.1,329.2L755.6,327.1ZM759.5,326.2L760.6,329.3L758,327.1ZM762.8,324.7L763.8,328.2L761,325.8ZM766.6,321.6L767.4,325.4L764.6,323.1ZM770.1,317.9L770.9,321.5L768.2,319.3ZM773.2,313.5L774.1,317.4L771.2,315ZM775,309.7L776.1,313.2L773.2,310.9ZM775.4,306.7L776.5,309.6L773.9,307.6ZM774.9,304.5L776.5,307.6L773.5,305.1ZM763.6,332.6L765.2,335.7L762.2,333.3ZM766.3,332.3L767.6,335.6L764.7,333.3ZM769.8,330.6L770.6,334.2L767.8,332ZM773.6,327.7L774.6,331.5L771.6,329.1ZM777.2,323.8L778,327.3L775.3,325.1ZM780.4,319.2L781.2,322.9L778.4,320.7ZM782.3,315.3L783.3,318.6L780.6,316.4ZM782.9,312L784.2,315.4L781.2,313ZM782.2,309.8L783.5,312.6L780.9,310.5ZM770.3,338.9L771.6,341.7L769,339.5ZM773.2,338.4L774.1,341.6L771.6,339.5ZM776.6,336.9L777.6,340.4L774.8,338.1ZM780.6,333.8L781.6,337.5L778.7,335.1ZM784.6,329.5L785.2,333.3L782.5,331.1ZM787.8,325L788.4,328.6L785.8,326.4ZM789.8,320.7L790.6,324.2L788,322ZM790.3,317.5L791.6,320.8L788.7,318.4ZM789.7,315.2L791.3,318.2L788.3,315.8ZM777.2,345.1L778.6,348.1L775.8,345.8ZM780,344.8L781.1,347.9L778.5,345.8ZM783.8,343L784.9,346.8L781.9,344.3ZM787.8,339.9L788.9,343.7L785.9,341.2ZM792,335.5L793,339.6L789.8,337ZM795.3,330.7L796.2,334.7L793.2,332.3ZM797.4,326.4L798.3,330L795.5,327.7ZM797.8,323L799,326.2L796.3,324ZM797.3,320.6L798.7,323.7L795.8,321.3ZM784.1,351.5L785.8,354.6L782.8,352.2ZM787.2,351.1L788.4,354.5L785.5,352.1ZM791,349.3L792,353.1L789,350.7ZM795.2,345.9L795.8,349.7L793.2,347.5ZM799.2,341.7L800,345.3L797.3,343.1ZM802.8,336.7L803.6,340.5L800.8,338.1ZM804.9,332.2L805.8,335.6L803.1,333.4ZM805.5,328.7L806.7,331.8L803.9,329.6ZM804.7,326.2L806.1,328.9L803.5,326.8ZM791.2,357.9L792.7,361L789.8,358.6ZM794.2,357.7L795.5,360.9L792.7,358.6ZM798.2,355.7L799.3,359.6L796.2,357.1ZM802.6,352.3L803.3,356.1L800.5,353.8ZM806.9,347.6L807.5,351.4L804.8,349.3ZM810.6,342.6L811.5,346.7L808.4,344.1ZM812.8,337.8L813.5,341.5L810.8,339.3ZM813.4,334.3L814.6,337.7L811.6,335.3ZM812.6,331.7L814.3,334.9L811.2,332.4ZM798.4,364.4L799.7,367.5L796.9,365.2ZM801.6,364.1L803,367.7L799.8,365.1ZM805.4,362.3L806.6,366L803.6,363.5ZM810.1,358.6L810.9,362.5L808,360.2ZM814.4,354L815.2,357.7L812.5,355.4ZM818.2,348.7L819.1,352.6L816.2,350.2ZM820.6,343.7L821.5,347.5L818.6,345.1ZM821.1,340.2L822.6,343.6L819.5,341ZM820.4,337.4L822,340.4L819,338ZM805.5,371.1L806.9,374.1L804.1,371.8ZM808.9,370.8L810.4,374.4L807.1,371.7ZM813,368.8L813.8,372.4L811,370.1ZM817.5,365.2L818.4,368.9L815.6,366.6ZM822.3,360.3L823.3,364.3L820.1,361.7ZM826.2,354.7L826.8,358.7L824,356.3ZM828.4,349.8L829.3,353.3L826.6,351.1ZM829.2,345.8L830.4,349.3L827.4,346.9ZM828.4,343.1L829.9,346.2L827,343.8ZM812.9,377.8L814.6,381.1L811.4,378.5ZM816.3,377.4L817.8,381.1L814.5,378.4ZM820.5,375.6L821.8,379.4L818.5,376.7ZM825.3,371.7L826.2,375.6L823.3,373.1ZM830,366.7L831,370.6L828,368.1ZM833.9,361.1L834.9,364.9L832,362.5ZM836.6,355.7L837.4,359.5L834.6,357.1ZM837.2,351.8L838.7,355.4L835.5,352.8ZM836.5,348.8L837.9,352L835,349.6ZM820.4,384.6L822.1,388.1L818.8,385.3ZM823.7,384.3L825,387.7L822,385.2ZM828.2,382.1L829,385.9L826.2,383.5ZM833.1,378.3L833.9,382.1L831,379.8ZM838.2,372.9L839.2,377.4L835.8,374.6ZM842.1,367.2L842.9,371.2L840,368.8ZM844.8,361.8L846,365.9L842.7,363.2ZM845.4,357.7L846.6,361.2L843.6,358.8ZM844.6,354.8L846.3,358L843.1,355.5ZM827.8,391.4L829.3,394.7L826.3,392.2ZM831.3,391.1L832.7,394.7L829.6,392.1ZM835.9,389L837.1,392.9L833.9,390.3ZM841.1,384.9L842.1,389.1L838.9,386.5ZM846.1,379.6L847,383.7L843.9,381.2ZM850.2,373.6L851,377.5L848.1,375.2ZM853,368L854,372L850.9,369.4ZM853.5,363.9L854.7,367.1L851.9,364.8ZM852.9,360.7L854.3,363.9L851.4,361.5ZM835.3,398.5L836.9,401.6L833.9,399.1ZM839,398.1L840.3,401.6L837.3,399.1ZM843.8,395.8L845,400L841.7,397.3ZM849.2,391.6L850.3,396.1L846.8,393.3ZM854.3,386.2L855.4,390.5L852,387.8ZM858.6,380L859.4,384.1L856.4,381.6ZM861.4,374.3L862.5,378.4L859.3,375.7ZM862,370L863.6,373.7L860.3,370.9ZM861.3,366.7L863.2,370.3L859.7,367.5ZM843,405.5L844.5,408.6L841.5,406.2ZM846.9,405.1L848.5,408.9L845.1,406.1ZM851.7,402.9L853.1,407.1L849.6,404.2ZM857.2,398.6L858.2,402.8L854.9,400.2ZM862.6,392.7L863.2,397L860.2,394.5ZM866.9,386.7L867.9,390.8L864.7,388.1ZM869.6,380.8L870.8,384.6L867.7,382.1ZM870.6,376L871.7,379.7L868.7,377.2ZM869.7,372.8L871.1,376L868.2,373.6ZM850.8,412.7L852.7,416.1L849.3,413.3ZM854.8,412.2L856.4,416.1L853,413.3ZM859.7,410L861,414.1L857.6,411.3ZM865.5,405.5L866.6,410L863.1,407.1ZM870.9,399.6L871.9,404.1L868.5,401.3ZM875.4,393.3L876.6,397.5L873.2,394.7ZM878.3,387.2L879.6,391.3L876.3,388.5ZM879.2,382.4L880.7,386.3L877.3,383.5ZM878.2,379.1L879.9,382.4L876.7,379.8ZM858.7,420L860.4,423.2L857.2,420.6ZM862.8,419.4L864.2,423.2L861,420.5ZM867.9,417.1L869,421.2L865.7,418.5ZM873.6,412.6L874.5,416.8L871.4,414.2ZM879.4,406.3L880,410.7L877,408.3ZM884,400L885.3,404.4L881.8,401.4ZM887.1,393.6L888.3,397.8L884.9,395ZM888,388.6L889.2,392.5L886,389.9ZM887,385.3L888.5,388.6L885.4,386.1ZM866.7,427.3L868.4,430.6L865.2,427.9ZM870.9,426.8L872.4,430.6L869,427.9ZM876.2,424.3L877.2,428.5L874,425.8ZM882.1,419.6L882.8,423.9L879.8,421.4ZM888,413.4L889,418L885.5,415.2ZM892.9,406.5L894,411.2L890.4,408.3ZM895.7,400.3L896.8,404.2L893.7,401.6ZM896.8,395.1L898,399L894.8,396.3ZM895.8,391.6L897.3,395L894.2,392.4ZM874.8,434.6L876.5,438L873.3,435.4ZM879.1,434.3L880.9,438.3L877.2,435.3ZM884.4,431.8L885.5,435.8L882.3,433.2ZM890.6,426.9L891.5,431.3L888.3,428.6ZM896.5,420.6L897.4,424.8L894.2,422.3ZM901.6,413.5L902.8,418.1L899.2,415.1ZM904.7,406.9L906,411.1L902.6,408.3ZM905.6,401.7L907.1,405.6L903.7,402.9ZM904.7,398L906.3,401.5L903.1,398.9ZM883,442.1L884.6,445.5L881.5,442.9ZM887.4,441.6L888.7,445.4L885.5,442.9ZM892.9,439.3L894.3,443.5L890.7,440.6ZM899.3,434.1L900.4,438.8L896.8,435.9ZM905.5,427.5L906.3,432.2L902.9,429.5ZM910.4,420.5L911.3,424.7L908.2,422.1ZM913.9,413.6L915.1,418.1L911.5,415.1ZM914.7,408.3L916,412.1L912.8,409.5ZM913.7,404.6L915.6,408.2L912.1,405.4ZM891.4,449.8L893.4,453.5L889.7,450.5ZM895.9,449.3L897.4,453.3L893.9,450.5ZM901.6,446.7L902.9,451.2L899.3,448.2ZM907.9,441.7L909.1,446.2L905.6,443.4ZM914.3,434.9L915.3,439.5L911.9,436.7ZM919.5,427.6L920.8,432.1L917.2,429.2ZM922.9,420.6L924.4,425L920.7,422ZM924,415L925.6,419.3L921.9,416.2ZM922.9,411.1L924.4,414.6L921.2,412Z" fill="#5a1a70"/><path d="M887.8,324.8 L926.1,454.4 A21.5,21.5 69.6 0 0 966.5,439.4 L910.8,316.2 A7.4,12.3 69.6 0 0 887.8,324.8 Z" fill="url(#g16)"/><path d="M890,320.2L889,317.1L887.2,315.3L885.9,316.9L887.1,320.8L889.3,322.5ZM892.4,325.3L893,322.6L891.5,319.3L888.9,318.1L888.1,321.5L890,325.4ZM896.8,327.2L897.7,323.7L895.3,320.5L891.9,321.1L891.8,324.7L893.6,327.8ZM898.5,328.5L901.1,326.8L902,323.1L898.7,320.4L895.7,322.2L895.8,326ZM898.8,321.3L899.9,325.5L903.2,327.1L906,324.9L905.1,320.9L901.9,319.6ZM903.6,321.9L906.3,324.4L908.2,322.1L907.6,318.1L904.7,316.1L902.7,318.2ZM909.3,317.1L908.4,313.6L905.6,312.9L904.1,315.2L905.1,318.9L907.9,319.5ZM906.2,314.4L908.1,315.5L908.9,313L907,308.9L905,308.3L904.5,310.9ZM887,329.6L889.3,332.2L890.6,330.5L889.4,326.3L887.1,323.7L886.4,326.1ZM889.9,328.6L888.8,331.6L891,335.8L893.7,336.8L894.1,333.1L892.4,329.5ZM899.8,337.2L898.6,333.4L895.9,332.2L894,333.9L894.5,337.1L897.2,339.3ZM900.2,339.2L903.6,339.3L905,336.3L903.5,333.3L900.7,332.8L899.1,335.4ZM904.6,335.9L907.7,337.3L910.8,335.8L909.6,332.1L906.8,330.2L903.9,332.1ZM913.8,329.5L911.6,326.1L909,326.9L908.3,330.3L910.7,333.5L913.8,333.8ZM910.9,326.1L913.4,328.2L915.3,326.6L914.8,323.1L912.2,320.3L910.5,322.6ZM913.5,316.4L911.3,314.9L910.2,316.7L911.8,321.2L914,323.4L914.9,321ZM891.6,340.4L893.1,338.6L892.1,334.6L889.8,333L888.4,334.3L889.3,338.1ZM896.5,339.4L893.7,336.7L891.8,338.7L892,342.9L895,345.8L896.7,343.3ZM899.5,340.4L896.1,340.7L896.6,345.1L899.2,348.9L902.4,347.3L902,343.1ZM907.3,341.8L903.8,340.1L902.2,343.3L903.5,346.9L906.5,349.2L907.9,345.8ZM908,339.5L906.8,343.4L909.6,346.2L913.4,345.8L913.8,342L911.7,338.9ZM912.8,334.5L911.5,337.8L913.7,341.3L916.3,341.8L917.9,339L915.8,335ZM916,336.3L918.9,336.5L919.2,332.6L916.9,329.8L914,329.1L913.5,333.1ZM918.5,329.3L917.2,325.3L915.2,323.3L914.1,324.7L915,328.8L917.2,330.3ZM891,342.8L892.1,346.8L894.5,349.5L895.6,347.4L894.1,343.4L891.9,340.4ZM894.7,347.1L894.6,350.9L897.2,353.2L899.7,353L899,349.1L896.9,346.6ZM905,350.8L901.6,348.8L899.7,351.4L900,355L902.9,357.1L905.3,355ZM906.3,356.3L909.8,358L911.8,354.7L910.8,350.5L906.9,349L904.7,352.5ZM917.1,355.1L917.5,350.8L915,347.1L911.6,348.4L910.3,352.3L913.2,355.8ZM917.5,351.1L920.6,350.2L921.6,346.6L919,343.8L916.2,344.2L915.5,347.5ZM917.5,340L918.4,343.7L921.3,344.9L923.2,342.7L921.7,339.2L919.1,337.6ZM919.9,331.8L918,332.2L918.2,335.4L920,338L922.3,338.5L922.1,334.6ZM893.7,353.3L895.4,357.3L897.7,357.8L898.1,354.4L896.1,349.9L893.6,349.4ZM900.2,355.1L897.3,355.7L896.9,359.6L899.3,362.9L902,361.7L902.9,358.2ZM901.8,360.5L903.3,364.6L906.3,366.1L908.3,363.8L907.4,359.5L903.9,357.4ZM915.7,364.2L914,360.2L910.5,358.8L908.5,361.7L909.3,365.3L912.7,366.9ZM921.4,363.2L920.7,358.5L917.3,356.7L914.7,358.6L914.2,362.9L918,365.5ZM924.3,358.9L925.2,355.4L922.7,352.3L919.1,352.2L918.3,356.7L921.2,360.3ZM926.3,353.8L926.3,349.9L924.5,346.2L921.9,346.3L921.5,349.9L923.5,353.8ZM924,346.7L925.5,346.3L925.4,343L923.4,340.1L921.9,340.5L921.7,343.8ZM897.3,358L895.9,359.8L896.9,364.6L899.6,367.7L901,365.8L899.8,361.1ZM904.5,365.8L901.7,364.2L899.3,365.8L900.7,370.4L903.5,372L905.3,370.1ZM911.9,373.2L911.1,368.8L907.4,367.7L905,370.1L905.9,374L909.1,375.1ZM911.6,372.5L913.6,375.4L917.5,375.8L919.1,371.8L916.3,368.9L912.6,368.9ZM921.4,374.7L924.9,373L924.5,368.1L921,364.9L917.5,366.8L918.2,371.5ZM927.5,362.1L924.1,360.5L921.8,363.9L924,368.2L927.6,369.6L929.9,366.3ZM928.6,355.6L925.6,355.1L925,358.8L927.3,361.9L930.3,362.4L930.8,358.6ZM924.9,349.4L926.4,354.3L929,356.6L930.2,354.3L928.7,349.7L926.3,347.4ZM900,374.8L902.6,376.1L903.7,373.4L902.2,369.2L899.7,368.2L898.8,370.7ZM902.5,375.8L904.3,380L907.2,382.7L908.6,379.5L906.8,374.8L904.2,373.7ZM912.5,377.8L908.9,377L908.4,381.1L910.2,385L913.6,384.7L914.9,381.2ZM915.6,378.5L914.7,382.6L917.5,386.3L920.9,384.8L922.1,381L919.3,376.8ZM927.7,383.5L929.1,379L926.1,374.9L922.3,375.5L921.5,379.7L923.9,383ZM932.1,379L933.3,374.8L931.3,370.4L927.3,369.6L926.2,373.9L928.2,378.4ZM930,369.3L932.5,371.8L935,370.7L933.8,366.3L931.2,363.1L929.5,365.5ZM930.7,363.2L933.4,365L934.2,361.8L932.6,357.5L930,356.7L929.4,359.7ZM902.1,381.8L904.1,385L906.3,385.3L905.6,381L903.5,376.9L901.7,378.1ZM905.7,385.8L906.6,390.4L909.8,391.3L911.8,389L909.8,384.8L906.8,382.3ZM912.2,392.8L915.2,394.9L918.2,393.5L917.3,388.9L914.1,386.9L911.1,388.4ZM917.9,391.7L920.5,395.5L924.5,395.8L924.9,391.6L923.3,387.5L919.5,387.7ZM927.1,392.6L930.6,393L932.6,389.6L930.5,385.2L926.5,384.6L924.9,388.6ZM932.1,380L930.4,383L932,387.1L935.4,388.1L937.5,384.9L935.4,380.7ZM939.1,379.7L938.6,375L935.4,373.1L933.2,374.6L933.3,379L936.5,380.9ZM933.4,366L933.6,370.1L935.9,373.3L937.5,372.4L937.3,369.2L935.3,365.6ZM909.1,393.4L908.1,389.3L905.7,386.9L904.5,388.9L905.4,392.5L907.7,395.5ZM910.5,400.5L913.6,401.2L915,397.5L912.5,393.5L909,392.5L908.3,396.7ZM919.4,397.3L915.8,396.3L915,400.3L916.5,404.5L920.1,405.8L921,401.7ZM927.6,405.4L928.8,401.8L926.8,397.8L923.5,398.3L922.1,401.6L924.1,405.6ZM928.8,398.4L930.9,402.8L934.8,403.7L936.6,399.7L934.2,395.3L930.1,393.9ZM936.6,397.9L940.1,397.7L941.6,393.8L938.8,390.2L935.4,389.3L934.3,393.4ZM937.6,384L938,388.7L941.3,391.6L943.2,389.2L942.1,384.3L939.2,382ZM937.6,376.1L938.4,380.2L940.7,382.8L942.3,381.7L941.4,376.9L938.7,373.8ZM907.6,401.6L910.1,405.5L912.2,404.6L911.2,400.2L909.1,396.7L907.5,397.8ZM917.1,412.2L918.1,407.8L915.4,402.8L912.4,403L911,406.5L913.7,411.7ZM917.9,412.6L920.9,415.5L924.4,413.9L924.4,410L921.7,406.8L917.9,408.3ZM932.3,409.1L928.4,407.9L925.3,410L926.4,414.4L929.9,416.1L933.3,414.2ZM938.7,413.4L939.9,409.5L938.2,405.3L934.6,405.7L932.1,408.9L935,412.6ZM945.6,404.4L943.9,400.1L939.9,398.7L938.1,402.6L939.9,407.1L943.7,407.7ZM947.5,395.5L944.8,392L941.8,392.5L941.4,396.6L944,399.7L947.3,400ZM941.6,387.4L943.7,391.6L946.1,392.2L946.4,388.6L944.3,384.4L941.9,383.9ZM914.6,415L914.9,411.4L912.6,407.3L910.1,406.2L910,410.4L912.4,414.5ZM915.9,421.3L919.3,421.1L920.6,418.2L919.4,413.8L916.1,413.9L914.2,416.6ZM926.4,426.7L928.3,422.9L926.8,418.8L923.2,417.4L920.7,420.4L922.6,424.7ZM931.3,425.8L934.6,426.5L937.3,423.6L934.6,418.7L930.6,417.4L928.9,421.5ZM944.4,422.5L943.8,418L940.7,415.1L936.5,416.6L936.6,421.6L940.4,424.3ZM945,409.2L942.7,412.3L943.6,416.6L947.3,418L949.6,415.1L948.7,410.9ZM947.1,400.9L945.3,403.9L947.2,408.6L950.3,410.8L952.2,408L950.3,403.2ZM945.3,396.1L947.1,400.9L950.2,402.2L951.2,399L949.4,394.7L946.6,393.1ZM916,416.8L913.4,417L913,420.7L915.2,424.6L918,426.2L918.3,421.8ZM921.3,432.6L924.3,431.3L923.5,426.5L920.6,423.6L917.9,425.2L917.9,429.8ZM925,434.1L928.5,437.9L931.5,435.9L931.5,430.8L927.9,427.7L925.2,429.3ZM935.8,428.4L932.6,431.1L933.3,436.3L937.6,438.3L940.9,435.4L940.1,430.2ZM948.5,433.4L948.9,428.1L944.7,424.7L940.3,426.7L940.4,432.4L944.6,435.7ZM951,429.3L953.6,426.9L953.1,422.6L950.1,418.5L946.8,420.7L947.7,425.8ZM951.2,411.7L949.8,414.9L952.2,420.2L955.4,421L956.1,417L954,412.7ZM951.4,402.4L950.4,405.1L951.5,409.8L954,411.4L955.5,409.9L953.9,405.3Z" fill="#a845bd"/><path d="M887,316L887,319.6L888.5,319ZM889.5,319.2L889.2,323.2L891.2,322.4ZM893.1,321.6L892.1,325.5L894.9,324.5ZM897.2,321.8L896.1,326L899.1,324.9ZM901.1,320.3L899.9,324.6L903,323.5ZM904,317.1L903.4,321.4L905.9,320.5ZM905.5,313.5L904.8,317.3L907.1,316.4ZM905.2,308.7L905.3,312.8L906.9,312.2ZM886.9,325L887,328.8L888.5,328.3ZM890.3,329.2L890,333.6L892.1,332.8ZM895.2,332.6L894.3,336.5L896.9,335.6ZM900.7,333.1L899.7,337.1L902.5,336.1ZM905.9,331.2L904.7,335.2L907.7,334.1ZM909.6,326.7L909,331.2L911.5,330.2ZM911.5,321.7L910.9,325.7L913.2,324.9ZM911.2,315.7L911.4,319.8L912.9,319.3ZM889.4,333.6L889.3,337.3L891,336.7ZM892.9,337.9L892.5,342.2L894.7,341.4ZM897.8,340.8L896.9,345.5L899.8,344.4ZM903.7,341.6L902.9,345.9L905.6,344.9ZM909.2,339.9L907.9,344L911.1,342.8ZM913.2,335.2L912.5,339.7L915.1,338.7ZM915.1,329.8L914.5,334L916.9,333.1ZM914.9,323.8L915,327.8L916.5,327.2ZM891.8,341.8L892,345.9L893.5,345.3ZM895.7,346.9L895.3,351L897.4,350.2ZM900.9,350.1L900,354.3L902.7,353.3ZM906.9,350.6L905.7,355L908.8,353.9ZM912.6,348.4L911.5,352.9L914.6,351.8ZM916.9,344.1L916,348.4L918.8,347.4ZM918.9,338.4L918.2,342.4L920.6,341.6ZM918.6,332.2L918.4,336L920.3,335.3ZM894.3,350.4L894.3,354.8L896.1,354.1ZM898.4,356L897.7,360.1L900.2,359.2ZM903.8,359L903,363.5L905.7,362.5ZM910.1,359.8L908.8,364.3L912.1,363.1ZM916,357.4L914.9,362L918.1,360.9ZM920.5,352.8L919.5,357.4L922.5,356.3ZM922.7,346.9L922.2,351L924.4,350.2ZM922.3,340.2L922.4,344.3L924,343.7ZM896.9,359.3L897.1,363.8L898.7,363.2ZM901.1,364.8L900.6,369.4L903,368.5ZM906.8,368.6L905.7,373L908.8,371.8ZM913.5,369.3L912.1,373.7L915.5,372.4ZM919.6,366.5L918.6,371.3L921.7,370.2ZM924.2,361.7L923.3,366.5L926.3,365.4ZM926.5,355.8L925.9,359.9L928.3,359ZM926.1,348.5L926.3,352.9L927.9,352.3ZM899.7,368.8L899.5,373L901.5,372.3ZM903.9,374.1L903.7,378.8L905.9,377.9ZM909.8,377.8L908.8,382.6L911.9,381.5ZM916.7,378.4L915.5,383.4L918.9,382.1ZM923.2,375.9L922.1,381L925.4,379.7ZM928,370.8L927.1,375.9L930.2,374.7ZM930.4,364.5L930,368.9L932.3,368.1ZM930.2,357.6L930,361.7L931.9,361ZM902.4,378L902.4,382.4L904.2,381.7ZM906.8,383.8L906.4,388.5L908.9,387.6ZM913.2,387.8L912.3,392.3L915.1,391.3ZM920.3,388.5L919.3,393.1L922.4,391.9ZM926.9,385.5L925.8,390.7L929.2,389.4ZM932,380.3L931.1,385.4L934.2,384.2ZM934.5,373.7L933.9,378.2L936.4,377.3ZM934.3,366.4L934.3,370.5L936,369.9ZM905.3,387.8L905.2,392L907,391.3ZM909.9,393.7L909.2,398.4L911.9,397.4ZM916.3,397.5L915.5,402.4L918.4,401.3ZM923.9,398.5L922.9,403.1L925.9,402ZM930.7,395.3L929.7,400.7L933.1,399.4ZM936.2,390.2L935.4,395L938.2,393.9ZM938.5,382.7L938.3,387.7L940.6,386.8ZM938.3,375.2L938.4,379.7L940.1,379.1ZM908,397.4L908.1,401.9L909.9,401.2ZM912.8,403.4L912.4,408.5L915,407.6ZM919.7,408.1L918.3,412.8L921.8,411.5ZM927.4,408.5L926.1,413.6L929.6,412.3ZM934.8,405.8L933.7,410.8L937,409.5ZM940.2,400L939.2,405.1L942.5,403.9ZM942.9,392.8L942.2,397.4L944.8,396.4ZM942.4,384.3L942.4,389.2L944.4,388.4ZM910.9,407.3L911,412L912.9,411.3ZM916.1,414.1L915.3,418.9L918.1,417.8ZM923.1,418.3L922,423.2L925.2,422ZM931.1,418.7L930.2,424L933.4,422.8ZM938.8,416.2L937.3,421.3L941.1,419.9ZM944.5,410.2L943.3,415.3L946.7,414ZM947.1,402.4L946.7,407.2L949.2,406.3ZM946.9,394.2L946.6,398.7L948.7,397.9ZM913.9,417.4L913.8,422.4L915.9,421.6ZM919.3,424.6L918.6,429.4L921.4,428.4ZM926.4,428.5L925.7,433.9L928.7,432.8ZM935,429.8L933.7,434.8L937.2,433.5ZM942.8,426.4L941.3,432L945.2,430.6ZM948.8,420.4L947.9,425.6L951.1,424.5ZM951.5,412.1L951.2,417.4L953.7,416.4ZM951.2,403.7L951.4,408.4L953.2,407.7Z" fill="#d994e3"/><path d="M889.3,318.7L889.1,321.5L888,318.6ZM892.3,322L891.7,325.2L890.6,322ZM896.3,324L895.2,327.2L894.1,324.2ZM900.6,324.3L899.4,327.8L898.2,324.6ZM904.6,322.8L903.3,326.4L902.1,323.1ZM907.2,320L906.4,323.4L905.1,320.1ZM908.4,316L907.6,319.1L906.4,316.1ZM907.7,311.9L907.6,315.2L906.3,311.8ZM889.3,328L889.2,331L888,327.8ZM893.2,332.4L892.7,335.8L891.4,332.3ZM898.3,335.1L897.3,338.2L896.2,335.3ZM903.9,335.6L902.8,338.8L901.7,335.8ZM909.3,333.6L908,336.8L906.9,333.8ZM912.9,329.7L912.1,333.3L910.8,329.8ZM914.4,324.4L913.7,327.7L912.5,324.5ZM913.7,319L913.7,322.2L912.4,318.8ZM891.8,336.4L891.5,339.3L890.4,336.3ZM895.9,341L895.3,344.5L894,341ZM901.4,343.8L900.3,347.6L899,344ZM907,344.4L906.1,347.9L904.8,344.5ZM912.8,342.2L911.4,345.6L910.2,342.5ZM916.5,338.2L915.6,341.8L914.3,338.3ZM918.1,332.7L917.4,336.1L916.2,332.7ZM917.3,326.9L917.2,330.1L916,326.7ZM894.3,345L894.2,348.3L892.9,344.8ZM898.5,349.8L897.9,353L896.7,349.8ZM904.1,352.8L903.1,356.2L901.9,353ZM910.5,353.3L909.2,356.9L908,353.5ZM916.2,351.2L915,354.8L913.7,351.4ZM920.2,346.8L919.2,350.3L917.9,347ZM921.9,341.1L921.1,344.3L919.9,341.2ZM921.2,335L920.8,338.1L919.7,334.9ZM897.1,353.8L896.8,357.3L895.5,353.6ZM901.5,358.7L900.6,362L899.5,358.8ZM907.2,362L906.2,365.6L904.9,362.1ZM913.9,362.4L912.5,366.1L911.2,362.7ZM919.8,360.2L918.5,364L917.2,360.5ZM924.1,355.7L922.9,359.4L921.6,355.9ZM925.5,349.8L924.9,353.1L923.7,349.8ZM924.9,343.4L924.8,346.7L923.5,343.2ZM899.6,362.8L899.5,366.4L898.1,362.6ZM904.3,368L903.6,371.7L902.3,368ZM910.4,371.2L909.2,374.8L907.9,371.5ZM917.2,371.8L915.7,375.3L914.5,372.1ZM923.3,369.6L922.2,373.4L920.8,369.8ZM927.9,364.8L926.8,368.7L925.4,365ZM929.6,358.5L928.8,361.8L927.6,358.6ZM928.8,352L928.7,355.5L927.3,351.8ZM902.5,371.9L902.1,375.3L900.8,371.8ZM907.1,377.5L906.6,381.2L905.2,377.4ZM913.6,380.9L912.4,384.7L911,381.1ZM920.7,381.4L919.3,385.5L917.9,381.7ZM927.2,379L925.9,383.1L924.5,379.3ZM931.9,374.1L930.8,378.2L929.3,374.3ZM933.5,367.6L932.9,371.2L931.6,367.6ZM933,360.6L932.5,363.9L931.3,360.5ZM905.1,381.4L904.9,384.9L903.6,381.2ZM910.2,387.1L909.5,390.9L908.1,387.1ZM916.6,390.7L915.6,394.3L914.3,390.9ZM924,391.3L922.8,395L921.5,391.5ZM931,388.8L929.7,392.9L928.2,389ZM935.9,383.6L934.7,387.7L933.3,383.8ZM937.7,376.8L936.9,380.4L935.6,376.9ZM936.8,369.6L936.7,372.9L935.4,369.4ZM908,391L907.7,394.4L906.4,390.9ZM913.3,396.9L912.5,400.7L911.1,397ZM919.9,400.8L919,404.7L917.5,400.9ZM927.5,401.4L926.4,405.1L925.1,401.6ZM934.9,398.7L933.6,403L932.1,398.9ZM939.8,393.4L938.8,397.2L937.4,393.5ZM941.8,386.3L941.3,390.3L939.8,386.3ZM941,378.7L940.9,382.3L939.5,378.5ZM910.9,400.9L910.7,404.5L909.3,400.7ZM916.3,407.1L915.7,411.2L914.2,407ZM923.6,410.8L922.1,414.6L920.8,411.2ZM931.5,411.6L930.1,415.7L928.7,411.9ZM938.7,408.9L937.4,412.8L936.1,409.1ZM944.2,403.2L942.9,407.3L941.5,403.4ZM946.2,395.9L945.4,399.5L944,396ZM945.5,388L945.2,391.9L943.7,387.9ZM913.8,410.9L913.7,414.7L912.2,410.7ZM919.6,417.3L918.7,421.1L917.3,417.4ZM926.9,421.4L925.7,425.3L924.3,421.6ZM935.1,422.2L934,426.5L932.4,422.4ZM943.1,419.2L941.4,423.3L940,419.5ZM948.6,413.4L947.2,417.5L945.7,413.6ZM950.5,405.8L949.9,409.7L948.4,405.8ZM949.9,397.5L949.4,401.1L948.1,397.4ZM917.1,421.2L916.7,425.1L915.2,421ZM922.8,427.8L921.9,431.7L920.5,427.9ZM930.3,432.2L929.4,436.6L927.8,432.3ZM939,432.9L937.6,437L936.2,433.1ZM947.3,429.8L945.7,434.4L944.1,430.2ZM952.7,423.9L951.7,428.1L950.1,424ZM954.9,416L954.4,420.2L952.9,415.9ZM954.1,407.4L954,411.1L952.5,407.2Z" fill="#5a1a70"/><path d="M746.6,429.2 L941.7,413.3 A8.8,22 -7 0 0 936.3,369.7 L743.2,401.8 A8.3,13.8 -7 0 0 746.6,429.2 Z" fill="url(#g17)"/><path d="M735.6,428.3L739.2,429.2L743.6,428.2L743.5,426.3L740.9,425.3L736.5,426.2ZM744.5,427.2L745.4,424.9L742.7,423.3L738.5,424.3L738,426.6L740.5,428ZM738.8,424L741,426.2L745.1,425L747,422.5L743.9,421L740.3,421.7ZM747.4,420.1L745.6,416.7L741.7,417L738.9,419.5L740.9,422.6L744.7,423ZM738.2,415L739.4,418.3L743.9,418.5L746.9,416.3L745.8,413.7L742,413.1ZM739.9,410.1L738.2,412.6L741,414.4L744.5,413.6L746.2,410.9L743.3,409ZM737.4,408.2L737.8,411L741.9,410.6L745,408.8L743.7,406L739.7,406.3ZM737.4,404.7L735.8,406.7L737.5,408.5L741.5,408.6L742.7,406L741.1,403.9ZM740.7,403.9L736.9,403.5L733.1,405L734.3,406.7L738,407.4L741.7,405.7ZM748.2,431.2L751.5,430.7L752.7,428.7L750.2,427.4L746.7,428.4L745.2,430.4ZM754.1,426.4L751.1,425.6L748.1,426.8L747.5,429.2L750.9,430.4L754,428.6ZM751.3,422.2L748.5,424.2L749.3,426.6L753.8,427.1L756.6,424.7L755.4,422.4ZM754.3,422.5L757.7,420.3L755.7,417.8L751.8,417L748.3,419.4L750,422.2ZM753.8,411.6L750.1,411.8L749.5,415.3L751.8,417.8L755.8,417.4L756.8,413.6ZM751.7,405.6L748.3,407.8L748.6,411.1L751.9,412.6L754.9,410.6L755,407.4ZM746.7,403.2L746.1,406.2L749.4,407.7L753.2,406.6L754.5,403.5L750.8,401.5ZM743.5,403.1L746.6,404.6L751,403.7L751.8,401.4L749.2,399.8L745.2,400.8ZM741.8,400.7L742,402.6L746.4,402.6L749.7,401L748.3,399.6L744.7,399.2ZM758.6,426.9L754.5,428L753.5,429.9L757.1,430.6L761.1,429.7L762,427.8ZM756.3,428.9L760.3,429.6L763.9,427.7L763.3,424.9L759.2,424.4L756.1,426.2ZM759.9,426.3L764.3,425.5L765.7,422.7L762.7,420.8L758.6,422L756.6,424.6ZM763.6,415.7L759.2,416.2L757.5,419.5L760.1,422.2L764,421L765.6,418.4ZM766,413.6L764.2,410.5L760.2,410.9L757.5,413.3L759.4,416L763.1,415.9ZM763.9,408.8L763.1,406.3L759.8,405.2L757,407.3L757.5,410.2L761.3,411ZM759.1,406.2L762.4,404.4L762.3,401.8L758.4,401.2L754.4,402.7L755.3,405.4ZM759.1,402.3L760.4,400.1L758.1,398.6L753.6,399.1L752,401.5L755,402.9ZM756.7,397.9L753,397.6L750,399.3L750.9,401.3L755.5,401.4L758.3,399.5ZM766.8,429.7L770.7,428.6L770.5,426.7L766.4,426.6L762.5,427.7L762.5,429.7ZM772.4,426.1L771.3,423.7L767,424.3L764,426.4L766.1,428.6L770.4,428.2ZM769.9,420.1L766.3,421.9L765.8,424.9L770.4,425.6L773.9,423.7L773.9,421ZM771.9,415.2L767.6,415.8L766.3,419L769.9,420.5L773.8,419.9L774.6,417ZM774.6,411.9L772.3,409.3L767.8,409L766.5,412.7L768.6,415.8L773,415.2ZM765.7,407.2L767.4,410.1L771.6,409.3L773.7,406.4L771.3,403.9L767.3,404.3ZM770.7,399.8L766.5,399.4L764.2,401.8L764.9,404.3L768.6,405L772,402.9ZM766.1,402.1L769.1,400L768.6,397.4L764.6,396.7L761.3,398.7L762.1,401.2ZM765.5,395.9L761.4,396.4L759.1,398.1L760.3,400L764.3,399.4L767.3,397.7ZM779.9,426.4L776.7,425.2L772.9,426.5L771.7,428.4L774.6,429.5L778.6,428.5ZM775.2,423.5L774.3,425.9L776.2,427.5L780.1,427.4L781.9,424.9L779.4,423ZM778.9,425.1L783.1,423.2L782.6,420.7L779.5,419L775.9,420.9L775.1,423.5ZM783.2,418.8L784.4,415.1L780.3,413.8L776.2,414.9L776,418.6L779.5,420.2ZM782.3,413.5L782.8,410.3L780.5,408.3L776.9,408.8L775.7,412.3L778.6,415ZM782.2,403.9L778.6,402.5L774.5,404L775,407.2L778.4,408.2L782.2,407ZM776,397.8L772.6,400.1L773,402.8L777,403.4L780.6,401.7L779.8,399.1ZM777.3,399.1L778,396.7L774.8,395.1L771.2,396.7L770.1,399.3L773.7,400.6ZM774,397.5L776.2,395.8L773.4,394.8L769,395.2L767.5,397.1L770.1,398.1ZM781.4,426.8L782.7,428.4L786.5,428.6L788.7,426.6L786.7,425L783.3,425.2ZM783.4,426.1L786.8,427.5L790.4,425.7L790.3,423.1L786.8,422L782.9,423.5ZM792.1,422.7L792.4,419.6L788.9,417.9L785.1,419.6L784.2,422.7L788,424ZM784.9,416.3L787.3,418.7L791.1,418.4L793,415.7L790.9,413.3L786.6,412.9ZM789.3,413.4L793.4,411.4L792.6,407.8L788.4,406.7L784.8,408.9L785.6,412ZM790.1,401.8L786.1,401.1L784.2,404L785.3,406.6L788.9,406.9L791.2,404.6ZM785.8,397L781.8,398L782.3,401L785.6,402.7L789.3,400.9L789.4,397.8ZM786.8,397.9L787.5,395.4L784.5,393.8L779.8,394.9L779.3,397.4L782.3,398.7ZM782.8,396.2L785.4,394.4L782.6,393.3L778.8,393.7L776.8,395.4L779,396.5ZM797.6,426.5L798,424.5L793.8,423.7L789.8,425.4L790.2,427.4L794.1,428.3ZM792.4,424.7L795.2,425.8L798.9,425.3L800.5,422.8L797.2,421.6L793.5,422.5ZM795.7,422.7L799.9,422.9L801.1,420.1L799.6,417.9L796.1,418.2L793.9,420.4ZM800.3,412.3L796.6,412.8L794.9,415.2L796.2,418.2L800.4,417.2L802.6,414.6ZM800.6,411.4L802,408.4L800,405.6L795.3,405.9L793.7,409.5L796.2,412.5ZM795.7,400L793,402.6L794.6,405.4L798.4,406L801.1,403.4L799.8,400.1ZM791.7,399.7L795.1,400.6L798.6,399.1L798.2,396.5L794.8,394.9L790.8,396.8ZM794.6,396.6L796,394.5L794.3,392.6L790.3,393L788.9,395.3L791,396.9ZM793.5,393.5L792.6,391.8L789,391.8L786.2,393.2L787.3,395L791,395.4ZM799,424.5L799.1,426.6L803.2,427.2L807.7,425.9L807.7,423.8L803.5,423ZM810.5,422.1L807,420.5L802.9,421.4L801.7,423.8L804.2,425.5L808.3,424.8ZM809.4,422.3L811.5,419.2L809.1,416.9L805.5,417L803.5,419.4L805.1,422ZM804.8,411.7L803.5,415.1L806.8,417.4L811.2,416.2L811.9,412.9L809.2,410.2ZM810.7,410.6L811.8,407L809.4,403.9L804.8,405L802.6,408.7L806,411.7ZM804.6,404.6L808.8,404.1L810.6,401.2L808.4,398.4L803.7,398.8L802.2,402.1ZM807.7,399.2L808.7,395.7L805.6,393.7L800.9,393.9L800.7,397.4L803,400ZM804.4,391.2L800,391.4L797.6,393.6L799.1,395.8L803.8,395.5L806.9,393.2ZM804.1,391.3L801.4,389.8L796.7,390.3L794.8,392.3L797.3,393.6L801.2,393ZM814,426.2L816.7,424.5L816.1,422.5L811.4,422.3L808.9,424.4L809.6,426.5ZM811.7,424.4L816.4,424.8L819.4,422.5L818,420.5L814,419.9L810.6,421.9ZM820.1,417L816.9,415.6L813.2,417.2L813.1,420.1L816.8,421.6L820.5,419.7ZM815.7,416.8L820.7,415.9L822.4,412.2L819.5,408.9L814.8,410.1L812.8,413.7ZM821.1,405.4L818.1,403.3L814.1,404.3L813,407.9L816.3,410.5L820.9,409.1ZM821.1,399.1L817.2,397.4L812.5,397.9L811.1,401.5L814.5,404.1L819.8,402.8ZM809.1,395.5L811.8,397.9L816.4,397.8L819.3,394.8L816.1,392.4L811.2,392.1ZM811.8,394.4L815,392.6L815.1,389.9L810.9,388.9L806.9,390.9L807.7,393.7ZM804.7,390L805.4,391.9L809.4,392L813,390.5L811.5,388.8L807.9,388.5ZM820.2,425.4L824.6,425.3L827.5,423.3L824.9,422L820.8,422.4L817.9,424ZM820.2,421.6L822.2,423.9L827.1,423.8L830.3,421.2L827.5,419L822.9,419.2ZM830.7,418.1L829.9,415.3L825.6,414.3L821.8,416.8L823.3,419.7L827.6,420.3ZM822.6,411L824.5,414.2L828.5,415.3L832.3,412.7L831.2,408.8L826.4,408.6ZM825.6,408.8L830.3,408.4L832.2,404.4L828.8,401.6L824.5,402.7L823,406.1ZM829.6,400.5L829,397.3L825.8,395.4L822,397.4L821.9,401L825.8,402.6ZM822.7,397.1L827.9,395.9L827.8,392.4L824.5,390.7L820.5,392L819.5,394.9ZM816.6,389.6L818,392L821.7,392.7L825.3,390.9L824.4,388.4L820.4,388ZM814.1,388.3L814.3,390.5L819,390.9L821.8,388.9L821.9,386.9L817.5,386.5ZM832.7,421L828.7,422.1L828.1,424.3L832.1,424.9L835.7,423.6L836.2,421.7ZM832.4,418.5L830.2,421L832.2,423.5L837.3,422.8L839,420.2L837.1,418ZM838.8,418.9L840.7,416.2L838.9,413.7L833.8,413.7L831.8,417L834.3,419.3ZM840.7,407.7L836.5,407.6L833,409.7L834.5,413.5L838.3,414L841.1,411.7ZM836.3,401L833.2,403.2L833.3,407.1L838,407.6L841.3,405.1L840,401.8ZM831,396.8L832.5,399.8L836.8,400.8L840.9,398.4L839.4,395L834.7,394.2ZM830.3,390.5L829.8,393.6L833,395.9L837.3,393.9L838.4,390.3L834.1,388.3ZM831.2,391.8L835.4,389.8L834.2,387L830.5,385.5L826.9,387.7L826.6,390.8ZM829.6,384.9L825.5,385.4L823.9,387.6L826.1,389.3L830.2,388.4L831.8,386.5ZM845.4,420L840.7,420.1L838.6,422.2L840.1,423.7L844,424.1L847.2,422.1ZM849.7,419.4L847.3,416.8L843,417.8L840.9,420L842.7,422.3L846.8,421.9ZM842.7,416.6L845.4,419L850.3,418.3L851.3,414.5L847.7,412.6L843.9,413.6ZM850.5,406.8L846,406.1L842.4,409L844.7,412.4L849,413.3L851.6,410.2ZM851.1,404.9L851.9,401L847.7,399.6L842.9,400.6L842.8,404.6L846.6,406.7ZM847.9,399.4L850.1,396.2L848.5,393L843.8,393L841.6,396.1L843.2,399.2ZM841.8,393.6L846.5,393L848.6,389.8L845.7,387L840.2,387.9L838.1,391.5ZM839.5,389.3L843.5,388.8L845.4,386.2L842.3,384.4L838.1,385.3L836,387.9ZM834.3,386.6L838,387.2L842,385.9L841.9,383.8L837.7,383.5L833.8,384.8ZM855.7,420L852,419.2L848.8,421L849.3,422.7L853,423.4L856.8,421.7ZM851.4,417.5L850.1,420.2L854.1,421.4L858.6,420.2L860.4,417.4L856,416.2ZM860.1,416.3L861.2,412.8L857.3,411L853.8,413L853.4,416.1L856.5,418.6ZM859.5,412.1L862.2,408.9L861.3,405.4L856,405.1L852.6,408.2L854.7,411.4ZM859.8,405.4L861.3,401.6L859.4,398.4L855.3,398L852.9,401.6L855,405.7ZM852,392.5L852.6,396.4L855.9,398.9L859.4,396.6L859.7,392.9L856.2,391.4ZM851.4,392.2L855.9,391.7L858.1,388.8L856,386.1L851.1,385.7L849.4,389.3ZM853.3,387.3L855.7,384.9L853.1,382.8L848.7,383.6L846.8,385.8L848.8,387.9ZM845.3,381.7L843.7,384L845.7,385.6L850.2,385.3L852.6,383.2L850.5,381.3ZM865.2,418.1L859.8,418.8L858.2,421.1L860.9,422.4L865.4,421.9L867.6,419.9ZM861.7,416.2L860.6,419.6L864.8,420.7L869.3,419.8L869.5,416.7L866,415.3ZM864.8,411.3L861.5,414.4L865.2,416.9L870.3,416.5L872.8,413L869.4,410.6ZM870.8,409.8L873.1,406.5L869.7,404L864.9,404.5L864.2,408.2L866.7,410.8ZM862.3,402L866.9,404L871.4,402.2L872.7,398.8L868.8,396.9L864.5,398.5ZM869.7,395.9L871.5,392L867.8,389L863.2,390.7L862.5,394.3L865.1,397.3ZM867.2,390.2L869,386.8L866.1,384.5L861.5,385.2L859.2,388.1L861.7,390.9ZM860.3,380.7L857.1,383.1L857.5,385.9L862,386.8L865.2,384.3L865,381.5ZM860,384L862.5,381.8L860.7,380L856.1,379.9L853.6,382.1L855.4,383.9ZM878.4,419L875.6,417.4L870.3,418.2L868.8,420.3L871.3,421.6L876.4,421.2ZM876.2,419.8L879.6,418.1L879.2,415.4L875.7,414.2L871.8,416L871.8,419.2ZM881.4,414.9L882.5,411.7L879.4,409.6L874.9,410.8L872.6,413.8L876.5,415.5ZM875.7,403.1L874.1,407.1L876.9,410.6L882.1,409.7L883.2,405.6L880.4,402.7ZM880.1,395.1L875.3,395.2L874.5,399.6L876.7,403.2L881.5,402.6L883.3,398.3ZM882.2,389.7L877.3,388.1L872.6,390.3L871.8,393.9L876.7,395.5L881.2,393.3ZM869.6,385.6L871.2,389.1L876.2,388.8L879.4,386.1L877.2,383.3L872.7,382.3ZM873.4,384.8L876.7,382.2L874.6,379.7L870,379.6L865.8,381.9L867.9,384.9ZM864.2,379.5L863.6,381.7L868.2,382.1L872.5,380.8L872.4,379L868.7,378ZM883.6,416.6L879.5,418.3L879.4,420.6L884.3,421L888.8,419.3L888.6,417ZM888.7,418.4L892.3,415.9L889.2,413.8L884.7,414.1L882.3,416.4L883.5,419ZM890.3,408.2L885.3,409.5L883.8,412.7L887.4,414.4L892.3,414L893.8,410.6ZM885.5,402.4L883.9,406.7L888.2,409.3L892.8,407.4L895.2,403.6L891,400.6ZM892.4,395.5L888.6,394.1L885.5,396.6L885.9,399.9L889.8,400.8L893.3,398.9ZM890.4,387.4L885.2,386.6L881.9,390.3L884.6,393.7L889.7,393.3L892.7,390.3ZM886.4,387.5L890.3,384.9L888.9,381.4L883.9,380.6L880.3,383.5L881.5,387.1ZM877.3,381.7L881.2,383.6L886.5,382.1L887.9,378.7L883.3,376.9L878.2,378.6ZM884,377.8L881.3,376.2L876.6,377.1L874.1,379L876.6,380.7L881.5,379.8ZM898.1,416.3L893.6,416.2L890.6,417.9L891.4,419.6L895.9,419.8L899.1,418ZM896.4,418.3L901.1,416.6L902.9,413.8L898.4,412.9L894.1,414L893.4,416.4ZM894.5,411.4L897.3,414.1L902.6,413L905.3,409.8L901.6,407.4L896.4,408.2ZM902,400L897.3,401.7L895.9,405.1L898.9,408L903.5,406.2L905.4,402.8ZM897.2,393.8L894.6,397.3L898.3,399.9L903.2,399L905.8,395.3L902.2,392.3ZM902.6,391L902.9,387.4L899.6,384.8L894.1,386.3L893.5,390.4L897.8,392.1ZM897.3,379.4L892.8,380.4L891.3,383.7L894.9,385.6L899.8,385L900.6,381.4ZM897.8,376.9L893.5,375.9L889.7,377.3L888.9,379.9L892.3,381.8L896.2,379.8ZM885.3,376.3L886.4,378.1L890.4,379L893.8,377L893.5,374.8L888.9,374.6ZM910.1,416.9L908.2,415L903.5,414.8L901.1,417.3L903.2,419.3L907.7,419.1ZM909.8,411L904.6,412.3L903.7,415.6L907.4,417.5L911.9,416L913.4,413ZM914.1,406.5L909.1,405.8L906.3,409L907.3,412.6L912.2,413.5L914.8,410.2ZM909.3,405.8L914,405.4L917.2,402.4L914,399.6L908.7,399.6L906.9,403.1ZM915.3,392.3L910.8,390.8L906.4,393.2L906.9,397.7L911.7,399.2L916,396.7ZM914.2,385L909.6,383.9L904.7,385.4L905.4,389.3L909.7,391.3L914.7,389.1ZM902.9,384.2L908.1,384.2L912.2,381.8L910.9,377.8L905.9,377.1L902.6,380ZM902.2,379.5L906.8,378.5L909,375.9L905.6,374L900.6,374.8L899,377.6ZM896.2,376.3L900.3,376.8L904.4,375.6L904.7,373.3L900.7,372.6L896.1,373.9ZM921.1,414.3L916.4,414L911.7,415.5L913.3,417.8L917.3,418.6L921.1,416.8ZM925.1,413.3L922.7,410.4L917.9,411L915.1,413.5L917.4,415.7L921.5,415.7ZM926.6,406.8L922.2,405.5L917.7,407.2L916,410.8L921.5,412.3L927.2,410.3ZM927.8,400.8L924.8,397.7L919.9,398.7L917.9,402.3L920.6,406L926.2,404.9ZM918.3,396.5L923.5,397.5L927.6,394.6L926.7,390.5L921.5,389.8L917.9,392.6ZM922.4,389.2L925.7,386.3L923.8,382.8L919.5,382.3L916.4,385.1L917.7,388.8ZM913.8,381.9L918.9,383.2L922.8,380.4L922.3,376.6L917.7,375.4L913.3,377.7ZM919.6,373.6L915.8,372.1L910.6,373.2L910.3,376.4L914.2,377.8L919,376.6ZM907.1,372.3L907.6,374.4L911.7,375.3L915.4,373.5L916.2,371.2L911.3,371Z" fill="#a845bd"/><path d="M736.8,427.8L740.7,428.7L740.5,426.9ZM738.1,426.4L742.2,427.7L741.9,425.5ZM739.2,424L743.3,425.5L743,423ZM740.2,420.5L743.8,422.6L743.4,419.4ZM739.5,416.5L743.7,418.3L743.3,415.4ZM739.1,412.4L742.8,414.1L742.5,411.4ZM737.7,409.1L741.5,410.7L741.1,408.2ZM736.1,407L739.8,408.4L739.5,406.1ZM734,406L738,406.9L737.8,405.1ZM746.2,430.1L749.7,431.1L749.5,429.3ZM748,428.3L751.7,429.6L751.4,427.4ZM749,425.2L753.2,426.6L752.9,424.2ZM749.7,420.6L753.8,422.2L753.5,419.5ZM750,415.2L753.6,417.4L753.2,414.1ZM748.7,410L752.5,412.1L752.1,408.9ZM746.6,405.7L750.8,407.5L750.4,404.6ZM744.5,402.8L748.5,404.1L748.3,401.9ZM742.2,401.4L746.2,402.3L746,400.6ZM754.5,429.4L758.4,430.3L758.2,428.6ZM756.7,427.6L760.4,429L760.1,426.6ZM757.8,424.3L761.9,425.8L761.6,423.3ZM758.6,419.6L762.6,421.6L762.3,418.5ZM758.4,414.2L762.4,416.1L762,413.1ZM757.5,408.7L761.2,410.5L760.9,407.7ZM755.3,404.3L759.5,405.9L759.2,403.3ZM753.3,401.4L757.2,402.5L756.9,400.5ZM750.9,400L754.8,401L754.6,399.2ZM763.1,428.8L767.3,429.6L767.1,427.9ZM765.4,426.8L769.3,428.1L769,425.9ZM766.6,423.5L770.9,425.1L770.6,422.5ZM767.5,418.7L771.6,420.4L771.2,417.6ZM767.1,413.1L771.4,415.3L771,411.9ZM766.1,407.6L770.2,409.6L769.8,406.4ZM764.4,403L768.3,404.7L768,401.9ZM762,400L766,401.5L765.7,399ZM759.7,398.5L763.5,399.6L763.3,397.7ZM772.3,428L776.2,429L776,427.2ZM774.6,426L778.3,427.4L778,425.1ZM775.7,422.7L779.9,424.2L779.6,421.6ZM776.5,417.7L780.7,419.9L780.3,416.6ZM776.6,411.9L780.4,414.1L780,410.8ZM775.2,406.3L779.2,408.1L778.9,405.2ZM773.2,401.6L777.3,403.1L777,400.6ZM770.9,398.6L774.9,400L774.6,397.6ZM768.3,397L772.4,397.8L772.2,396.2ZM781.7,427.3L785.3,428.4L785.1,426.5ZM783.3,425.4L787.5,426.9L787.2,424.3ZM785.1,421.8L789.1,423.5L788.8,420.8ZM785.7,416.7L789.9,418.8L789.5,415.6ZM785.3,410.8L789.6,412.9L789.2,409.7ZM784.5,405L788.4,406.8L788,403.9ZM782.5,400.2L786.4,401.9L786.1,399.1ZM779.7,397.1L784,398.4L783.8,396.1ZM777.6,395.5L781.3,396.3L781.1,394.7ZM790.4,426.6L794.6,427.6L794.4,425.7ZM793,424.5L796.7,425.7L796.5,423.6ZM794.6,420.9L798.4,422.5L798.1,419.9ZM795.2,415.7L799.2,417.5L798.8,414.6ZM794.8,409.7L799,411.8L798.6,408.5ZM793.9,403.7L797.7,405.6L797.3,402.6ZM791.6,398.8L795.7,400.5L795.4,397.7ZM789.4,395.5L793.2,396.9L792.9,394.6ZM786.8,394L790.5,395L790.3,393.1ZM799.6,425.9L804,426.8L803.8,425ZM802,423.8L806.3,425.3L806,422.7ZM803.9,420.1L808,422L807.6,419ZM804.2,414.8L808.8,417L808.4,413.5ZM804.1,408.6L808.5,410.9L808.1,407.3ZM803.1,402.4L807.2,404.3L806.8,401.3ZM800.9,397.4L805.2,399.4L804.8,396.2ZM798.2,394.1L802.6,395.5L802.3,393.1ZM795.8,392.4L799.8,393.3L799.6,391.6ZM809.4,425.1L813.5,426.2L813.3,424.2ZM811.5,423L815.9,424.3L815.6,421.9ZM813.4,419.1L817.6,420.8L817.2,418.1ZM813.9,413.7L818.5,416.1L818,412.5ZM813.8,407.4L818.2,409.6L817.7,406.1ZM812.2,401.1L816.9,403.1L816.5,399.9ZM810.2,395.9L814.8,397.8L814.4,394.8ZM808,392.5L812.1,394L811.8,391.5ZM805.4,390.8L809.3,391.8L809,390ZM818.9,424.3L823.2,425.3L823,423.5ZM821.1,422.2L825.7,423.7L825.3,421.1ZM822.7,418.3L827.5,420.2L827.1,417.1ZM823.8,412.7L828.3,414.8L827.8,411.4ZM823.5,406.2L828,408.6L827.5,404.9ZM822.6,399.7L826.6,401.7L826.2,398.6ZM819.8,394.5L824.5,396.4L824.1,393.3ZM817.5,391L821.8,392.4L821.5,390ZM814.7,389.3L818.9,390.3L818.6,388.4ZM829,423.5L833,424.5L832.8,422.7ZM831,421.3L835.6,422.9L835.2,420.2ZM832.8,417.3L837.4,419.1L837,416.2ZM834.1,411.6L838.2,414L837.7,410.3ZM833.6,404.9L837.9,407.2L837.5,403.7ZM831.8,398.4L836.6,400.4L836.2,397.2ZM829.8,393L834.4,395L834,391.7ZM827.3,389.4L831.6,391.1L831.3,388.3ZM824.5,387.6L828.6,388.8L828.4,386.7ZM839,422.7L843,423.8L842.8,421.9ZM841.4,420.4L845.6,422L845.2,419.4ZM843.1,416.4L847.5,418.5L847.1,415.2ZM843.9,410.5L848.3,412.8L847.9,409.3ZM843.3,403.7L848.1,406L847.6,402.4ZM841.9,397L846.7,399.2L846.3,395.7ZM839.8,391.4L844.4,393.3L844,390.2ZM837.4,387.7L841.5,389.2L841.2,386.7ZM834.1,386L838.5,387L838.3,385.1ZM849.1,421.9L853.2,422.9L852.9,421.1ZM851.1,419.6L855.8,421L855.5,418.5ZM853.4,415.4L857.7,417.6L857.3,414.2ZM853.7,409.5L858.7,411.7L858.2,408.2ZM854,402.4L858.3,405.1L857.8,401.1ZM852.6,395.5L856.9,397.9L856.4,394.3ZM850,389.9L854.6,391.9L854.2,388.6ZM847.3,386.1L851.6,387.5L851.3,385.1ZM844.2,384.3L848.6,385.4L848.3,383.4ZM858.9,421.2L863.6,422.3L863.3,420.2ZM861.8,418.7L866.2,420.5L865.8,417.6ZM863.3,414.5L868.2,416.5L867.8,413.3ZM864.5,408.3L869,410.5L868.6,407ZM863.7,401.2L868.8,403.3L868.4,399.9ZM862.8,394.1L867.3,396.4L866.8,392.8ZM860.3,388.2L864.9,390L864.5,387.1ZM857.6,384.5L861.9,386L861.6,383.4ZM854.5,382.6L858.7,383.7L858.5,381.7ZM869.3,420.4L874,421.4L873.8,419.4ZM872.4,417.8L876.7,419.6L876.4,416.7ZM873.9,413.5L878.7,415.3L878.4,412.3ZM875.1,407.2L879.7,409.7L879.2,405.9ZM874.9,399.9L879.4,402.5L878.9,398.5ZM872.8,392.7L877.9,394.6L877.5,391.4ZM870.7,386.7L875.4,388.8L875,385.4ZM867.5,382.8L872.4,384.5L872.1,381.7ZM864.3,380.9L869.2,381.9L868.9,379.9ZM879.8,419.6L884.7,420.7L884.4,418.5ZM882.6,417L887.5,418.6L887.1,415.8ZM884.8,412.5L889.5,414.3L889.1,411.3ZM885.4,406.1L890.5,408.5L890,404.7ZM885.6,398.5L890.1,400.8L889.6,397.2ZM883.6,391.2L888.6,393.4L888.2,389.9ZM881.4,385L886.1,387.1L885.7,383.8ZM878,381.1L883.1,382.9L882.7,379.9ZM875.2,379.1L879.6,380.1L879.4,378.2ZM890.7,418.7L895.5,419.6L895.2,417.7ZM893.5,416L898.3,417.5L898,414.9ZM895.5,411.5L900.4,413.3L900,410.3ZM896.6,404.8L901.4,407L900.9,403.6ZM896,397.2L901.1,399.5L900.6,395.9ZM894.5,389.7L899.5,391.9L899.1,388.3ZM892.1,383.4L896.9,385.5L896.5,382.1ZM889.3,379.3L893.7,380.9L893.4,378.2ZM885.9,377.3L890.3,378.4L890.1,376.3ZM902,417.8L906.4,419.1L906.1,416.8ZM904.4,415.2L909.4,417L909,414ZM906.7,410.5L911.5,412.8L911.1,409.2ZM907.3,403.7L912.5,405.8L912.1,402.4ZM907.5,395.8L912.1,398.4L911.7,394.5ZM905.6,388.1L910.5,390.3L910.1,386.8ZM903.1,381.7L908,384.1L907.5,380.4ZM899.9,377.5L904.7,379.1L904.4,376.4ZM896.8,375.5L901.2,376.6L900.9,374.5ZM912.9,416.9L917.6,418.2L917.3,415.9ZM916,414.2L920.5,415.9L920.2,413ZM917.4,409.4L922.8,411.4L922.4,408.1ZM918.5,402.6L923.8,405.2L923.3,401.1ZM918.6,394.4L923.4,396.7L922.9,393.1ZM917,386.6L921.8,389.1L921.3,385.2ZM914.2,380L919.2,382.5L918.7,378.7ZM910.6,375.8L915.9,377.7L915.5,374.6ZM907.6,373.6L912.2,374.7L912,372.7Z" fill="#d994e3"/><path d="M740.4,426L743.4,426.9L739.9,427.4ZM741.8,424.3L745,425.6L741.4,426ZM742.9,421.7L746.1,423.2L742.4,423.6ZM743.2,417.8L746.1,419.8L743,420.2ZM743.1,413.9L746.4,415.6L742.8,416.1ZM742.3,410L745.2,411.7L742,412.1ZM741,406.8L744,408.4L740.6,408.8ZM739.3,404.9L742.3,406.2L739,406.6ZM737.7,404.1L740.9,405.1L737.2,405.6ZM749.3,428.4L752,429.4L749,429.8ZM751.2,426.2L754.1,427.5L750.9,427.9ZM752.7,422.9L756,424.3L752.3,424.8ZM753.3,418.1L756.6,419.7L752.9,420.2ZM753,412.4L755.8,414.5L752.7,414.9ZM751.9,407.2L755,409.2L751.6,409.7ZM750.2,403.1L753.6,404.8L749.9,405.3ZM748.1,400.8L751.3,402L747.7,402.4ZM745.9,399.7L748.9,400.6L745.4,401.1ZM758.1,427.8L761.2,428.6L757.6,429.1ZM760,425.4L762.9,426.8L759.6,427.2ZM761.5,422L764.7,423.5L761,423.9ZM762.1,416.9L765.3,418.8L761.7,419.2ZM761.8,411.4L765,413.3L761.5,413.8ZM760.7,406.3L763.7,408L760.4,408.4ZM759,402L762.3,403.5L758.6,403.9ZM756.8,399.4L759.9,400.6L756.4,401ZM754.4,398.2L757.5,399.2L754,399.6ZM766.9,427L770.2,427.9L766.4,428.4ZM768.9,424.7L771.9,426L768.5,426.5ZM770.4,421.1L773.8,422.6L770,423.1ZM771,416.1L774.2,417.8L770.6,418.3ZM770.7,410.1L774.1,412.3L770.4,412.7ZM769.6,404.8L772.8,406.7L769.3,407.2ZM767.8,400.5L770.9,402.1L767.4,402.6ZM765.5,397.7L768.7,399.2L765.2,399.6ZM763.1,396.7L766.1,397.7L762.7,398.2ZM775.9,426.2L778.9,427.2L775.4,427.7ZM777.9,424L780.8,425.3L777.5,425.7ZM779.4,420.3L782.7,421.8L779,422.3ZM780.1,414.8L783.4,416.9L779.7,417.3ZM779.8,409.1L782.7,411.2L779.5,411.6ZM778.7,403.7L781.8,405.5L778.3,405.9ZM776.8,399.2L780,400.7L776.4,401.2ZM774.5,396.3L777.6,397.7L774.1,398.2ZM772.1,395.4L775.2,396.2L771.6,396.6ZM784.9,425.5L787.8,426.5L784.5,426.9ZM787.1,423L790.4,424.5L786.6,424.9ZM788.6,419.3L791.7,421L788.2,421.4ZM789.3,413.9L792.6,415.9L788.9,416.3ZM789,408L792.5,410L788.7,410.4ZM787.8,402.4L790.9,404.2L787.5,404.6ZM785.9,397.7L789,399.4L785.6,399.8ZM783.6,394.9L787,396.2L783.1,396.7ZM781,393.9L784,394.7L780.6,395.1ZM794.2,424.7L797.6,425.7L793.7,426.2ZM796.3,422.5L799.3,423.7L795.9,424.1ZM797.9,418.5L800.9,420.1L797.6,420.5ZM798.6,413.1L801.8,414.9L798.3,415.3ZM798.4,406.8L801.7,408.8L798,409.3ZM797.1,401L800.1,402.9L796.8,403.3ZM795.2,396.3L798.4,397.9L794.8,398.4ZM792.8,393.4L795.8,394.8L792.4,395.2ZM790.2,392.1L793.1,393.2L789.7,393.6ZM803.7,424L807.1,425L803.1,425.5ZM805.8,421.4L809.2,422.9L805.4,423.4ZM807.4,417.4L810.6,419.2L807,419.7ZM808.2,411.7L811.8,413.8L807.8,414.3ZM807.9,405.4L811.4,407.7L807.5,408.1ZM806.6,399.7L809.9,401.5L806.3,402ZM804.6,394.5L808,396.5L804.2,397ZM802.2,391.8L805.7,393.2L801.7,393.7ZM799.5,390.7L802.6,391.6L799,392ZM813.2,423.2L816.4,424.2L812.7,424.7ZM815.4,420.7L818.9,422L815,422.5ZM817.1,416.6L820.4,418.3L816.7,418.7ZM817.8,410.6L821.4,412.8L817.4,413.3ZM817.5,404.3L821,406.5L817.2,406.9ZM816.3,398.2L820,400.2L815.9,400.7ZM814.2,393.1L817.8,395L813.8,395.5ZM811.6,390.2L814.9,391.7L811.2,392.1ZM808.9,389L811.9,390L808.5,390.5ZM822.9,422.5L826.3,423.4L822.4,423.9ZM825.2,419.7L828.8,421.2L824.7,421.7ZM826.9,415.5L830.6,417.3L826.4,417.9ZM827.6,409.6L831.2,411.7L827.2,412.2ZM827.3,402.9L830.9,405.3L827,405.8ZM826,396.9L829.2,398.9L825.7,399.3ZM823.9,391.6L827.6,393.5L823.5,394ZM821.3,388.7L824.7,390.1L820.9,390.6ZM818.5,387.3L821.8,388.4L818,388.9ZM832.7,421.7L835.8,422.7L832.2,423.1ZM835.1,418.9L838.7,420.4L834.6,420.9ZM836.8,414.7L840.4,416.4L836.4,416.9ZM837.5,408.4L840.8,410.7L837.2,411.2ZM837.3,401.8L840.7,404L836.9,404.5ZM836,395.4L839.8,397.4L835.5,397.9ZM833.8,390L837.4,392L833.4,392.5ZM831.1,386.9L834.5,388.5L830.7,389ZM828.2,385.6L831.4,386.8L827.8,387.2ZM842.7,420.8L845.8,421.9L842.2,422.4ZM845.1,418L848.3,419.6L844.7,420ZM846.9,413.5L850.3,415.5L846.5,416ZM847.7,407.4L851.2,409.6L847.3,410.1ZM847.4,400.5L851.1,402.8L847,403.3ZM846,393.9L849.8,396L845.6,396.6ZM843.8,388.6L847.4,390.5L843.4,391ZM841,385.4L844.3,386.9L840.6,387.3ZM838.2,384.1L841.6,385.1L837.6,385.6ZM852.8,420.1L856,421.1L852.3,421.5ZM855.4,417.2L859.1,418.6L854.8,419.2ZM857.1,412.4L860.5,414.6L856.7,415ZM858,406.3L861.9,408.4L857.6,409ZM857.6,399L861,401.6L857.3,402ZM856.2,392.4L859.5,394.7L855.9,395.1ZM854,386.9L857.6,388.9L853.6,389.4ZM851.2,383.8L854.6,385.2L850.7,385.7ZM848.2,382.3L851.6,383.4L847.7,383.9ZM863.2,419.1L866.8,420.2L862.6,420.7ZM865.6,416.1L869.1,417.8L865.2,418.3ZM867.6,411.5L871.5,413.5L867.1,414.1ZM868.4,405.2L871.9,407.4L868,407.9ZM868.1,398.1L872.1,400.1L867.7,400.7ZM866.6,390.9L870.2,393.2L866.3,393.7ZM864.3,385.5L868,387.3L863.9,387.8ZM861.4,382L864.8,383.6L861,384ZM858.4,380.6L861.7,381.7L857.9,382.2ZM873.7,418.4L877.4,419.4L873.1,419.9ZM876.2,415.3L879.6,417L875.8,417.4ZM878.2,410.7L882,412.5L877.7,413ZM879,403.9L882.6,406.3L878.6,406.7ZM878.6,396.4L882.1,399L878.3,399.4ZM877.3,389.7L881.3,391.6L876.8,392.2ZM874.8,383.6L878.5,385.7L874.4,386.2ZM871.9,380.2L875.8,381.8L871.4,382.4ZM868.8,378.9L872.6,379.9L868.2,380.4ZM884.3,417.4L888.1,418.5L883.7,419.1ZM886.9,414.4L890.8,416L886.4,416.5ZM888.9,409.7L892.6,411.5L888.4,412ZM889.8,402.7L893.8,405L889.3,405.6ZM889.4,395.3L892.9,397.6L889,398.1ZM887.9,388L891.9,390.2L887.5,390.7ZM885.5,382.1L889.2,384.1L885,384.6ZM882.5,378.4L886.5,380.1L882,380.6ZM879.3,377.1L882.8,378.2L878.7,378.7ZM895.1,416.7L898.9,417.7L894.5,418.2ZM897.8,413.6L901.6,415L897.3,415.6ZM899.8,408.7L903.7,410.5L899.3,411ZM900.7,401.7L904.5,403.9L900.3,404.4ZM900.4,393.9L904.3,396.2L899.9,396.7ZM898.8,386.4L902.8,388.6L898.4,389.2ZM896.3,380.4L900.1,382.4L895.9,382.9ZM893.2,376.8L896.7,378.4L892.8,378.9ZM889.9,375.3L893.4,376.4L889.4,376.9ZM906,415.6L909.5,416.9L905.5,417.4ZM908.8,412.4L912.7,414.1L908.3,414.7ZM910.8,407.2L914.6,409.5L910.4,410ZM911.8,400.5L915.9,402.6L911.3,403.2ZM911.4,392.4L915.1,394.9L911,395.4ZM909.9,384.9L913.8,387.1L909.4,387.6ZM907.3,378.5L911.1,380.7L906.9,381.3ZM904.2,375L907.9,376.6L903.7,377.1ZM900.8,373.4L904.2,374.6L900.3,375ZM917.2,414.7L920.9,415.9L916.6,416.5ZM920,411.5L923.5,413.2L919.5,413.7ZM922.2,406.4L926.5,408.3L921.6,408.9ZM923.1,398.9L927.3,401.5L922.6,402ZM922.7,391.2L926.5,393.4L922.3,393.9ZM921.1,383.1L924.9,385.6L920.7,386.1ZM918.5,376.7L922.4,379L918,379.6ZM915.3,373L919.4,374.7L914.8,375.3ZM911.8,371.6L915.4,372.7L911.3,373.2Z" fill="#5a1a70"/><ellipse cx="936.4" cy="391.8" rx="9" ry="22.4" transform="rotate(-7 936.4 391.8)" fill="#3fa8b7"/><ellipse cx="939" cy="391.5" rx="9" ry="22.4" transform="rotate(-7 939 391.5)" fill="#62c6d0"/><ellipse cx="939.7" cy="391.4" rx="5.5" ry="13.6" transform="rotate(-7 939.7 391.4)" fill="#2b95a6"/><path d="M930.3,379.8L931.8,383.4M930.3,379.8L936.3,379.5M927.3,389.3L931.3,395.6M927.3,389.3L931.8,383.4M929.4,401.4L935.4,403.9M929.4,401.4L931.3,395.6M931.8,383.4L938.7,383.4M931.3,395.6L938.3,395.1M935.4,403.9L942.2,402.9M943.1,379.7L943.9,380.1M938.7,383.4L943.9,380.1M938.7,383.4L941.2,388.8M938.3,395.1L941.2,388.8M938.3,395.1L943.2,399.8M942.2,402.9L943.2,399.8" stroke="#6c6c6c" stroke-width="1.56" fill="none" stroke-linecap="round"/><path d="M943.9,380.1L950.3,380.3M941.2,388.8L947.7,388.6M943.2,399.8L949.6,399.1M950.3,380.3L951.6,383.5M950.3,380.3L955.6,380M947.7,388.6L951.2,394.1M947.7,388.6L951.6,383.5M949.6,399.1L954.8,401.2M949.6,399.1L951.2,394.1M951.6,383.5L957.7,383.5M951.2,394.1L957.3,393.6M954.8,401.2L960.7,400.4" stroke="#6c6c6c" stroke-width="1.43" fill="none" stroke-linecap="round"/><path d="M961.5,380.2L962.2,380.6M957.7,383.5L962.2,380.6M957.7,383.5L959.9,388.1M957.3,393.6L959.9,388.1M957.3,393.6L961.6,397.7M960.7,400.4L961.6,397.7M962.2,380.6L967.8,380.7M959.9,388.1L965.5,387.9M961.6,397.7L967.2,397.1" stroke="#6c6c6c" stroke-width="1.30" fill="none" stroke-linecap="round"/><path d="M967.8,380.7L968.9,383.5M967.8,380.7L972.4,380.5M965.5,387.9L968.6,392.7M965.5,387.9L968.9,383.5M967.2,397.1L971.7,399M967.2,397.1L968.6,392.7M968.9,383.5L974.2,383.5M968.6,392.7L973.8,392.3M971.7,399L976.8,398.3M977.5,380.7L978.1,381M974.2,383.5L978.1,381M974.2,383.5L976,387.6M973.8,392.3L976,387.6M973.8,392.3L977.5,395.9M976.8,398.3L977.5,395.9" stroke="#6c6c6c" stroke-width="1.17" fill="none" stroke-linecap="round"/><path d="M934.6,403.9L940,399.9M934.6,403.9L935.4,403.9M937.5,394.4L940.4,387.7M937.5,394.4L940,399.9M935.4,382.3L936.3,379.5M935.4,382.3L940.4,387.7M940,399.9L946.6,399.2M940.4,387.7L947,387.6M936.3,379.5L943.1,379.7M946.6,399.2L947.8,402.1M946.6,399.2L950.5,393.5M947,387.6L950.5,393.5M947,387.6L948.6,382.5M943.1,379.7L948.6,382.5M942.2,402.9L947.8,402.1" stroke="#4a4a4a" stroke-width="1.84" fill="none" stroke-linecap="round"/><path d="M947.8,402.1L954.1,401.3M950.5,393.5L956.6,393M948.6,382.5L954.8,382.5M954.1,401.3L958.8,397.8M954.1,401.3L954.8,401.2M956.6,393L959.2,387.2M956.6,393L958.8,397.8M954.8,382.5L955.6,380M954.8,382.5L959.2,387.2M958.8,397.8L964.5,397.2M959.2,387.2L964.9,387.1M955.6,380L961.5,380.2" stroke="#4a4a4a" stroke-width="1.68" fill="none" stroke-linecap="round"/><path d="M964.5,397.2L965.6,399.7M964.5,397.2L968,392.2M964.9,387.1L968,392.2M964.9,387.1L966.3,382.6M961.5,380.2L966.3,382.6M960.7,400.4L965.6,399.7M965.6,399.7L971,399M968,392.2L973.3,391.8M966.3,382.6L971.6,382.7" stroke="#4a4a4a" stroke-width="1.53" fill="none" stroke-linecap="round"/><path d="M971,399L975.1,396M971,399L971.7,399M973.3,391.8L975.5,386.8M973.3,391.8L975.1,396M971.6,382.7L972.4,380.5M971.6,382.7L975.5,386.8M975.1,396L980.1,395.4M975.5,386.8L980.4,386.6M972.4,380.5L977.5,380.7M980.1,395.4L981,397.7M980.1,395.4L983.1,391.1M980.4,386.6L983.1,391.1M980.4,386.6L981.6,382.8M977.5,380.7L981.6,382.8M976.8,398.3L981,397.7" stroke="#4a4a4a" stroke-width="1.38" fill="none" stroke-linecap="round"/><ellipse cx="945.4" cy="444.5" rx="21.9" ry="21.9" transform="rotate(69.6 945.4 444.5)" fill="#3fa8b7"/><ellipse cx="946.3" cy="446.9" rx="21.9" ry="21.9" transform="rotate(69.6 946.3 446.9)" fill="#62c6d0"/><ellipse cx="946.5" cy="447.5" rx="13.3" ry="13.3" transform="rotate(69.6 946.5 447.5)" fill="#2b95a6"/><path d="M933,443.6L934.4,443.6M957.1,437.5L954.6,438.5M948.9,434L943.3,438.2M948.9,434L954.6,438.5M936.9,437.1L934.4,443.6M936.9,437.1L943.3,438.2M954.6,438.5L955.4,445.3M943.3,438.2L944.8,445M934.4,443.6L936.3,450.1" stroke="#6c6c6c" stroke-width="1.53" fill="none" stroke-linecap="round"/><path d="M955.4,445.3L958.3,450.7M955.4,445.3L951.1,447.5M944.8,445L951.1,447.5M944.8,445L940.4,450.3M936.3,450.1L940.4,450.3M936.3,450.1L936.9,456.1M958.3,450.7L958.9,456.8M951.1,447.5L952.1,453.8M940.4,450.3L942,456.4M938.7,461.9L939.8,461.9M958.9,456.8L956.9,457.6M952.1,453.8L947.4,457.4M952.1,453.8L956.9,457.6M942,456.4L939.8,461.9M942,456.4L947.4,457.4" stroke="#6c6c6c" stroke-width="1.40" fill="none" stroke-linecap="round"/><path d="M956.9,457.6L957.6,463.3M947.4,457.4L948.6,463.1M939.8,461.9L941.5,467.4M957.6,463.3L960,467.9M957.6,463.3L953.9,465.2M948.6,463.1L953.9,465.2M948.6,463.1L944.9,467.5M941.5,467.4L944.9,467.5M941.5,467.4L942,472.5" stroke="#6c6c6c" stroke-width="1.27" fill="none" stroke-linecap="round"/><path d="M960,467.9L960.5,473M953.9,465.2L954.8,470.5M944.9,467.5L946.2,472.7M943.5,477.3L944.4,477.3M960.5,473L958.8,473.7M954.8,470.5L950.8,473.5M954.8,470.5L958.8,473.7M946.2,472.7L944.4,477.3M946.2,472.7L950.8,473.5" stroke="#6c6c6c" stroke-width="1.14" fill="none" stroke-linecap="round"/><path d="M933,443.6L936.8,449.3M941.1,447.2L948.1,449.6M941.1,447.2L936.8,449.3M953.2,444.1L957,444.2M953.2,444.1L948.1,449.6M957.1,437.5L957,444.2M936.8,449.3L938.6,455.5M948.1,449.6L949.2,455.7M957,444.2L957.7,450.6" stroke="#4a4a4a" stroke-width="1.80" fill="none" stroke-linecap="round"/><path d="M938.6,455.5L936.9,456.1M938.6,455.5L944.1,459.3M949.2,455.7L944.1,459.3M949.2,455.7L954.9,456.6M957.7,450.6L954.9,456.6M957.7,450.6L958.3,450.7M936.9,456.1L938.7,461.9M944.1,459.3L945.5,464.9M954.9,456.6L955.7,462.3M938.7,461.9L941.8,466.7M945.5,464.9L951.4,466.9M945.5,464.9L941.8,466.7M955.7,462.3L958.9,462.4M955.7,462.3L951.4,466.9M958.9,456.8L958.9,462.4" stroke="#4a4a4a" stroke-width="1.65" fill="none" stroke-linecap="round"/><path d="M941.8,466.7L943.4,471.9M951.4,466.9L952.4,472.1M958.9,462.4L959.5,467.8M943.4,471.9L942,472.5M943.4,471.9L948.1,475.1M952.4,472.1L948.1,475.1M952.4,472.1L957.1,472.8M959.5,467.8L957.1,472.8M959.5,467.8L960,467.9" stroke="#4a4a4a" stroke-width="1.50" fill="none" stroke-linecap="round"/><path d="M942,472.5L943.5,477.3M948.1,475.1L949.2,479.8M957.1,472.8L957.8,477.6M943.5,477.3L946.1,481.3M949.2,479.8L954.2,481.5M949.2,479.8L946.1,481.3M957.8,477.6L960.5,477.7M957.8,477.6L954.2,481.5M960.5,473L960.5,477.7" stroke="#4a4a4a" stroke-width="1.35" fill="none" stroke-linecap="round"/><path d="M708.1,375 L879.7,489.5 A13.5,22.5 32.2 0 0 903.7,451.5 L726.3,346.2 A7.1,17 32.2 0 0 708.1,375 Z" fill="url(#g18)"/><path d="M704.8,366.7L701.5,365.6L699.6,366.5L702.2,369.3L706,371L707.1,369.3ZM703.1,366.9L705,369.9L708.4,371.2L710.5,369.6L708.6,366.8L705.3,365.3ZM706.7,366.1L708.1,369.6L711.8,370.3L713.6,368.2L712.9,365L709,363.8ZM716.7,367.4L717.4,364.4L715.3,361.3L711.7,361.8L711.1,364.8L713.1,367.7ZM713.9,361.7L717.5,364.3L721.1,363.3L721,359.6L717.1,356.8L714.3,358.6ZM723.4,357.4L721.4,354.3L717.7,352.5L715.7,355L717.5,358L721.1,359.6ZM721.9,349.8L718.7,349L716.4,350.7L718.4,353.9L721.8,354.2L724.1,352.6ZM716.8,348.2L720,350.3L722.7,350L722.4,347.6L719.3,345.7L716,345.4ZM714.7,343L715.1,345.1L718.7,347.1L721.7,347.5L720.7,345L717.1,342.7ZM704.9,375L707.5,377.7L711,378.7L712.3,377.2L709.7,374.6L706.6,373.8ZM714.7,374.5L711.3,374L710,375.7L711.6,378.2L715,379.5L716.3,377.4ZM715.2,376.2L718.4,378.2L721.6,377.4L720.6,374L717.1,372.3L714.3,373.2ZM725.8,371.2L723.4,368.3L720.1,369.3L719,372.2L721.7,375.2L725.6,374.6ZM730.4,367.4L728.7,364.1L724.7,363L722.4,365.6L724.9,368.9L728.3,369.4ZM728.4,363.8L731.6,363L733.2,360.4L730.5,357.8L726.8,357.6L725.7,360.9ZM728.2,356.2L731.6,357.7L734.3,356.5L733.1,353.3L729.5,351.9L727.2,353.3ZM731.7,352.8L733.3,351.2L731.2,348.6L727.8,347.1L726.7,348.8L728.4,351.3ZM724.6,346.2L728,348.6L730.4,348.2L730.6,346.2L727.1,344.2L724.2,343.8ZM712.8,380.8L716.3,383.5L719.7,383.7L718.6,381.1L715.4,378.2L711.9,378.1ZM722.5,380.3L718.7,378.2L717,379.8L717.7,382.6L721.9,384.8L723.8,383.1ZM721.8,380.1L723.8,383.3L727.4,382.7L729,379.9L726.1,377.5L723.1,377.5ZM730.8,373.6L727.4,373.8L726.3,376.7L729.1,379.3L733.2,379.9L734.1,376.1ZM737.7,371.5L736,367.9L732.1,368.3L730.1,371.1L732.5,374.4L736.5,374.6ZM738,363L734.7,362.5L733.9,365.2L736,367.8L739.1,367.8L740.5,365.4ZM741.1,361.8L741.7,358.8L738.4,356.5L735.5,357.2L735.1,359.8L737.8,362ZM736.9,351.8L733.9,352.1L734.2,354.7L737.6,357.1L740.7,356.8L740.9,354ZM731.6,348L731.6,350.2L735.1,352.7L738.4,353.2L738.5,351L734.8,348.6ZM723.5,387.8L726.7,388.4L725.7,385.9L722.8,383.4L720.3,383.8L720.4,385.8ZM724.3,384.7L725.5,387.4L729.4,389.5L731.1,387.9L729.8,385.2L726,383.2ZM730.9,382.1L729.3,384.4L730.5,387.8L734.2,387.6L736.7,385.5L734.5,382.1ZM735.7,378L733.5,380.4L735.6,383.6L739.6,385.2L741.9,382.3L739.8,378.5ZM745.7,378.4L745.1,374.7L741.2,372.1L737.9,373.8L738.4,377.4L742.2,379.8ZM743.9,372.8L747.2,372.5L748.8,370L745.3,367.5L741.4,366.7L740.4,370ZM745.5,366.7L748.6,366.3L748.9,363.7L746,361.4L742.1,360.9L742.6,364.2ZM746.4,361.8L748.1,360.2L747.2,357.1L743.4,356.1L741.2,357.5L742.9,360.5ZM745.7,356.8L745.1,354.4L741.4,352.7L739,353.1L740.1,355.7L743.9,357.7ZM731.3,389.2L727.6,387.9L726.9,389.9L729.8,393L733.6,393.7L734.5,391.9ZM731,390.5L734.1,393.3L738,394.6L739.3,392L736.5,388.7L732.8,388.4ZM743.9,389.7L740.8,387.2L737.8,387.6L736.9,390L739.5,392.3L742.9,392.6ZM745.6,389.8L748.6,388.3L749,384.6L744.6,382.1L741.2,383.9L741.3,387.9ZM751.4,378.3L747.1,376.8L744.9,379.9L747.3,383.7L751.7,384.9L753.8,381.8ZM753.4,377.8L756.1,375.8L755,372.2L751.4,371.6L748.7,373.7L750.2,376.9ZM754.1,372.6L757.4,371L756.3,367.6L753,365.4L750.1,366.6L750,369.8ZM755.2,366.5L756.5,363.9L753.7,360.9L750.2,360.8L749.5,363.2L751.5,366.1ZM749.5,357L746.1,356.8L747.2,359.6L751.1,362.4L753.7,361.9L752.8,359.7ZM737,397.5L740,398.2L741.3,396.8L739.5,394.2L736.1,393.3L734.6,394.8ZM746.7,396.7L743,394.1L739.2,393.3L739.2,395.9L742.5,398.7L745.6,398.8ZM748.8,398.3L751.2,396.7L751.2,393.3L746.6,390.9L743.6,392.7L744.9,396.3ZM749.9,388.2L748.9,391.5L752,394.5L755.6,393.9L756.1,391L753.7,388.2ZM753.6,386.4L756.6,389.7L760.6,388.8L760.5,385.3L757.8,382.2L753.9,382.9ZM756.7,380.2L759.4,382.9L762.7,382L763.3,379L760.9,376.7L757.7,377.1ZM761.1,376.6L764.6,376L765,372.8L761.6,370.6L758.1,370.8L758,374ZM763.9,368.9L761,366.2L756.9,364.9L757,367.6L759.9,370.4L763.7,371.2ZM759.2,366.7L761.9,366.6L760.8,364L756.9,361.6L754.6,362.1L755.3,364.5ZM743.4,397.8L742.3,399.7L744.3,402.3L748.3,404.3L749.4,402.4L747.4,399.6ZM750.6,398.4L747.3,398.8L747,401.2L750.3,404.3L753.9,404.2L754.4,401.7ZM756.5,403.3L759.2,401.6L758,398.5L754.7,396.9L752.6,398.6L753.1,401.6ZM760.2,392.4L756.8,394.1L757.4,397.8L761.2,399.6L764.4,398.3L764.1,394.7ZM763.7,393.7L767.5,394.1L769.6,390.7L766.7,387.8L762.7,387.2L761,390.9ZM769.2,388.7L771.9,386.2L771,382.7L767.3,380.7L764,382.5L765.4,386.2ZM770.7,381L772.5,379.3L771.3,376.4L767.9,375.1L765.7,377L767,380.3ZM772.4,374.1L769.9,371.1L766.4,370.2L765,372L766.7,375.1L770.4,375.7ZM765.5,366.6L762.5,366.5L763,368.8L766.5,371L769.8,371.6L769.1,369.1ZM752.9,404L749.9,403.8L750.5,406.4L754.3,408.6L757.2,408.6L756.2,406.1ZM762.3,406.9L759.1,404.1L755.1,403.4L754.7,406.4L757.5,409.4L761,409.4ZM764.5,409.1L767,406.9L766.5,403.6L762.5,401.5L759.7,403.3L760.7,406.7ZM767.1,404.8L771.7,405.1L773.1,401.9L770.3,398.2L765.7,397.7L763.9,400.8ZM777.2,395.8L775,391.9L770.6,392.4L769.5,395.9L771.5,399.5L775.5,398.9ZM775.1,385.7L771.8,387.4L773.2,391.3L777.5,393.6L780.7,391.5L779,387.7ZM774.5,385L778.4,386.6L780.9,384.7L780.6,381.1L776.5,379.7L774.1,381.6ZM776.1,380.2L779.5,380.5L779.9,377.6L777,375L773.2,374.9L773.2,378ZM775.7,376.2L777.9,375.8L776.7,373.1L772.3,371L770.1,371.5L771.8,374.3ZM759.3,408.7L757.8,409.9L759.6,412.8L763.9,414.5L765.5,413.3L763,410.5ZM762.9,412.9L766.9,415.4L769.5,414L769.8,410.9L765.6,408.3L763,409.9ZM769.1,407.4L766.8,409.4L770.2,412.6L774.2,413.8L775.6,411.3L772.9,408.2ZM772.6,404.4L774,408.2L777.4,410.2L780.8,408.6L779.9,404.9L776.2,402.7ZM782.7,398.4L779.2,398.1L777.6,400.8L779.8,404L783.8,404.3L785.3,401.3ZM780,394.8L783.4,398.3L787.8,398L788.6,394.2L785.3,391.4L781.3,391.2ZM788.6,387.4L785.6,384.9L782.5,385.8L782.5,388.7L785.7,391.2L789.3,390.8ZM781.5,380.1L781.4,382.9L784.6,385.5L787.8,385.1L787.8,382.4L784.8,379.4ZM780.6,375.7L778.1,376.3L780.2,379.2L783.6,381L786.3,380.7L784.6,377.8ZM773.7,418.7L771.2,415.6L767.7,414.5L765.9,415.3L768,417.9L771.4,419.3ZM771.3,417.8L775.4,420.7L778.1,419.7L777.7,416.8L773.5,414.5L770,414.6ZM779.1,411.7L775.9,413.3L775.9,416.8L780.1,419.1L783.3,418.2L783.9,414.7ZM788.7,412.9L787.3,409.2L782.9,408.2L781.1,410.9L782.9,414.4L787.2,415.7ZM785.3,405.9L788.3,409.3L792.3,409.3L793.4,406.5L790.8,403.4L786.8,403ZM794.9,402.9L797.6,400.6L794.7,396.9L790.6,396.4L788,398.6L791.1,402ZM795.1,390.5L790.8,389.5L789.9,392.7L792.8,395.8L796.9,396.4L797.8,393.4ZM797.3,390.4L795.9,387.1L792.3,384.1L789.3,385.2L789.8,388.3L793.6,390.4ZM788.9,380.5L787.2,381.7L788.6,384.2L792.3,386.6L794,385.3L792.9,382.6ZM776.6,424.3L781,425.7L781.1,423.3L778.4,420.7L774.2,418.8L773.3,421ZM781.2,419.6L778.7,420.8L780.1,423.9L784.1,426.4L787,425L785.7,421.2ZM792.1,420.9L788.4,418.4L784.5,418.1L784.1,421.5L787.3,424.6L790.7,423.7ZM790.2,415.1L789.8,418.6L793.3,421.3L796.8,419.7L797.2,415.9L793.4,413.8ZM803,412.4L799.9,408.7L795.8,408L793.8,410.7L796,414.5L800.3,415ZM801.1,400.4L797.8,402.7L797.9,406.4L801.3,408.8L805.3,407.3L805.2,402.9ZM802.7,402.4L806,400.6L805.6,397.2L802.1,394.4L799,395.9L799.2,399.2ZM806.3,395.2L804.6,391.5L800,389.6L797.6,390.6L798.9,393.6L803.2,396.1ZM795.6,386.7L797,389.2L800.4,391.2L803,390.5L801.5,387.4L797.1,385.2ZM784,424.7L782,425.8L783.2,428.7L787.9,431.4L790.7,430.3L788.4,427ZM789.1,430.7L793.6,431.8L795.8,429.7L792.7,425.7L788.5,425.3L785.9,426.9ZM799.7,427.9L798.4,425L794.7,423L792.6,425.4L794.2,428.6L797.9,430.4ZM805.3,421.7L801.8,418.8L798.5,420.4L797.9,423.9L801.9,426.3L805.4,425.2ZM810.6,419.6L810.2,415.9L806.4,413.4L803,414.5L802.4,418.1L806.8,421.2ZM806.1,409.2L807.7,412.6L812,414.1L813.8,411.1L811.9,407.6L807.7,406.3ZM810.6,407.1L814.6,406.4L814.4,403L811.4,400.5L807.7,400.6L807.3,403.9ZM812,401.6L813.7,399.2L812.3,396L808.5,394.6L805.5,396L807.3,399.9ZM804,390.6L803.5,392.7L807.4,395.6L811.3,396.6L810.8,394.1L807.6,391.5ZM792.5,434.4L796.3,436.4L797.5,434.9L796.3,432.2L792.1,430.4L790.2,431.5ZM796,432L795.9,435.4L799.9,436.8L802.8,435.9L802.4,432.6L798.6,430.5ZM801.6,433L804.2,436.4L808.4,435.3L808,431.6L805.3,429.2L801.9,429.8ZM813.7,431.2L814.2,427.7L811,425.1L806.7,424.9L806.5,428.8L809.8,431.7ZM810.4,422.9L814.2,426.1L818.9,426.1L819.8,421.7L816.1,418.9L812,419.1ZM814.9,411.7L813.8,415.7L817.2,419.6L821.6,418.7L823.5,415.2L819.7,411.3ZM818.9,404.4L815.4,406.4L816.8,410.3L820.4,411.9L823.7,410.7L822.5,407.1ZM820.5,406.6L822.8,404.7L820.8,401.5L817.2,399.6L815.1,401.4L816.4,404.6ZM815.7,400.5L820.2,402.2L819.8,399.4L816.6,396.1L812.4,395.3L812,397.7ZM798.2,437.9L801.8,440.9L805.5,441.9L806.6,440.1L803.6,437.2L799.6,436ZM805,440.8L808.7,443L812.2,441.9L811.1,438.2L806.8,435.6L803.7,437.3ZM817.1,440.3L816.9,437L812.7,433.7L809.8,435.7L809.5,439.1L814.2,441.9ZM822.4,437.3L824.2,433.6L820.4,429.8L815.9,430.5L814.8,434.1L818,437.5ZM827.7,431.5L827.6,427.4L824.8,424.5L820.6,424.5L819.4,428.4L823,431.8ZM824.8,423.8L829.3,424.3L832.4,422.2L829.9,417.8L825.3,417.5L822.4,419.7ZM832.5,412.9L828.5,410.3L825.4,411.7L824.8,415L828.7,417.2L832.4,416.7ZM829.2,405.8L824.7,404.7L822.7,406.9L826,410.6L830.7,412.1L832,409.4ZM821.3,403.1L825,406L828.8,406.9L828.3,404.4L824.9,401.7L821.2,400.9ZM813.7,444.2L809.6,442L807.1,442.6L808.7,445.6L813.3,448.1L815.4,447ZM819.8,448.4L820.2,445.5L817.1,442.5L813.1,442.1L812.5,445.2L816,448ZM827,446.8L825.9,442.7L821.6,439.5L817.2,440.5L817.8,445L822.9,448.1ZM829.7,444.1L832.9,441.7L831.6,437.1L826.5,435.6L822.7,437.3L824.9,441.7ZM835.7,437.7L838,434.6L835.2,430.4L830.1,429.3L827.4,432.2L830.6,436.5ZM832.9,428.5L837.6,430.2L840.7,428.5L839.6,424.4L834.8,422.1L832.4,424.6ZM836.1,422.5L840.5,423L841.5,419.9L839,416.4L834.2,415.5L833.3,418.9ZM833.8,410.6L832.2,412.6L835.3,416.1L839.1,416.4L840.7,414.5L837.6,411.5ZM835.6,412L838.1,411.2L835.8,408.2L831.9,405.8L829.9,407.2L831.5,410.1ZM821.5,453.4L824.1,452.9L823.1,449.9L818.4,447.5L816.3,448.7L817.3,451.5ZM821.9,447.6L820.7,450.7L824.3,454L828.7,454.8L829.9,451.7L826.3,448.6ZM826.5,447.4L827.8,451.5L832.1,453.2L835.6,451.7L834.1,447.8L830.2,446.1ZM834.3,447.3L838.2,449.8L841.1,447.1L839.6,443.4L835.7,440.9L832.8,443.6ZM844.5,436.5L839.9,435.3L837.7,437.9L839,442.1L843.8,442.7L846.1,440.4ZM850.6,432.1L846.9,428L842,428.2L840.2,431.9L843.8,436.1L848.3,435.4ZM852.1,426L848.4,421.8L843.3,420.9L841.6,423.9L844.9,427.9L850.1,429.1ZM845.6,421.9L849.5,422L848.9,418.6L845.7,416.3L842.3,416.4L842.3,419.4ZM841.8,416.4L846.2,417.9L847.1,415.7L844.3,412.2L839.4,410.7L839.1,413.2ZM827.5,457.9L831.7,459.8L833.9,458.7L830.6,455.2L826.2,453.5L824,454.6ZM837,455.4L833,453.8L830.5,455.5L831.3,459.1L835.5,460.2L837.8,458.7ZM842.3,459L844.4,456.3L842.5,452.4L838.1,452.1L836.2,454.7L838,458.3ZM846.3,455.5L850.2,453.7L849.4,449.7L845.8,447.5L842.6,449.1L842.5,452.8ZM845.8,444.1L848.6,448.4L853.2,448.6L855.5,445.7L853.3,441.9L848.4,440ZM859,438.9L857.3,434.7L852.5,433.9L849.1,436.1L852,440.5L856.8,441.7ZM860.3,431.7L858.3,427.6L853.2,426.5L851.7,429.4L853.5,433.3L858.4,434.3ZM851,422.7L852.1,426L856.3,427.6L858.9,426.4L857.6,423L853.4,421.4ZM850.1,417.2L847.9,417.9L850.2,420.9L854.5,423.1L855.8,421.7L853.9,419ZM834.8,459.1L833.1,460.6L836,464.2L840.7,465.8L841.9,464.4L839.7,461.3ZM844.3,466.7L847.9,465.8L846.2,462.3L842.5,460L838.8,460.5L840,464.2ZM847.6,458.1L844.9,460.5L846.8,464.5L851.2,465.2L853.7,462.5L851.5,458.9ZM858.6,455L854.7,452.8L851.2,455.3L851.3,459.8L856,461.8L860,459.4ZM856.4,449.9L857.4,454.2L862.2,455.1L864.5,451.7L863.6,447.3L858.7,446.5ZM866.7,446.5L867.8,443.3L865.2,440L861,440.2L858.9,443.7L862.7,447ZM867.4,439.7L870.7,437.3L867.4,433.4L862.8,432L860.3,435.1L863,439.1ZM866.2,428.2L862,426.9L860.2,428.6L862.2,432L866.5,433.4L869.1,431.8ZM862.4,423.2L857.9,421.9L856.7,424.1L860.5,427.5L864.6,428.6L865.4,426.5ZM845.5,470.6L849.9,472L851.7,470.4L848.7,466.9L844.5,465.7L842.5,467.2ZM852.4,465.6L849.1,466.8L848.5,469.9L852.7,472.7L856.4,472.1L856.8,468.7ZM859.6,464.6L855.1,463.9L854.7,467.6L857.4,471.2L861.6,470.8L863.2,467.6ZM859.8,459.5L859.6,464.5L864.5,467.8L869.5,466.9L868.9,462.1L864.9,459.3ZM868.4,452.9L865.4,455.5L866.4,460.1L871.4,460.8L875.3,458.3L873.5,453.2ZM870.4,445L869.5,449.3L871.6,453L875.8,452.6L878.6,449.3L875.1,445.9ZM869.1,439.8L871.4,444.7L876.5,445.7L880.2,443.9L877.7,439.5L872.6,436.9ZM875,433.2L870.6,432.2L869.5,435L872.5,438.3L876.8,439.2L878.7,436.7ZM867,427.9L867.2,430.3L870.9,433.6L875,434.3L874.8,431.7L870.9,428.4ZM857.9,472.9L853.1,471.5L851.4,473.3L854.9,477L859.4,478.3L860.5,476.4ZM861.5,478.5L866.4,479.5L866.1,475.7L862.3,472.7L857.6,471.7L856.9,475.3ZM872.9,475.3L870.8,471L866,470L863.2,472.3L865.2,476.6L870.3,477.9ZM871.4,473.2L877,473.6L879.6,470.4L876.5,466L871.6,465.3L869.7,468.4ZM884.5,463.8L881.6,459.8L877,458.8L873.8,461.7L876.8,466.4L882.6,467.7ZM883,451.3L879.2,452.7L879.3,456.7L883.2,459.8L887.5,458.1L886.8,453.7ZM886.9,451.5L889.6,448.9L886.6,444.9L881.3,442.8L879.8,446.7L881.9,451ZM887.8,443.2L885.6,439.6L881,438.1L878.4,439.6L880.9,443.6L885.7,444.9ZM877.2,436.4L880.8,439.2L884.2,439.5L884.7,437.1L880.2,434.1L876,433.3Z" fill="#a845bd"/><path d="M700.5,366.3L703,369.6L704,368.1ZM704.1,366.9L706.1,370.3L707.3,368.3ZM707.8,365.9L709.5,369.6L711,367.2ZM711.5,363.3L713.1,367L714.7,364.5ZM714.2,359.1L716.3,363.2L717.9,360.7ZM716.6,354.7L718.5,358.6L720,356.1ZM717.6,350.3L719.4,353.8L720.8,351.6ZM716.9,346.5L719,349.7L720.1,348ZM715.2,343.5L717.5,346.4L718.4,345.1ZM705.8,374.6L708.1,377.7L709.1,376.2ZM710.3,375.1L712.2,378.5L713.4,376.5ZM714.9,373.7L716.9,377.3L718.2,375.2ZM719.9,370.4L721.5,374.1L723.1,371.6ZM723.8,365.1L725.6,369.1L727.2,366.5ZM726.9,359.4L728.4,363.1L730,360.6ZM727.9,353.4L729.7,356.8L731,354.8ZM727,348.4L729.1,351.7L730.2,349.9ZM724.7,344.6L727,347.7L727.9,346.2ZM712.8,379.3L715.3,382.6L716.3,381ZM717.2,379.7L719.6,383.3L720.8,381.4ZM722.4,378.7L724,382.4L725.6,379.9ZM727,375L728.8,379.1L730.5,376.4ZM731.1,369.8L732.9,374.1L734.7,371.2ZM734.4,363.9L736,367.6L737.5,365.2ZM735.4,357.9L737.2,361.6L738.6,359.3ZM734.2,352.8L736.5,356.4L737.8,354.4ZM732,349L734.5,352.1L735.4,350.7ZM720.3,384.3L722.7,387.4L723.6,385.9ZM724.7,384.7L727,388.1L728.1,386.3ZM729.8,383.5L731.5,387.3L733,384.8ZM734.4,379.7L736.4,383.9L738.1,381.2ZM738.7,374.5L740.7,378.5L742.3,376ZM741.6,368.4L743.7,372.3L745.2,369.9ZM742.6,362.3L744.8,366.2L746.3,363.9ZM742.1,357.5L744.1,360.9L745.3,358.9ZM739.7,353.5L742.1,356.6L743,355.1ZM727.5,389.1L730.1,392.5L731.1,390.9ZM732.2,389.7L734.3,393.4L735.6,391.3ZM737.4,388.4L739.2,392.1L740.6,389.8ZM741.9,384.6L744,388.9L745.7,386.2ZM746.3,379.3L748.3,383.6L750,380.9ZM749.6,373.4L751.1,377.4L752.9,374.6ZM750.3,367L752.5,371.1L754,368.6ZM749.8,362.1L751.7,365.7L753.1,363.5ZM747.2,357.9L749.8,361.2L750.7,359.7ZM735.4,394.4L737.6,397.6L738.6,395.9ZM739.6,394.6L742.1,398.2L743.3,396.4ZM744.6,393.2L746.8,397.3L748.3,394.9ZM750.1,389.8L751.8,393.6L753.4,391.2ZM754.2,384.3L756.1,388.4L757.8,385.8ZM757.4,378.2L759,382.2L760.7,379.5ZM758.5,371.9L760.4,375.7L761.8,373.4ZM757.3,366.5L759.8,370.1L761,368.3ZM755,362.5L757.6,365.8L758.6,364.3ZM742.8,399.4L745.2,402.8L746.3,401.1ZM747.2,399.6L749.8,403.5L751,401.5ZM752.8,398.6L754.6,402.4L756.1,400ZM757.7,394.7L759.6,398.8L761.3,396.2ZM762.2,389.4L763.8,393.7L765.7,390.7ZM764.8,382.8L766.9,387.3L768.8,384.4ZM766.4,376.7L768.4,380.5L769.8,378.2ZM765.4,371.4L767.6,375L768.9,373ZM763.1,367.3L765.5,370.5L766.5,369ZM750.6,404.6L753.1,407.8L754.1,406.3ZM755.3,405.1L757.4,408.9L758.8,406.7ZM760.4,403.6L762.4,407.7L764,405.2ZM765.3,399.6L767.6,404.1L769.3,401.4ZM770,394.3L771.8,398.9L773.8,395.8ZM773,387.8L775.1,392.1L776.8,389.4ZM774.4,381.6L776.3,385.6L777.9,383ZM773.7,376.3L775.6,379.9L777,377.8ZM770.7,371.8L773.6,375.3L774.6,373.8ZM758.2,409.7L761,413.1L762,411.6ZM763.1,410.3L765.4,414.2L766.8,411.9ZM768.3,408.7L770.6,412.8L772.1,410.5ZM773.7,405L775.6,409.4L777.4,406.5ZM778.4,399.5L780.2,403.6L781.9,401ZM781.3,392.9L783.3,397.2L785,394.4ZM782.6,386.5L784.6,390.4L786.1,388ZM781.7,381.1L783.9,384.8L785.2,382.7ZM779,376.8L781.7,380.2L782.7,378.6ZM766.5,415.2L769,418.4L769.9,416.9ZM770.9,415.4L773.6,419.4L774.9,417.4ZM776.1,414L778.6,418.4L780.3,415.8ZM781.9,410.3L784,414.4L785.6,411.9ZM786.3,404.5L788.5,408.9L790.2,406.2ZM789.4,397.9L791.7,402.3L793.4,399.6ZM790.8,391.5L792.9,395.5L794.5,393.1ZM789.8,385.9L792.2,389.8L793.6,387.7ZM787.5,381.8L790,385.1L791,383.5ZM774.2,420.4L777.1,424.1L778.1,422.4ZM779.1,420.9L781.7,425L783.1,422.8ZM784.9,419.7L786.9,423.6L788.4,421.2ZM790.1,415.7L792,420.2L794,417.2ZM794.7,409.8L796.8,414.3L798.6,411.5ZM798.1,403.3L799.8,407.9L801.8,404.7ZM799,396.5L801.3,400.9L803,398.2ZM798,390.7L800.8,394.7L802,392.7ZM795.8,386.7L798.4,390.2L799.4,388.5ZM782.3,425.8L785.3,429.7L786.4,427.9ZM787.4,426.4L790,430.5L791.4,428.3ZM793.3,425.2L795.3,429.2L796.8,426.7ZM798.6,421.1L800.7,425.4L802.4,422.7ZM803,415L805.3,419.8L807.2,416.8ZM806.5,408.4L808.6,412.8L810.4,410ZM807.9,401.8L810,405.8L811.5,403.4ZM806.8,396.1L809.1,400.1L810.6,397.8ZM804.1,391.6L807,395.2L808,393.6ZM791.1,431.7L793.7,435L794.7,433.5ZM796.2,432.3L798.3,436.3L799.8,433.9ZM801.7,430.8L803.6,435.1L805.4,432.2ZM807.3,426.7L809.3,430.9L811,428.2ZM811.7,420.6L813.8,425.5L815.8,422.2ZM815,413.7L817.2,418.4L819.1,415.4ZM816.5,407L818.5,411.4L820.3,408.6ZM815.7,401.3L817.9,405.2L819.3,403ZM812.6,396.6L815.6,400.5L816.7,398.7ZM799.4,437.3L802.1,440.9L803.2,439.2ZM804.6,437.9L806.9,442L808.4,439.6ZM809.9,436.1L812.4,440.6L814.1,438ZM815.6,432.1L817.8,436.9L819.8,433.8ZM820.6,426.2L822.7,430.8L824.6,427.8ZM823.9,419.1L826.1,423.6L827.9,420.8ZM825.5,412.4L827.5,416.5L829.1,414ZM824.1,406.4L826.7,410.5L828.1,408.3ZM821.5,401.9L824.5,405.5L825.4,403.9ZM808,443L810.8,446.5L811.8,444.9ZM813.2,443.6L815.6,447.7L817.1,445.3ZM818.4,441.7L821.1,446.5L822.9,443.7ZM824.3,437.7L826.8,442.4L828.6,439.5ZM829.2,431.5L831.7,436.3L833.5,433.4ZM832.8,424.6L835.1,429.1L836.9,426.4ZM834.2,417.7L836.5,422L838.1,419.4ZM833.1,411.7L835.7,415.7L837.1,413.6ZM830.6,407.3L833.2,410.9L834.4,409.1ZM816.6,448.8L819.5,452.6L820.6,450.8ZM822,449.5L824.4,453.5L825.9,451.2ZM827.8,447.9L829.9,452.3L831.7,449.5ZM833.6,443.7L835.6,448.3L837.5,445.3ZM838.3,437.3L840.7,442.1L842.6,439.1ZM841.7,430.1L844.1,435L846,431.9ZM842.8,422.9L845.6,427.6L847.3,424.9ZM842.4,417.3L844.7,421.4L846.2,419ZM839.3,412.4L842.3,416.4L843.5,414.5ZM825.2,454.5L828.4,458.5L829.5,456.8ZM831.1,455.5L833.3,459.6L834.8,457.1ZM836.9,453.8L839,458.2L840.7,455.4ZM842.7,449.6L844.7,454.2L846.7,451.1ZM847.4,443.1L849.6,448.3L851.8,444.9ZM850.8,435.7L853.3,440.7L855.2,437.6ZM852.2,428.6L854.8,433.2L856.5,430.5ZM851.5,422.7L854,426.7L855.4,424.5ZM848.7,418L851.6,421.6L852.6,420ZM834.2,460.6L837.5,464.4L838.5,462.8ZM840,461.4L842.5,465.4L843.9,463.2ZM845.8,459.8L847.9,464.6L849.9,461.4ZM851.9,455.5L853.8,460.5L855.9,457ZM857.1,449.2L858.9,454L861,450.7ZM860.5,441.7L862.6,446.5L864.6,443.4ZM861.6,434.3L863.9,439.2L865.9,436.1ZM860.6,428.1L863.4,432.3L864.8,430.1ZM857.9,423.5L860.8,427.3L862,425.5ZM843.6,466.9L846.5,470.7L847.6,468.9ZM849.1,467.5L851.6,471.8L853.2,469.3ZM855.3,465.9L857.5,470.3L859.2,467.6ZM860.8,461.2L863.2,466.5L865.4,463.1ZM866.1,454.9L868.3,460.2L870.6,456.7ZM870,447.6L871.9,452.6L874.1,449.2ZM870.9,439.9L873.5,445L875.5,441.9ZM870.3,433.9L872.8,438.1L874.3,435.8ZM867.1,428.9L870.3,432.9L871.5,431.1ZM852.8,473L855.8,476.9L856.9,475.1ZM858.1,473.5L861,478.1L862.6,475.5ZM864.1,471.8L866.8,476.8L868.7,473.8ZM870.1,467.2L872.8,472.6L874.9,469.3ZM875.5,460.8L878.1,466L880.2,462.7ZM879.5,453.5L881.6,458.4L883.7,455.1ZM880.5,445.7L883.1,450.9L885.1,447.7ZM879.6,439.5L882.6,443.8L884,441.5ZM876.8,434.7L879.9,438.6L881.1,436.8Z" fill="#d994e3"/><path d="M704.5,367.3L706.3,370L703.2,368ZM708,367.3L709.3,370.1L706.6,368.4ZM711.8,366L712.9,369.1L710.2,367.4ZM715.5,363.2L716.5,366.4L713.9,364.7ZM718.7,359.3L720.1,362.8L717,360.8ZM720.8,354.8L722.1,358.1L719.2,356.3ZM721.5,350.5L722.7,353.5L720,351.8ZM720.7,347.1L722.2,349.8L719.4,348ZM718.8,344.5L720.5,346.9L717.7,345.1ZM709.6,375.4L711.2,378L708.4,376.2ZM714.1,375.5L715.4,378.4L712.7,376.6ZM718.9,374L720.3,377.1L717.4,375.3ZM723.9,370.3L724.9,373.5L722.3,371.9ZM728.1,365.2L729.3,368.6L726.4,366.7ZM730.8,359.3L731.8,362.5L729.2,360.8ZM731.7,353.7L733,356.6L730.3,354.9ZM730.8,349L732.3,351.8L729.5,350ZM728.4,345.4L730.1,348L727.2,346.2ZM716.8,380.2L718.7,383L715.6,381ZM721.4,380.4L723,383.4L720,381.5ZM726.4,378.6L727.5,381.9L724.8,380.2ZM731.4,375L732.6,378.5L729.6,376.6ZM735.7,369.7L736.8,373.4L733.8,371.5ZM738.3,364L739.4,367.1L736.7,365.4ZM739.3,358.1L740.6,361.2L737.8,359.5ZM738.4,353.4L740,356.4L737,354.5ZM735.9,349.9L737.7,352.5L734.7,350.6ZM724.1,385.1L725.8,387.7L722.9,385.9ZM728.7,385.4L730.4,388.2L727.4,386.4ZM733.9,383.5L735,386.8L732.2,385.1ZM738.9,379.8L740.2,383.4L737.1,381.5ZM743.1,374.7L744.4,378.1L741.4,376.2ZM745.9,368.7L747.3,372L744.3,370.1ZM747,362.7L748.6,366.1L745.4,364.1ZM746,357.9L747.4,360.8L744.6,359ZM743.5,354.3L745.2,357L742.3,355.1ZM731.6,390L733.5,392.9L730.3,390.9ZM736.3,390.2L737.8,393.3L734.8,391.4ZM741.3,388.6L742.6,391.7L739.8,390ZM746.6,384.7L748,388.4L744.8,386.4ZM750.9,379.4L752.2,383.1L749.1,381.1ZM753.8,373.2L754.8,376.7L752,374.9ZM754.8,367.3L756.3,370.8L753.1,368.8ZM753.8,362.4L755.1,365.4L752.3,363.7ZM751.2,358.9L753.2,361.7L750,359.7ZM739.1,395.1L740.7,397.7L737.9,396ZM743.9,395.4L745.7,398.4L742.4,396.4ZM749.1,393.6L750.7,397.1L747.4,395ZM754.2,389.9L755.4,393.1L752.6,391.4ZM758.7,384.4L760,387.9L756.9,386ZM761.6,378L762.6,381.5L759.9,379.7ZM762.6,372.1L763.9,375.3L761,373.5ZM761.6,367.3L763.4,370.4L760.1,368.3ZM759,363.6L760.9,366.3L757.8,364.3ZM746.9,400.2L748.6,403L745.5,401.1ZM751.7,400.5L753.6,403.7L750.2,401.5ZM756.9,398.7L758.1,401.9L755.3,400.2ZM762.1,394.8L763.4,398.3L760.4,396.4ZM766.7,389.1L767.7,392.9L764.8,391ZM769.7,382.9L771.1,386.8L767.8,384.6ZM770.6,376.9L771.9,380.2L769,378.3ZM769.6,371.9L771.2,375L768.1,373.1ZM766.9,368.3L768.7,370.9L765.7,369ZM754.6,405.5L756.4,408.2L753.3,406.3ZM759.6,405.5L761.1,408.7L758,406.8ZM764.9,403.8L766.3,407.3L763.1,405.3ZM770.2,399.9L771.8,403.7L768.3,401.6ZM774.8,394.1L776,398.1L772.8,396.1ZM777.7,388L779.1,391.6L775.9,389.6ZM778.8,381.7L780.1,385.2L777.1,383.3ZM777.7,376.6L779,379.7L776.2,377.9ZM775.1,373L777.2,375.9L773.8,373.7ZM762.5,410.8L764.5,413.6L761.2,411.5ZM767.6,410.7L769.1,414.1L765.9,412.1ZM772.8,409.3L774.5,412.7L771.2,410.6ZM778.3,405L779.6,408.8L776.4,406.8ZM782.7,399.6L784,403L781,401.2ZM785.9,393L787.2,396.6L784.1,394.7ZM786.9,386.8L788.4,390.1L785.3,388.2ZM785.9,381.5L787.5,384.7L784.4,382.8ZM783.3,377.8L785.2,380.7L781.9,378.6ZM770.4,416.2L772.3,418.8L769.2,416.9ZM775.6,416.3L777.6,419.6L774,417.4ZM781.1,414.4L782.8,418.2L779.3,415.9ZM786.4,410.5L787.8,414L784.7,412.1ZM791.1,404.8L792.6,408.5L789.3,406.4ZM794.3,398.2L795.8,401.9L792.4,399.8ZM795.3,391.8L796.8,395.2L793.6,393.2ZM794.3,386.5L796,389.8L792.7,387.7ZM791.5,382.7L793.4,385.5L790.2,383.5ZM778.7,421.5L780.8,424.5L777.3,422.3ZM783.8,421.6L785.6,425L782.2,422.9ZM789.3,419.9L790.6,423.3L787.6,421.4ZM795,415.6L796.2,419.5L793,417.5ZM799.6,410L801,413.8L797.7,411.7ZM802.8,403.1L803.9,407L800.8,405ZM803.9,396.7L805.5,400.5L802,398.4ZM802.7,391.7L804.7,395L801.1,392.8ZM800,387.6L801.8,390.5L798.6,388.5ZM787,426.9L789.2,430.2L785.5,427.9ZM792.2,427.1L794,430.6L790.5,428.4ZM797.7,425.4L799,428.8L796,426.9ZM803.3,421.2L804.7,424.9L801.5,422.9ZM808.1,415.3L809.8,419.3L806.2,417.1ZM811.3,408.6L812.7,412.3L809.4,410.3ZM812.4,402L813.8,405.5L810.7,403.5ZM811.4,396.5L813,400L809.7,397.9ZM808.5,392.7L810.6,395.7L807.2,393.5ZM795.2,432.7L797.1,435.4L793.9,433.5ZM800.6,432.6L802,436L798.9,434ZM806.3,430.8L807.5,434.4L804.5,432.5ZM811.9,426.8L813.2,430.4L810.1,428.4ZM816.9,420.5L818.3,424.7L814.8,422.5ZM820.1,413.8L821.6,417.9L818.1,415.6ZM821.2,407.1L822.6,410.8L819.3,408.8ZM820,401.8L821.5,405.1L818.4,403.1ZM817.3,397.8L819.5,401L815.8,398.7ZM803.8,438.2L805.8,441.3L802.4,439.1ZM809.2,438.3L810.8,441.8L807.5,439.7ZM814.9,436.6L816.7,440.4L813.1,438.1ZM820.8,432.2L822.2,436.3L818.7,434.1ZM825.6,426.2L826.9,430.2L823.6,428.1ZM828.8,419.4L830.4,423.2L826.9,421ZM829.9,412.6L831.3,416.1L828.2,414.1ZM828.9,407.1L830.8,410.6L827.2,408.3ZM826,403.1L828.1,406.1L824.6,403.8ZM812.4,444.1L814.5,447.1L811,444.9ZM817.9,444.1L819.5,447.6L816.2,445.5ZM823.8,442.3L825.6,446.3L821.8,443.9ZM829.6,438L831.3,442.1L827.6,439.7ZM834.5,431.9L836.3,436L832.5,433.6ZM837.8,424.9L839.4,428.8L835.9,426.6ZM839,418L840.6,421.7L837.2,419.6ZM837.8,412.5L839.7,415.8L836.2,413.7ZM834.9,408.2L836.8,411.2L833.5,409.2ZM821.2,449.8L823.3,453L819.7,450.8ZM826.7,450L828.3,453.4L825,451.3ZM832.6,448.1L834.1,451.8L830.7,449.7ZM838.6,443.7L839.9,447.6L836.5,445.5ZM843.6,437.6L845.2,441.6L841.5,439.3ZM847,430.3L848.6,434.5L844.9,432.2ZM848.1,423.5L850.1,427.5L846.2,425ZM847,417.7L848.6,421.2L845.3,419.1ZM844.1,413.5L846.3,416.9L842.6,414.5ZM830.1,455.9L832.5,459.1L828.6,456.7ZM835.6,455.9L837.2,459.3L833.9,457.3ZM841.6,454L843,457.7L839.8,455.7ZM847.7,449.5L849,453.5L845.7,451.4ZM853,443L854.4,447.5L850.7,445.2ZM856.2,436L858,440.3L854.1,437.9ZM857.4,429L859.2,433L855.5,430.6ZM856.1,423.3L857.9,426.7L854.5,424.6ZM853.2,419.1L855.3,422.2L851.8,419.9ZM839.1,461.9L841.5,465.1L837.6,462.7ZM844.7,462L846.4,465.4L843,463.3ZM851,459.8L852.4,463.9L848.9,461.7ZM857.1,455.2L858.2,459.5L854.9,457.4ZM862.2,448.9L863.3,453.1L860,451ZM865.6,441.7L867,445.8L863.5,443.6ZM866.9,434.5L868.5,438.6L864.8,436.4ZM865.5,428.9L867.5,432.5L863.9,430.2ZM862.6,424.5L864.7,427.7L861.1,425.5ZM848.2,467.9L850.3,471.1L846.8,468.9ZM854,468L855.8,471.7L852.2,469.4ZM860.1,466.1L861.6,469.9L858.2,467.8ZM866.5,461.3L868.1,465.9L864.2,463.4ZM871.7,454.8L873.2,459.3L869.4,457ZM875.2,447.4L876.4,451.7L873,449.5ZM876.5,440.2L878.3,444.5L874.3,442.1ZM875.1,434.5L876.9,438.1L873.4,435.9ZM872.1,430.1L874.5,433.5L870.5,431.1ZM857.5,474.1L859.7,477.4L856,475.1ZM863.4,474.2L865.4,478.1L861.5,475.6ZM869.7,472.2L871.6,476.5L867.6,474ZM876,467.5L877.8,472.1L873.7,469.5ZM881.3,461L883,465.5L879,463ZM884.8,453.4L886.2,457.7L882.7,455.4ZM886.2,446.1L888,450.5L884,447.9ZM884.7,440.4L886.8,444L883,441.6ZM881.7,435.8L883.9,439.1L880.2,436.7Z" fill="#5a1a70"/><ellipse cx="889.4" cy="469.1" rx="13.8" ry="22.9" transform="rotate(32.2 889.4 469.1)" fill="#3fa8b7"/><ellipse cx="891.7" cy="470.5" rx="13.8" ry="22.9" transform="rotate(32.2 891.7 470.5)" fill="#62c6d0"/><ellipse cx="892.3" cy="470.9" rx="8.4" ry="13.9" transform="rotate(32.2 892.3 470.9)" fill="#2b95a6"/><path d="M893,455L890,458.9M893,455L899,459.6M882,459.6L880.5,467.4M882,459.6L890,458.9M876.2,470.1L880.1,476.7M876.2,470.1L880.5,467.4M890,458.9L894.6,464.4M880.5,467.4L885.6,472.5M880.1,476.7L885.2,481.4M903.3,465.1L901.8,466.1M894.6,464.4L901.8,466.1M894.6,464.4L891.9,470.2M885.6,472.5L891.9,470.2M885.6,472.5L886.5,479.8M885.2,481.4L886.5,479.8" stroke="#6c6c6c" stroke-width="1.60" fill="none" stroke-linecap="round"/><path d="M901.8,466.1L906,471.3M891.9,470.2L896.5,475.2M886.5,479.8L891.4,484.4M906,471.3L903.4,474.6M906,471.3L911.2,475.3M896.5,475.2L895.1,482M896.5,475.2L903.4,474.6M891.4,484.4L894.7,490.1M891.4,484.4L895.1,482M903.4,474.6L907.4,479.4M895.1,482L899.6,486.5M894.7,490.1L899.2,494.2" stroke="#6c6c6c" stroke-width="1.46" fill="none" stroke-linecap="round"/><path d="M914.9,480L913.7,480.9M907.4,479.4L913.7,480.9M907.4,479.4L905,484.5M899.6,486.5L905,484.5M899.6,486.5L900.4,492.8M899.2,494.2L900.4,492.8M913.7,480.9L917.3,485.4M905,484.5L909,488.8M900.4,492.8L904.6,496.8" stroke="#6c6c6c" stroke-width="1.33" fill="none" stroke-linecap="round"/><path d="M917.3,485.4L915,488.3M917.3,485.4L921.8,488.9M909,488.8L907.8,494.7M909,488.8L915,488.3M904.6,496.8L907.5,501.7M904.6,496.8L907.8,494.7M915,488.3L918.5,492.5M907.8,494.7L911.7,498.6M907.5,501.7L911.4,505.3M925.1,493L924,493.7M918.5,492.5L924,493.7M918.5,492.5L916.4,496.9M911.7,498.6L916.4,496.9M911.7,498.6L912.4,504.1M911.4,505.3L912.4,504.1" stroke="#6c6c6c" stroke-width="1.20" fill="none" stroke-linecap="round"/><path d="M881.3,476.1L889.1,477.5M881.3,476.1L880.1,476.7M892.2,471.5L898.6,468.9M892.2,471.5L889.1,477.5M898.1,461L899,459.6M898.1,461L898.6,468.9M889.1,477.5L893.8,482.1M898.6,468.9L902.9,474M899,459.6L903.3,465.1M893.8,482.1L891.2,485.3M893.8,482.1L901.1,481.1M902.9,474L901.1,481.1M902.9,474L906.5,471.5M903.3,465.1L906.5,471.5M885.2,481.4L891.2,485.3" stroke="#4a4a4a" stroke-width="1.88" fill="none" stroke-linecap="round"/><path d="M891.2,485.3L895.8,489.6M901.1,481.1L905.3,485.6M906.5,471.5L910.4,476.4M895.8,489.6L902.6,490.8M895.8,489.6L894.7,490.1M905.3,485.6L910.8,483.4M905.3,485.6L902.6,490.8M910.4,476.4L911.2,475.3M910.4,476.4L910.8,483.4M902.6,490.8L906.7,494.8M910.8,483.4L914.6,487.7M911.2,475.3L914.9,480" stroke="#4a4a4a" stroke-width="1.72" fill="none" stroke-linecap="round"/><path d="M906.7,494.8L904.4,497.6M906.7,494.8L913.1,493.9M914.6,487.7L913.1,493.9M914.6,487.7L917.7,485.6M914.9,480L917.7,485.6M899.2,494.2L904.4,497.6M904.4,497.6L908.4,501.3M913.1,493.9L916.7,497.8M917.7,485.6L921.1,489.9" stroke="#4a4a4a" stroke-width="1.57" fill="none" stroke-linecap="round"/><path d="M908.4,501.3L914.3,502.3M908.4,501.3L907.5,501.7M916.7,497.8L921.5,495.9M916.7,497.8L914.3,502.3M921.1,489.9L921.8,488.9M921.1,489.9L921.5,495.9M914.3,502.3L917.9,505.9M921.5,495.9L924.7,499.7M921.8,488.9L925.1,493M917.9,505.9L915.9,508.2M917.9,505.9L923.4,505.1M924.7,499.7L923.4,505.1M924.7,499.7L927.5,497.8M925.1,493L927.5,497.8M911.4,505.3L915.9,508.2" stroke="#4a4a4a" stroke-width="1.41" fill="none" stroke-linecap="round"/></g><g clip-path="url(#cin)"><path d="M359.3,333L490.4,330L493.4,495.4L359.3,449Z" fill="url(#inb)"/><path d="M347.3,325.4L346.4,328.5L348.8,331.1L344.3,333.1L343.4,335.3L338.3,336.3L335.7,338L329.8,335.7L326.3,334.9L325.2,333L322.4,330.8L324.4,328.1L323.8,324.9L328.6,323.4L331.4,321.3L336.1,322.2L340.3,321L344.2,324.2Z" fill="#b04dc6"/><path d="M335.9,328.9L324.4,328.1L323.8,324.9ZM335.9,328.9L323.8,324.9L328.6,323.4ZM335.9,328.9L328.6,323.4L331.4,321.3ZM335.9,328.9L331.4,321.3L336.1,322.2Z" fill="#e2a5ea"/><path d="M335.9,328.9L347.3,325.4L346.4,328.5ZM335.9,328.9L344.3,333.1L343.4,335.3ZM335.9,328.9L338.3,336.3L335.7,338ZM335.9,328.9L325.2,333L322.4,330.8Z" fill="#8e36a6"/><path d="M335.9,328.9L346.4,328.5L348.8,331.1ZM335.9,328.9L348.8,331.1L344.3,333.1ZM335.9,328.9L343.4,335.3L338.3,336.3ZM335.9,328.9L335.7,338L329.8,335.7Z" fill="#4d1660"/><path d="M335.9,328.9L339.8,333L337.5,333.6ZM335.9,328.9L337.4,336.1L333.5,336ZM335.9,328.9L331.4,324.8L333.8,324.2Z" fill="#1c0624"/><path d="M360.7,343.3L357.6,345.2L356.3,348.4L351.6,348.1L347.4,349.3L343.9,346.8L337.9,345.3L338,342.5L336.3,339.5L338.7,335.5L338.1,332.6L343.6,332L347.9,329.3L351,331.1L355.5,330.1L358,333.5L361.6,335.9L360.5,340.2Z" fill="#b04dc6"/><path d="M349.5,340.2L338,342.5L336.3,339.5ZM349.5,340.2L338.7,335.5L338.1,332.6ZM349.5,340.2L338.1,332.6L343.6,332ZM349.5,340.2L343.6,332L347.9,329.3Z" fill="#e2a5ea"/><path d="M349.5,340.2L356.3,348.4L351.6,348.1ZM349.5,340.2L351.6,348.1L347.4,349.3ZM349.5,340.2L343.9,346.8L337.9,345.3ZM349.5,340.2L355.5,330.1L358,333.5ZM349.5,340.2L360.5,340.2L360.7,343.3Z" fill="#8e36a6"/><path d="M349.5,340.2L360.7,343.3L357.6,345.2ZM349.5,340.2L357.6,345.2L356.3,348.4ZM349.5,340.2L347.4,349.3L343.9,346.8ZM349.5,340.2L361.6,335.9L360.5,340.2Z" fill="#4d1660"/><path d="M349.5,340.2L346.6,348.5L343.4,347.4ZM349.5,340.2L343.6,335.3L345.9,334.1ZM349.5,340.2L352.1,348.2L348.8,348.4Z" fill="#1c0624"/><path d="M332.8,354.5L335.6,352.6L338.4,349.8L342.6,349.3L346.2,348L350.2,350.4L353.9,351.6L356,356.8L357.8,360.3L354.3,363.6L354.2,366.7L349.4,369.7L345.6,371.3L342.2,370.2L337.8,369.9L336.1,365.4L332.1,363.8L333.3,358.8Z" fill="#b04dc6"/><path d="M345.2,360.6L332.8,354.5L335.6,352.6ZM345.2,360.6L335.6,352.6L338.4,349.8ZM345.2,360.6L338.4,349.8L342.6,349.3ZM345.2,360.6L342.6,349.3L346.2,348ZM345.2,360.6L346.2,348L350.2,350.4ZM345.2,360.6L336.1,365.4L332.1,363.8ZM345.2,360.6L332.1,363.8L333.3,358.8ZM345.2,360.6L333.3,358.8L332.8,354.5Z" fill="#e2a5ea"/><path d="M345.2,360.6L357.8,360.3L354.3,363.6ZM345.2,360.6L354.3,363.6L354.2,366.7ZM345.2,360.6L345.6,371.3L342.2,370.2Z" fill="#8e36a6"/><path d="M345.2,360.6L354.2,366.7L349.4,369.7ZM345.2,360.6L349.4,369.7L345.6,371.3ZM345.2,360.6L342.2,370.2L337.8,369.9Z" fill="#4d1660"/><path d="M345.2,360.6L354.4,355.9L355.4,358.9ZM345.2,360.6L352,366.4L349.8,368.2ZM345.2,360.6L340.1,365.8L338.7,364Z" fill="#1c0624"/><path d="M343.6,380.4L348.2,378.4L351.4,374.5L355.5,377.5L360.8,375.8L362.8,380.1L368.4,383.2L367.6,386.8L368.8,391L364.8,393.6L362.4,399.2L356.8,398.2L352.9,399.9L349.9,397.7L343.3,396.3L342.5,392L341.1,388.9L343.2,384.8Z" fill="#b04dc6"/><path d="M353.7,387.4L343.6,380.4L348.2,378.4ZM353.7,387.4L348.2,378.4L351.4,374.5ZM353.7,387.4L355.5,377.5L360.8,375.8ZM353.7,387.4L360.8,375.8L362.8,380.1Z" fill="#e2a5ea"/><path d="M353.7,387.4L368.8,391L364.8,393.6ZM353.7,387.4L362.4,399.2L356.8,398.2ZM353.7,387.4L356.8,398.2L352.9,399.9ZM353.7,387.4L343.3,396.3L342.5,392Z" fill="#8e36a6"/><path d="M353.7,387.4L368.4,383.2L367.6,386.8ZM353.7,387.4L367.6,386.8L368.8,391ZM353.7,387.4L364.8,393.6L362.4,399.2ZM353.7,387.4L352.9,399.9L349.9,397.7Z" fill="#4d1660"/><path d="M353.7,387.4L346.2,391.9L345,389.6ZM353.7,387.4L352,380.3L354.6,380.2ZM353.7,387.4L356.5,396L353.4,396.4Z" fill="#1c0624"/><path d="M350.6,403.2L352,406.5L355.7,408.9L356.9,413.6L358.1,417.3L355.5,421.3L353.7,426L348.1,426.4L343.8,429.6L340.9,427.2L335.6,424.9L334,421.4L330.9,416.9L332.1,413.2L332.1,407.8L336.7,406.6L339.2,402.9L345.4,403.9Z" fill="#b04dc6"/><path d="M345.4,414.7L350.6,403.2L352,406.5ZM345.4,414.7L352,406.5L355.7,408.9ZM345.4,414.7L330.9,416.9L332.1,413.2ZM345.4,414.7L332.1,413.2L332.1,407.8ZM345.4,414.7L336.7,406.6L339.2,402.9ZM345.4,414.7L345.4,403.9L350.6,403.2Z" fill="#e2a5ea"/><path d="M345.4,414.7L356.9,413.6L358.1,417.3ZM345.4,414.7L358.1,417.3L355.5,421.3ZM345.4,414.7L353.7,426L348.1,426.4ZM345.4,414.7L348.1,426.4L343.8,429.6Z" fill="#8e36a6"/><path d="M345.4,414.7L355.5,421.3L353.7,426ZM345.4,414.7L343.8,429.6L340.9,427.2ZM345.4,414.7L340.9,427.2L335.6,424.9Z" fill="#4d1660"/><path d="M345.4,414.7L354.3,412.1L354.7,414.9ZM345.4,414.7L337.7,411.3L339.2,409.2ZM345.4,414.7L354.6,410.5L355.5,413.5Z" fill="#1c0624"/><path d="M344.9,425L349.7,426.7L353.1,424.8L356.7,427.7L361.5,430.1L361.5,434.5L363.2,437.3L360.3,441.4L359.7,444.6L353,445.5L349.6,447.1L345.4,445.4L340.9,444.4L338.4,440.6L334.8,438.7L337.2,434.5L337.6,430.6L341.2,428.7Z" fill="#b04dc6"/><path d="M350.8,437.2L337.6,430.6L341.2,428.7ZM350.8,437.2L341.2,428.7L344.9,425Z" fill="#e2a5ea"/><path d="M350.8,437.2L353,445.5L349.6,447.1ZM350.8,437.2L338.4,440.6L334.8,438.7Z" fill="#8e36a6"/><path d="M350.8,437.2L363.2,437.3L360.3,441.4ZM350.8,437.2L360.3,441.4L359.7,444.6ZM350.8,437.2L359.7,444.6L353,445.5ZM350.8,437.2L345.4,445.4L340.9,444.4Z" fill="#4d1660"/><path d="M350.8,437.2L361.7,438.2L360.7,440.9ZM350.8,437.2L352.1,427.9L355.7,428.7ZM350.8,437.2L353.2,429L356.2,430Z" fill="#1c0624"/><path d="M322.5,442.1L325.4,440.1L326.7,438L331.7,437L335.5,435.3L339.7,437L343.7,437.2L346,440.4L347.9,442.1L345.8,445.1L346.6,448.2L342.6,448.2L339,450.7L335.8,450.5L330.5,451.1L328.4,448.7L324.3,446.8L323.8,444.9Z" fill="#b04dc6"/><path d="M336.5,444.4L325.4,440.1L326.7,438ZM336.5,444.4L326.7,438L331.7,437ZM336.5,444.4L331.7,437L335.5,435.3ZM336.5,444.4L335.5,435.3L339.7,437ZM336.5,444.4L324.3,446.8L323.8,444.9ZM336.5,444.4L323.8,444.9L322.5,442.1Z" fill="#e2a5ea"/><path d="M336.5,444.4L343.7,437.2L346,440.4Z" fill="#8e36a6"/><path d="M336.5,444.4L346,440.4L347.9,442.1ZM336.5,444.4L347.9,442.1L345.8,445.1ZM336.5,444.4L345.8,445.1L346.6,448.2ZM336.5,444.4L346.6,448.2L342.6,448.2ZM336.5,444.4L342.6,448.2L339,450.7ZM336.5,444.4L339,450.7L335.8,450.5ZM336.5,444.4L335.8,450.5L330.5,451.1ZM336.5,444.4L330.5,451.1L328.4,448.7Z" fill="#4d1660"/><path d="M336.5,444.4L330.4,441.8L332.1,440.8ZM336.5,444.4L327.5,445.9L327.1,444.1ZM336.5,444.4L335.5,449.5L332.8,449Z" fill="#1c0624"/><path d="M350.7,331.1L350,328.4L349,326.3L353,323.8L354.3,321.8L359.4,321.6L364.4,319.5L367.8,321.3L372,322.3L373,325L376.6,327.8L374.5,329.5L373.7,333.1L368.5,333.8L365.2,336.4L360.9,335.2L356.1,335.1L354.2,332.5Z" fill="#b04dc6"/><path d="M361.8,327.9L349,326.3L353,323.8ZM361.8,327.9L353,323.8L354.3,321.8ZM361.8,327.9L359.4,321.6L364.4,319.5ZM361.8,327.9L364.4,319.5L367.8,321.3Z" fill="#e2a5ea"/><path d="M361.8,327.9L350.7,331.1L350,328.4ZM361.8,327.9L373,325L376.6,327.8ZM361.8,327.9L376.6,327.8L374.5,329.5ZM361.8,327.9L373.7,333.1L368.5,333.8ZM361.8,327.9L365.2,336.4L360.9,335.2ZM361.8,327.9L360.9,335.2L356.1,335.1ZM361.8,327.9L354.2,332.5L350.7,331.1Z" fill="#8e36a6"/><path d="M361.8,327.9L374.5,329.5L373.7,333.1ZM361.8,327.9L368.5,333.8L365.2,336.4Z" fill="#4d1660"/><path d="M361.8,327.9L372.8,328.7L371.8,330.7ZM361.8,327.9L356.8,323.1L359.5,322.4ZM361.8,327.9L353.7,329.3L353.3,327.7Z" fill="#1c0624"/><path d="M375.9,349.3L372.5,347.8L367.4,347.2L366.2,343.3L363.5,341.4L366.2,337.1L366.2,333.5L369.7,332.5L372.2,329.2L376,329.6L381.3,329.3L384.3,332.4L388.5,333.4L387.9,337.6L389.6,341.1L386.9,342.7L385.7,346L380.2,347.2Z" fill="#b04dc6"/><path d="M378.1,339.6L363.5,341.4L366.2,337.1ZM378.1,339.6L366.2,337.1L366.2,333.5ZM378.1,339.6L366.2,333.5L369.7,332.5ZM378.1,339.6L369.7,332.5L372.2,329.2ZM378.1,339.6L376,329.6L381.3,329.3ZM378.1,339.6L381.3,329.3L384.3,332.4Z" fill="#e2a5ea"/><path d="M378.1,339.6L366.2,343.3L363.5,341.4ZM378.1,339.6L388.5,333.4L387.9,337.6ZM378.1,339.6L389.6,341.1L386.9,342.7ZM378.1,339.6L380.2,347.2L375.9,349.3Z" fill="#8e36a6"/><path d="M378.1,339.6L375.9,349.3L372.5,347.8ZM378.1,339.6L386.9,342.7L385.7,346ZM378.1,339.6L385.7,346L380.2,347.2Z" fill="#4d1660"/><path d="M378.1,339.6L374.6,333.8L377.1,333.2ZM378.1,339.6L376.4,347L373.4,346.2ZM378.1,339.6L372.5,345.4L370.4,343.8Z" fill="#1c0624"/><path d="M371.3,374.3L367,371.5L361.2,370.6L361.8,365.8L357.9,363.7L360.7,358.3L361.1,354.7L365.7,352.2L368.9,348.8L373.9,351L378.2,348.8L382.1,353.7L384,355.5L384.5,360.1L385.4,364.8L381.9,367.5L381.8,371.8L375.8,372.5Z" fill="#b04dc6"/><path d="M372.1,361.5L361.8,365.8L357.9,363.7ZM372.1,361.5L361.1,354.7L365.7,352.2ZM372.1,361.5L365.7,352.2L368.9,348.8ZM372.1,361.5L368.9,348.8L373.9,351Z" fill="#e2a5ea"/><path d="M372.1,361.5L367,371.5L361.2,370.6ZM372.1,361.5L382.1,353.7L384,355.5ZM372.1,361.5L385.4,364.8L381.9,367.5ZM372.1,361.5L381.9,367.5L381.8,371.8Z" fill="#8e36a6"/><path d="M372.1,361.5L371.3,374.3L367,371.5ZM372.1,361.5L384.5,360.1L385.4,364.8ZM372.1,361.5L381.8,371.8L375.8,372.5ZM372.1,361.5L375.8,372.5L371.3,374.3Z" fill="#4d1660"/><path d="M372.1,361.5L384.4,360.2L384.2,363.8ZM372.1,361.5L367.2,354L370,352.9ZM372.1,361.5L366.1,371L363.1,368.8Z" fill="#1c0624"/><path d="M370.6,386.9L374.1,384.5L376.4,381.5L381.7,381.7L385.3,379L388.8,383.2L392.3,383.9L393.2,389.2L395.9,391.9L393.4,396.7L392,402L388.1,402.2L384.6,404.4L380.3,403.5L375.4,402L374.2,398.7L370.7,396L372.2,391.7Z" fill="#b04dc6"/><path d="M382.9,392.9L370.6,386.9L374.1,384.5ZM382.9,392.9L374.1,384.5L376.4,381.5ZM382.9,392.9L376.4,381.5L381.7,381.7ZM382.9,392.9L385.3,379L388.8,383.2ZM382.9,392.9L388.8,383.2L392.3,383.9ZM382.9,392.9L370.7,396L372.2,391.7Z" fill="#e2a5ea"/><path d="M382.9,392.9L392.3,383.9L393.2,389.2ZM382.9,392.9L395.9,391.9L393.4,396.7ZM382.9,392.9L388.1,402.2L384.6,404.4ZM382.9,392.9L384.6,404.4L380.3,403.5Z" fill="#8e36a6"/><path d="M382.9,392.9L393.2,389.2L395.9,391.9ZM382.9,392.9L393.4,396.7L392,402ZM382.9,392.9L392,402L388.1,402.2ZM382.9,392.9L375.4,402L374.2,398.7Z" fill="#4d1660"/><path d="M382.9,392.9L375.4,385.8L378,383.8ZM382.9,392.9L376.1,395.8L375.5,393.5ZM382.9,392.9L386.5,399.7L384.2,400.5Z" fill="#1c0624"/><path d="M373.7,436.3L368.5,433.8L364.1,432.9L361.4,427.9L358.5,425.2L360.1,420.4L360.6,415.5L364.7,413.4L367.8,409.3L372.9,410.5L378.1,410L380.4,413.3L384.9,416.2L384,420.2L387.6,425.1L383,427.5L382.5,431.9L377.8,433.7Z" fill="#b04dc6"/><path d="M371,421.9L360.1,420.4L360.6,415.5ZM371,421.9L360.6,415.5L364.7,413.4ZM371,421.9L364.7,413.4L367.8,409.3Z" fill="#e2a5ea"/><path d="M371,421.9L368.5,433.8L364.1,432.9ZM371,421.9L361.4,427.9L358.5,425.2ZM371,421.9L380.4,413.3L384.9,416.2ZM371,421.9L384.9,416.2L384,420.2ZM371,421.9L384,420.2L387.6,425.1ZM371,421.9L387.6,425.1L383,427.5Z" fill="#8e36a6"/><path d="M371,421.9L373.7,436.3L368.5,433.8ZM371,421.9L383,427.5L382.5,431.9ZM371,421.9L382.5,431.9L377.8,433.7ZM371,421.9L377.8,433.7L373.7,436.3Z" fill="#4d1660"/><path d="M371,421.9L362,428.7L360.1,425.7ZM371,421.9L360.7,420L361.8,417ZM371,421.9L381,424.1L379.8,426.9Z" fill="#1c0624"/><path d="M388.1,438.5L388.1,443.7L389.1,446.1L386.8,450.5L385.7,453.5L380.7,453.9L376,456.7L373.8,453.8L368.7,453.8L366.5,449.7L364.4,446.8L365.8,443.9L364.4,439.3L369.2,437.1L373.2,434L376.7,435.3L381.3,434.8L384.8,437Z" fill="#b04dc6"/><path d="M377.8,443.7L365.8,443.9L364.4,439.3ZM377.8,443.7L369.2,437.1L373.2,434ZM377.8,443.7L376.7,435.3L381.3,434.8Z" fill="#e2a5ea"/><path d="M377.8,443.7L388.1,438.5L388.1,443.7ZM377.8,443.7L388.1,443.7L389.1,446.1ZM377.8,443.7L380.7,453.9L376,456.7ZM377.8,443.7L376,456.7L373.8,453.8ZM377.8,443.7L368.7,453.8L366.5,449.7ZM377.8,443.7L384.8,437L388.1,438.5Z" fill="#8e36a6"/><path d="M377.8,443.7L389.1,446.1L386.8,450.5ZM377.8,443.7L386.8,450.5L385.7,453.5ZM377.8,443.7L385.7,453.5L380.7,453.9Z" fill="#4d1660"/><path d="M377.8,443.7L376.2,436.1L379,436.1ZM377.8,443.7L380.2,450L377.9,450.4ZM377.8,443.7L381.1,451.5L378.2,452Z" fill="#1c0624"/><path d="M356.1,446L361.6,445.7L367.3,445.4L368.8,447.3L374.1,449.1L374.2,451.6L377.5,453.4L372.5,456.3L371.5,458.8L367.3,459.3L363.4,460.8L358.8,459.8L354.5,459.3L352,456.4L348.1,454.2L350.5,451.9L350.7,449.2L354,448.5Z" fill="#b04dc6"/><path d="M362.9,453.4L367.3,445.4L368.8,447.3ZM362.9,453.4L348.1,454.2L350.5,451.9ZM362.9,453.4L350.5,451.9L350.7,449.2ZM362.9,453.4L350.7,449.2L354,448.5ZM362.9,453.4L354,448.5L356.1,446Z" fill="#e2a5ea"/><path d="M362.9,453.4L358.8,459.8L354.5,459.3Z" fill="#8e36a6"/><path d="M362.9,453.4L374.1,449.1L374.2,451.6ZM362.9,453.4L374.2,451.6L377.5,453.4ZM362.9,453.4L377.5,453.4L372.5,456.3ZM362.9,453.4L372.5,456.3L371.5,458.8ZM362.9,453.4L371.5,458.8L367.3,459.3ZM362.9,453.4L367.3,459.3L363.4,460.8Z" fill="#4d1660"/><path d="M362.9,453.4L370,455.4L368.5,456.5ZM362.9,453.4L373.4,455.8L371.5,457.5ZM362.9,453.4L355.6,448.3L358.8,447.2Z" fill="#1c0624"/><path d="M403.1,326.5L399.5,329L399.3,331.7L393.9,332.8L389.9,333.7L385.2,332.9L381,332.3L379.8,329.5L374.6,327.6L377,324.9L377.7,321.9L381.6,320.2L383.5,318.8L388.2,318.6L393.7,318.1L397.1,320.5L400.5,321.4L400.7,324.8Z" fill="#b04dc6"/><path d="M390.7,325.9L374.6,327.6L377,324.9ZM390.7,325.9L377.7,321.9L381.6,320.2ZM390.7,325.9L383.5,318.8L388.2,318.6ZM390.7,325.9L388.2,318.6L393.7,318.1Z" fill="#e2a5ea"/><path d="M390.7,325.9L403.1,326.5L399.5,329ZM390.7,325.9L393.9,332.8L389.9,333.7ZM390.7,325.9L379.8,329.5L374.6,327.6Z" fill="#8e36a6"/><path d="M390.7,325.9L399.5,329L399.3,331.7ZM390.7,325.9L399.3,331.7L393.9,332.8ZM390.7,325.9L400.5,321.4L400.7,324.8ZM390.7,325.9L400.7,324.8L403.1,326.5Z" fill="#4d1660"/><path d="M390.7,325.9L396.6,332.5L392.8,333.2ZM390.7,325.9L400.8,323.2L401.7,325.2ZM390.7,325.9L387.3,332.1L384.2,331.1Z" fill="#1c0624"/><path d="M393.6,332.3L396.6,331.1L399.5,328.3L405.1,329.4L409.8,328.6L412.7,331.7L416.4,333.8L416,337.4L418.2,341.4L414.6,343.1L413,347.1L407.6,347.5L403.6,349.7L398.7,346.9L394.9,346.1L392.8,342.5L390.2,339.5L391.7,336.1Z" fill="#b04dc6"/><path d="M403.8,337L393.6,332.3L396.6,331.1ZM403.8,337L396.6,331.1L399.5,328.3ZM403.8,337L399.5,328.3L405.1,329.4ZM403.8,337L405.1,329.4L409.8,328.6ZM403.8,337L409.8,328.6L412.7,331.7ZM403.8,337L391.7,336.1L393.6,332.3Z" fill="#e2a5ea"/><path d="M403.8,337L412.7,331.7L416.4,333.8Z" fill="#8e36a6"/><path d="M403.8,337L416,337.4L418.2,341.4ZM403.8,337L418.2,341.4L414.6,343.1ZM403.8,337L414.6,343.1L413,347.1ZM403.8,337L413,347.1L407.6,347.5ZM403.8,337L407.6,347.5L403.6,349.7ZM403.8,337L403.6,349.7L398.7,346.9Z" fill="#4d1660"/><path d="M403.8,337L406.4,331.2L408.7,332.1ZM403.8,337L391.2,338.4L391.3,335.4ZM403.8,337L405.2,346.2L401.3,346Z" fill="#1c0624"/><path d="M402.4,377L397.9,374.1L393.6,374.2L391,371.3L388.6,368.9L389.1,363.7L386.7,359.4L392,355.5L393.3,351.6L397.8,352.7L403.6,350.4L406.7,352.5L411.5,355.4L410.9,358.9L414.8,364.3L412.2,366.9L411.1,371.8L407.2,373.7Z" fill="#b04dc6"/><path d="M402.1,362.4L389.1,363.7L386.7,359.4ZM402.1,362.4L392,355.5L393.3,351.6ZM402.1,362.4L393.3,351.6L397.8,352.7ZM402.1,362.4L397.8,352.7L403.6,350.4Z" fill="#e2a5ea"/><path d="M402.1,362.4L402.4,377L397.9,374.1ZM402.1,362.4L391,371.3L388.6,368.9ZM402.1,362.4L410.9,358.9L414.8,364.3ZM402.1,362.4L407.2,373.7L402.4,377Z" fill="#8e36a6"/><path d="M402.1,362.4L397.9,374.1L393.6,374.2ZM402.1,362.4L414.8,364.3L412.2,366.9ZM402.1,362.4L412.2,366.9L411.1,371.8ZM402.1,362.4L411.1,371.8L407.2,373.7Z" fill="#4d1660"/><path d="M402.1,362.4L395.6,367.6L394.3,365.3ZM402.1,362.4L392.5,366.8L391.6,363.5ZM402.1,362.4L411.3,361.6L411.1,364.5Z" fill="#1c0624"/><path d="M398.9,389.4L403.9,385.7L405.9,382.4L410.5,383L416.1,382.8L418.5,387.7L423,390L423.3,394.1L424.3,398.5L420.4,403.3L419.9,407.7L415.3,408.8L409.3,410L406.1,408.5L401,408L400.6,402L396.5,398.3L398.6,394Z" fill="#b04dc6"/><path d="M411.8,396.5L398.9,389.4L403.9,385.7ZM411.8,396.5L403.9,385.7L405.9,382.4ZM411.8,396.5L405.9,382.4L410.5,383ZM411.8,396.5L416.1,382.8L418.5,387.7ZM411.8,396.5L398.6,394L398.9,389.4Z" fill="#e2a5ea"/><path d="M411.8,396.5L418.5,387.7L423,390ZM411.8,396.5L424.3,398.5L420.4,403.3ZM411.8,396.5L415.3,408.8L409.3,410ZM411.8,396.5L409.3,410L406.1,408.5ZM411.8,396.5L401,408L400.6,402Z" fill="#8e36a6"/><path d="M411.8,396.5L423.3,394.1L424.3,398.5ZM411.8,396.5L420.4,403.3L419.9,407.7ZM411.8,396.5L419.9,407.7L415.3,408.8Z" fill="#4d1660"/><path d="M411.8,396.5L419.1,399.6L417.8,401.8ZM411.8,396.5L417.8,406.4L414.5,407.8ZM411.8,396.5L419.7,405.9L416.4,408Z" fill="#1c0624"/><path d="M413.3,430.8L410.3,433.9L408.5,438.2L404.3,439.5L401.3,442.2L397.9,439.2L393.6,438.9L391.2,435.7L388.2,432.2L390,428.2L389.6,423.7L392.8,422.5L395.4,417.5L400.3,419.6L403.9,417.9L407.2,420.1L410.8,422L412.3,427.3Z" fill="#b04dc6"/><path d="M399.4,429.3L389.6,423.7L392.8,422.5ZM399.4,429.3L392.8,422.5L395.4,417.5ZM399.4,429.3L395.4,417.5L400.3,419.6Z" fill="#e2a5ea"/><path d="M399.4,429.3L413.3,430.8L410.3,433.9ZM399.4,429.3L404.3,439.5L401.3,442.2ZM399.4,429.3L397.9,439.2L393.6,438.9ZM399.4,429.3L393.6,438.9L391.2,435.7ZM399.4,429.3L410.8,422L412.3,427.3ZM399.4,429.3L412.3,427.3L413.3,430.8Z" fill="#8e36a6"/><path d="M399.4,429.3L410.3,433.9L408.5,438.2ZM399.4,429.3L408.5,438.2L404.3,439.5ZM399.4,429.3L401.3,442.2L397.9,439.2Z" fill="#4d1660"/><path d="M399.4,429.3L407.2,425.5L408.1,428ZM399.4,429.3L393.8,439L390.9,436.8ZM399.4,429.3L393.5,425.2L395.2,423.6Z" fill="#1c0624"/><path d="M417.5,457.5L412.8,460.5L410.2,463.8L406.5,463.6L402,465.2L399,462L394.2,461.2L394,457.1L390.9,454L393.5,450.5L394.7,445.5L399.6,445.3L402.2,443.3L406.9,444.4L410.5,444.5L412.8,447.4L417.9,449.6L415.6,454.2Z" fill="#b04dc6"/><path d="M403.9,452.7L393.5,450.5L394.7,445.5ZM403.9,452.7L394.7,445.5L399.6,445.3ZM403.9,452.7L399.6,445.3L402.2,443.3ZM403.9,452.7L402.2,443.3L406.9,444.4Z" fill="#e2a5ea"/><path d="M403.9,452.7L417.5,457.5L412.8,460.5ZM403.9,452.7L410.2,463.8L406.5,463.6ZM403.9,452.7L406.5,463.6L402,465.2ZM403.9,452.7L412.8,447.4L417.9,449.6Z" fill="#8e36a6"/><path d="M403.9,452.7L412.8,460.5L410.2,463.8ZM403.9,452.7L399,462L394.2,461.2ZM403.9,452.7L417.9,449.6L415.6,454.2ZM403.9,452.7L415.6,454.2L417.5,457.5Z" fill="#4d1660"/><path d="M403.9,452.7L398.7,448.2L400.7,447.1ZM403.9,452.7L398.6,459.2L396.4,457.5ZM403.9,452.7L396.8,449.6L398.3,447.9Z" fill="#1c0624"/><path d="M387.6,455.1L391.1,456.1L397,456L399.2,458L402.2,459.7L401.1,462.5L402.1,464.7L398.5,467.1L396.1,470.1L391.7,469.3L385.9,469.8L382.6,468.3L377.1,467.2L377.8,465L375.3,462.9L378.6,460.4L378.8,457.6L383.6,456.8Z" fill="#b04dc6"/><path d="M388.2,462.3L387.6,455.1L391.1,456.1ZM388.2,462.3L378.8,457.6L383.6,456.8Z" fill="#e2a5ea"/><path d="M388.2,462.3L399.2,458L402.2,459.7ZM388.2,462.3L391.7,469.3L385.9,469.8ZM388.2,462.3L385.9,469.8L382.6,468.3ZM388.2,462.3L377.1,467.2L377.8,465Z" fill="#8e36a6"/><path d="M388.2,462.3L402.2,459.7L401.1,462.5ZM388.2,462.3L401.1,462.5L402.1,464.7ZM388.2,462.3L402.1,464.7L398.5,467.1ZM388.2,462.3L398.5,467.1L396.1,470.1ZM388.2,462.3L396.1,470.1L391.7,469.3Z" fill="#4d1660"/><path d="M388.2,462.3L391.9,467.9L388.5,468.3ZM388.2,462.3L392.8,466.9L390,467.5ZM388.2,462.3L395.8,461.1L396.1,462.5Z" fill="#1c0624"/><path d="M403.2,320.5L407.3,318.9L409.9,315.4L414.5,316.2L420.2,315.1L422.7,317.5L426.6,318.5L427.5,321.2L429.1,324.8L425.6,326.9L426.3,329.3L421.4,330.2L416.5,332L414,330.8L408.6,330.5L407.3,328.6L403.7,326.2L404.3,323.3Z" fill="#b04dc6"/><path d="M416.2,324L403.2,320.5L407.3,318.9ZM416.2,324L407.3,318.9L409.9,315.4ZM416.2,324L409.9,315.4L414.5,316.2ZM416.2,324L422.7,317.5L426.6,318.5Z" fill="#e2a5ea"/><path d="M416.2,324L426.6,318.5L427.5,321.2ZM416.2,324L429.1,324.8L425.6,326.9ZM416.2,324L425.6,326.9L426.3,329.3ZM416.2,324L426.3,329.3L421.4,330.2ZM416.2,324L421.4,330.2L416.5,332ZM416.2,324L414,330.8L408.6,330.5Z" fill="#8e36a6"/><path d="M416.2,324L416.5,332L414,330.8Z" fill="#4d1660"/><path d="M416.2,324L413.8,330.2L410.9,329.4ZM416.2,324L417.6,318.5L420.2,319.1ZM416.2,324L421.6,320L423.3,321.3Z" fill="#1c0624"/><path d="M443.8,340.6L439.5,343.3L438.2,346.9L433,345.8L427.5,347.9L426,345L420.1,343.9L419.9,340.3L417.3,337.4L420.7,334.3L421.3,329.8L426.6,329.3L429.6,326.9L434.5,328.4L439.1,329.5L441,331.8L443.9,334.1L443.5,337.2Z" fill="#b04dc6"/><path d="M433,338.6L420.1,343.9L419.9,340.3ZM433,338.6L417.3,337.4L420.7,334.3ZM433,338.6L429.6,326.9L434.5,328.4ZM433,338.6L434.5,328.4L439.1,329.5Z" fill="#e2a5ea"/><path d="M433,338.6L439.5,343.3L438.2,346.9ZM433,338.6L433,345.8L427.5,347.9ZM433,338.6L427.5,347.9L426,345ZM433,338.6L439.1,329.5L441,331.8ZM433,338.6L441,331.8L443.9,334.1ZM433,338.6L443.5,337.2L443.8,340.6Z" fill="#8e36a6"/><path d="M433,338.6L443.8,340.6L439.5,343.3ZM433,338.6L438.2,346.9L433,345.8ZM433,338.6L443.9,334.1L443.5,337.2Z" fill="#4d1660"/><path d="M433,338.6L423.7,337.7L424.5,335.6ZM433,338.6L426.5,345.6L423.8,343.7ZM433,338.6L439.4,333.9L441,335.6Z" fill="#1c0624"/><path d="M430.3,352.3L433.3,354.9L437.6,356.7L437.7,360.1L441,365L438.6,368L438.5,372L434.2,374.1L431,377.6L427.4,376.5L422.6,376.8L420.8,373.2L415.7,369.7L417,366.7L414,361.4L417.7,358.6L420.4,354.4L425.7,354.1Z" fill="#b04dc6"/><path d="M426.6,365.3L430.3,352.3L433.3,354.9ZM426.6,365.3L417.7,358.6L420.4,354.4ZM426.6,365.3L420.4,354.4L425.7,354.1ZM426.6,365.3L425.7,354.1L430.3,352.3Z" fill="#e2a5ea"/><path d="M426.6,365.3L437.6,356.7L437.7,360.1ZM426.6,365.3L434.2,374.1L431,377.6ZM426.6,365.3L431,377.6L427.4,376.5ZM426.6,365.3L420.8,373.2L415.7,369.7Z" fill="#8e36a6"/><path d="M426.6,365.3L438.5,372L434.2,374.1ZM426.6,365.3L427.4,376.5L422.6,376.8ZM426.6,365.3L422.6,376.8L420.8,373.2Z" fill="#4d1660"/><path d="M426.6,365.3L426.6,357L429.2,357.4ZM426.6,365.3L424.2,358.3L426.5,357.9ZM426.6,365.3L425.4,376.3L421.9,375.3Z" fill="#1c0624"/><path d="M425.9,409L425.6,403.9L423.1,400.7L426.7,395.8L427,390.7L432.1,390L436.3,386.8L441.2,388.5L446.8,389.5L448.4,393.8L452.9,396L450.1,401.1L452.2,406.3L448.1,409L444.9,413.9L440.3,412.2L435.9,414.5L432.2,410.3Z" fill="#b04dc6"/><path d="M438.4,400.4L423.1,400.7L426.7,395.8ZM438.4,400.4L427,390.7L432.1,390ZM438.4,400.4L436.3,386.8L441.2,388.5ZM438.4,400.4L446.8,389.5L448.4,393.8Z" fill="#e2a5ea"/><path d="M438.4,400.4L448.4,393.8L452.9,396ZM438.4,400.4L448.1,409L444.9,413.9ZM438.4,400.4L435.9,414.5L432.2,410.3Z" fill="#8e36a6"/><path d="M438.4,400.4L450.1,401.1L452.2,406.3ZM438.4,400.4L452.2,406.3L448.1,409ZM438.4,400.4L444.9,413.9L440.3,412.2ZM438.4,400.4L440.3,412.2L435.9,414.5Z" fill="#4d1660"/><path d="M438.4,400.4L435.5,392.1L438.3,391.6ZM438.4,400.4L436.9,387.7L441,387.8ZM438.4,400.4L427.4,398.9L428.5,395.5Z" fill="#1c0624"/><path d="M431.1,450L426,447.8L421.9,448.3L419.7,445.1L415.6,441.2L416.5,436.7L415.5,432.9L418.7,429.3L421,425.9L425.5,425.2L429.7,422.9L433.6,426.9L438.4,426.4L438.5,432.2L442.4,435.9L439.7,439.5L440.1,444L434.2,445.5Z" fill="#b04dc6"/><path d="M429.1,436.8L415.6,441.2L416.5,436.7ZM429.1,436.8L415.5,432.9L418.7,429.3ZM429.1,436.8L418.7,429.3L421,425.9ZM429.1,436.8L425.5,425.2L429.7,422.9Z" fill="#e2a5ea"/><path d="M429.1,436.8L431.1,450L426,447.8ZM429.1,436.8L439.7,439.5L440.1,444Z" fill="#8e36a6"/><path d="M429.1,436.8L438.5,432.2L442.4,435.9ZM429.1,436.8L442.4,435.9L439.7,439.5ZM429.1,436.8L440.1,444L434.2,445.5ZM429.1,436.8L434.2,445.5L431.1,450Z" fill="#4d1660"/><path d="M429.1,436.8L438.7,435.2L438.7,438.2ZM429.1,436.8L419,441.6L418,438.2ZM429.1,436.8L439.8,439.6L438.3,442.8Z" fill="#1c0624"/><path d="M434.7,451.2L437.6,454.5L443.5,455.4L442.6,460.7L445.1,463.1L442,467.4L439.8,470.8L435.2,471.5L432.1,474.6L427.9,471.5L423,471.4L422.3,468.4L417.9,465.4L419.5,461.5L419.9,457L422.6,455.3L426.3,452.2L430,451.8Z" fill="#b04dc6"/><path d="M431.9,462L437.6,454.5L443.5,455.4ZM431.9,462L419.5,461.5L419.9,457ZM431.9,462L419.9,457L422.6,455.3ZM431.9,462L422.6,455.3L426.3,452.2ZM431.9,462L426.3,452.2L430,451.8Z" fill="#e2a5ea"/><path d="M431.9,462L442.6,460.7L445.1,463.1ZM431.9,462L432.1,474.6L427.9,471.5ZM431.9,462L427.9,471.5L423,471.4Z" fill="#8e36a6"/><path d="M431.9,462L445.1,463.1L442,467.4ZM431.9,462L442,467.4L439.8,470.8ZM431.9,462L439.8,470.8L435.2,471.5ZM431.9,462L435.2,471.5L432.1,474.6Z" fill="#4d1660"/><path d="M431.9,462L426.6,468.1L424.6,466.4ZM431.9,462L426.3,456L428.8,454.8ZM431.9,462L424.2,455.5L427,453.8Z" fill="#1c0624"/><path d="M405.2,477.4L405.7,474.4L402.8,472.1L404.2,469.3L404.9,466.4L410.5,465.6L413.5,463.8L418.6,464.8L422.4,464.4L425.8,467.1L429,468.9L428.4,471.3L428.9,474.2L425.5,476.7L422.5,479.4L417.5,479.8L414.8,480.8L410.4,478.3Z" fill="#b04dc6"/><path d="M415.9,471.5L402.8,472.1L404.2,469.3ZM415.9,471.5L404.2,469.3L404.9,466.4ZM415.9,471.5L404.9,466.4L410.5,465.6ZM415.9,471.5L410.5,465.6L413.5,463.8ZM415.9,471.5L413.5,463.8L418.6,464.8ZM415.9,471.5L418.6,464.8L422.4,464.4Z" fill="#e2a5ea"/><path d="M415.9,471.5L410.4,478.3L405.2,477.4Z" fill="#8e36a6"/><path d="M415.9,471.5L429,468.9L428.4,471.3ZM415.9,471.5L428.4,471.3L428.9,474.2ZM415.9,471.5L428.9,474.2L425.5,476.7ZM415.9,471.5L425.5,476.7L422.5,479.4ZM415.9,471.5L422.5,479.4L417.5,479.8ZM415.9,471.5L414.8,480.8L410.4,478.3Z" fill="#4d1660"/><path d="M415.9,471.5L406.5,471.3L407.1,469.5ZM415.9,471.5L422.2,474.6L420.4,475.7ZM415.9,471.5L405.5,470.3L406.6,468.3Z" fill="#1c0624"/><path d="M441.6,330.4L438.1,327.9L434.1,327.6L431.1,325L429.6,322.3L430.7,320.4L431.4,317.4L435.7,315.9L438.4,314L443,314.7L446.9,313.5L450.6,315.8L454.5,317.3L454,320.1L456.6,323.2L453.5,325.5L452.6,328.2L447.5,328.8Z" fill="#b04dc6"/><path d="M442.8,321.4L431.4,317.4L435.7,315.9ZM442.8,321.4L435.7,315.9L438.4,314ZM442.8,321.4L438.4,314L443,314.7Z" fill="#e2a5ea"/><path d="M442.8,321.4L441.6,330.4L438.1,327.9ZM442.8,321.4L450.6,315.8L454.5,317.3ZM442.8,321.4L452.6,328.2L447.5,328.8Z" fill="#8e36a6"/><path d="M442.8,321.4L454.5,317.3L454,320.1ZM442.8,321.4L454,320.1L456.6,323.2ZM442.8,321.4L453.5,325.5L452.6,328.2ZM442.8,321.4L447.5,328.8L441.6,330.4Z" fill="#4d1660"/><path d="M442.8,321.4L437.7,317.6L440,316.8ZM442.8,321.4L434.5,321.8L434.7,320.2ZM442.8,321.4L448.4,325.9L445.8,326.8Z" fill="#1c0624"/><path d="M469.8,329.9L470.3,333.1L472,336.3L469.3,340.1L469.4,343.5L464.7,344.8L461.4,347.6L457.6,346.8L452.8,346.9L449.8,342.9L446.8,340.9L447.2,337L446.2,333.2L449.8,330.3L450.8,327.7L457.4,327.8L461.2,324.9L464.2,328Z" fill="#b04dc6"/><path d="M458.2,336.2L446.8,340.9L447.2,337ZM458.2,336.2L446.2,333.2L449.8,330.3ZM458.2,336.2L449.8,330.3L450.8,327.7ZM458.2,336.2L457.4,327.8L461.2,324.9ZM458.2,336.2L464.2,328L469.8,329.9Z" fill="#e2a5ea"/><path d="M458.2,336.2L470.3,333.1L472,336.3ZM458.2,336.2L464.7,344.8L461.4,347.6ZM458.2,336.2L452.8,346.9L449.8,342.9ZM458.2,336.2L449.8,342.9L446.8,340.9Z" fill="#8e36a6"/><path d="M458.2,336.2L472,336.3L469.3,340.1ZM458.2,336.2L469.3,340.1L469.4,343.5ZM458.2,336.2L469.4,343.5L464.7,344.8ZM458.2,336.2L461.4,347.6L457.6,346.8ZM458.2,336.2L457.6,346.8L452.8,346.9Z" fill="#4d1660"/><path d="M458.2,336.2L455,329.2L457.8,328.7ZM458.2,336.2L463.3,344.6L459.8,345.5ZM458.2,336.2L451.9,329.2L454.9,327.9Z" fill="#1c0624"/><path d="M467.7,371.2L463.9,374.7L463.7,378.4L457.5,378.5L454.9,380.9L450.5,377.6L444.9,375.8L445.3,372.3L442.3,367.7L445,363.7L445.8,359.2L449.1,357L452,354.6L457.5,355.2L461.1,355.5L462.9,358.7L467.7,362.5L466,367.1Z" fill="#b04dc6"/><path d="M455.2,367L442.3,367.7L445,363.7ZM455.2,367L445,363.7L445.8,359.2ZM455.2,367L445.8,359.2L449.1,357ZM455.2,367L449.1,357L452,354.6ZM455.2,367L452,354.6L457.5,355.2Z" fill="#e2a5ea"/><path d="M455.2,367L467.7,371.2L463.9,374.7ZM455.2,367L463.7,378.4L457.5,378.5ZM455.2,367L450.5,377.6L444.9,375.8ZM455.2,367L462.9,358.7L467.7,362.5ZM455.2,367L467.7,362.5L466,367.1Z" fill="#8e36a6"/><path d="M455.2,367L463.9,374.7L463.7,378.4ZM455.2,367L457.5,378.5L454.9,380.9ZM455.2,367L454.9,380.9L450.5,377.6ZM455.2,367L466,367.1L467.7,371.2Z" fill="#4d1660"/><path d="M455.2,367L450,373.1L448.4,371ZM455.2,367L448.5,374.4L446.7,371.8ZM455.2,367L446.8,364.6L447.9,361.9Z" fill="#1c0624"/><path d="M457.2,416.1L455.6,410.5L452.8,407.3L453.8,403.5L454.4,398.1L457.2,395.8L460.6,391.2L465.7,392.3L471,390.4L474.1,395.9L477.5,397.8L477.2,403.2L480.5,406.9L477.2,410.4L475.2,416.1L470.4,416L465.3,420L461.9,416Z" fill="#b04dc6"/><path d="M467,404L452.8,407.3L453.8,403.5ZM467,404L454.4,398.1L457.2,395.8ZM467,404L457.2,395.8L460.6,391.2ZM467,404L460.6,391.2L465.7,392.3ZM467,404L465.7,392.3L471,390.4Z" fill="#e2a5ea"/><path d="M467,404L457.2,416.1L455.6,410.5ZM467,404L477.2,403.2L480.5,406.9ZM467,404L477.2,410.4L475.2,416.1ZM467,404L475.2,416.1L470.4,416Z" fill="#8e36a6"/><path d="M467,404L480.5,406.9L477.2,410.4ZM467,404L470.4,416L465.3,420ZM467,404L465.3,420L461.9,416ZM467,404L461.9,416L457.2,416.1Z" fill="#4d1660"/><path d="M467,404L473.1,397.3L474.8,399.6ZM467,404L460.8,397.5L463.1,395.7ZM467,404L457.3,406.4L457,403.1Z" fill="#1c0624"/><path d="M453.1,456.2L450.1,453.3L444.7,450.8L444.4,446.9L441.9,443.1L444.7,438.6L445.7,435.9L450.6,433.6L453.8,431.2L457.3,432.7L462.9,431.8L464.3,436.1L467.4,438.7L466.2,443.9L467.9,448.3L465.2,449.8L462.9,453.7L458.4,454.4Z" fill="#b04dc6"/><path d="M454.9,444.3L441.9,443.1L444.7,438.6ZM454.9,444.3L444.7,438.6L445.7,435.9ZM454.9,444.3L445.7,435.9L450.6,433.6ZM454.9,444.3L450.6,433.6L453.8,431.2ZM454.9,444.3L453.8,431.2L457.3,432.7Z" fill="#e2a5ea"/><path d="M454.9,444.3L444.7,450.8L444.4,446.9ZM454.9,444.3L444.4,446.9L441.9,443.1ZM454.9,444.3L462.9,431.8L464.3,436.1ZM454.9,444.3L466.2,443.9L467.9,448.3ZM454.9,444.3L458.4,454.4L453.1,456.2Z" fill="#8e36a6"/><path d="M454.9,444.3L453.1,456.2L450.1,453.3ZM454.9,444.3L467.4,438.7L466.2,443.9ZM454.9,444.3L467.9,448.3L465.2,449.8ZM454.9,444.3L465.2,449.8L462.9,453.7ZM454.9,444.3L462.9,453.7L458.4,454.4Z" fill="#4d1660"/><path d="M454.9,444.3L450.2,436.4L453.1,435.4ZM454.9,444.3L450.3,452.2L447.9,450.4ZM454.9,444.3L459.2,433.9L462.4,435.7Z" fill="#1c0624"/><path d="M454.6,481.2L450.1,478.1L445.7,476.2L446.1,472.5L444.8,470.4L447.9,466.7L449.4,463.1L455.2,463.1L458.2,460.1L461.3,462.9L468.4,462.8L467.7,466.1L472.7,469.4L470.6,472.3L471.2,476.5L466.8,476.8L463.6,481.4L458.4,479.8Z" fill="#b04dc6"/><path d="M458.1,470.7L444.8,470.4L447.9,466.7ZM458.1,470.7L447.9,466.7L449.4,463.1ZM458.1,470.7L449.4,463.1L455.2,463.1ZM458.1,470.7L455.2,463.1L458.2,460.1ZM458.1,470.7L461.3,462.9L468.4,462.8Z" fill="#e2a5ea"/><path d="M458.1,470.7L468.4,462.8L467.7,466.1ZM458.1,470.7L467.7,466.1L472.7,469.4ZM458.1,470.7L471.2,476.5L466.8,476.8ZM458.1,470.7L458.4,479.8L454.6,481.2Z" fill="#8e36a6"/><path d="M458.1,470.7L454.6,481.2L450.1,478.1ZM458.1,470.7L472.7,469.4L470.6,472.3ZM458.1,470.7L470.6,472.3L471.2,476.5ZM458.1,470.7L466.8,476.8L463.6,481.4ZM458.1,470.7L463.6,481.4L458.4,479.8Z" fill="#4d1660"/><path d="M458.1,470.7L448.2,469L449.4,466.8ZM458.1,470.7L446.4,469.1L447.7,466.4ZM458.1,470.7L449.6,472.3L449.4,470.3Z" fill="#1c0624"/><path d="M441,473.1L444.9,475L449.8,474.9L451.2,476.8L455.3,479.4L454.8,481.3L454.5,484.7L452,485.7L448.4,488.2L443.8,488L440.5,489.2L436.4,486.9L432.6,485.6L432,483.4L428.6,481.7L432.2,479.2L432.6,475.3L438,475.2Z" fill="#b04dc6"/><path d="M444,480.6L441,473.1L444.9,475ZM444,480.6L444.9,475L449.8,474.9ZM444,480.6L432.6,485.6L432,483.4ZM444,480.6L432.2,479.2L432.6,475.3Z" fill="#e2a5ea"/><path d="M444,480.6L449.8,474.9L451.2,476.8ZM444,480.6L451.2,476.8L455.3,479.4ZM444,480.6L455.3,479.4L454.8,481.3ZM444,480.6L454.8,481.3L454.5,484.7ZM444,480.6L454.5,484.7L452,485.7ZM444,480.6L452,485.7L448.4,488.2ZM444,480.6L436.4,486.9L432.6,485.6Z" fill="#8e36a6"/><path d="M444,480.6L448.4,488.2L443.8,488ZM444,480.6L443.8,488L440.5,489.2ZM444,480.6L440.5,489.2L436.4,486.9Z" fill="#4d1660"/><path d="M444,480.6L449.9,477.4L451.3,478.7ZM444,480.6L445.4,486.4L442.3,486.4ZM444,480.6L442.8,487L439.5,486.5Z" fill="#1c0624"/><path d="M479.2,323.4L475.9,325.4L471.6,328.1L468.4,327L463,327.7L459.1,325.6L455.6,324.2L455.9,320.6L453,318.6L458.4,315.8L459.2,312.9L462.8,313.2L466.7,310.7L470.8,312.9L476.2,312.4L478,315.7L480.5,318.1L479.1,320.3Z" fill="#b04dc6"/><path d="M466.1,319.2L455.6,324.2L455.9,320.6ZM466.1,319.2L453,318.6L458.4,315.8ZM466.1,319.2L458.4,315.8L459.2,312.9ZM466.1,319.2L459.2,312.9L462.8,313.2ZM466.1,319.2L466.7,310.7L470.8,312.9Z" fill="#e2a5ea"/><path d="M466.1,319.2L468.4,327L463,327.7ZM466.1,319.2L463,327.7L459.1,325.6ZM466.1,319.2L459.1,325.6L455.6,324.2Z" fill="#8e36a6"/><path d="M466.1,319.2L479.2,323.4L475.9,325.4ZM466.1,319.2L475.9,325.4L471.6,328.1ZM466.1,319.2L471.6,328.1L468.4,327ZM466.1,319.2L479.1,320.3L479.2,323.4Z" fill="#4d1660"/><path d="M466.1,319.2L454.7,316.1L456.8,314ZM466.1,319.2L461.4,323.6L459.4,322.4ZM466.1,319.2L467.7,313.7L470.3,314.3Z" fill="#1c0624"/><path d="M496.3,332.5L495.8,336.4L497,339.8L492.6,342.3L490.6,344.3L485.9,344.5L481.2,346.3L478.3,343.2L473.3,342.5L471.9,338.9L470.2,336.2L472.1,333.3L472.6,329.3L478.9,328.3L482.7,325.7L486.2,327.2L492,327.5L493.1,330.5Z" fill="#b04dc6"/><path d="M485.2,336L471.9,338.9L470.2,336.2ZM485.2,336L470.2,336.2L472.1,333.3ZM485.2,336L472.1,333.3L472.6,329.3ZM485.2,336L478.9,328.3L482.7,325.7ZM485.2,336L492,327.5L493.1,330.5Z" fill="#e2a5ea"/><path d="M485.2,336L496.3,332.5L495.8,336.4ZM485.2,336L492.6,342.3L490.6,344.3ZM485.2,336L490.6,344.3L485.9,344.5Z" fill="#8e36a6"/><path d="M485.2,336L495.8,336.4L497,339.8ZM485.2,336L497,339.8L492.6,342.3ZM485.2,336L493.1,330.5L496.3,332.5Z" fill="#4d1660"/><path d="M485.2,336L476.7,338.8L475.9,336.7ZM485.2,336L482.7,328.3L486.1,328.1ZM485.2,336L491.2,328.1L494.3,329.9Z" fill="#1c0624"/><path d="M472.9,357.8L479.9,358.5L483,356.2L488.1,359.2L491.6,361.4L492,365.6L495.8,369.3L493,372.8L492.5,376.9L487,377.7L483.8,380.2L480.1,378.4L473.9,378.3L471.4,375.3L467.8,372.3L469.5,368.8L467.5,364.9L471.6,361.2Z" fill="#b04dc6"/><path d="M480.6,369.8L472.9,357.8L479.9,358.5ZM480.6,369.8L483,356.2L488.1,359.2ZM480.6,369.8L467.8,372.3L469.5,368.8ZM480.6,369.8L471.6,361.2L472.9,357.8Z" fill="#e2a5ea"/><path d="M480.6,369.8L495.8,369.3L493,372.8ZM480.6,369.8L493,372.8L492.5,376.9ZM480.6,369.8L492.5,376.9L487,377.7ZM480.6,369.8L487,377.7L483.8,380.2ZM480.6,369.8L483.8,380.2L480.1,378.4Z" fill="#4d1660"/><path d="M480.6,369.8L487.6,364.4L489.2,366.5ZM480.6,369.8L478.7,363.1L481.3,362.9ZM480.6,369.8L491,369.6L490.5,372.4Z" fill="#1c0624"/><path d="M479.8,416.2L478.7,411.5L477.4,407.7L480.6,402.6L482.2,398.1L488,396.8L491.1,394.9L497,397.9L501,397.3L501.8,402.5L505.9,406.6L504.7,411.5L505.5,415.8L500.2,418.6L497.2,422L492.9,421.1L485.8,422.7L485.1,418.3Z" fill="#b04dc6"/><path d="M491.1,409.7L477.4,407.7L480.6,402.6ZM491.1,409.7L480.6,402.6L482.2,398.1ZM491.1,409.7L482.2,398.1L488,396.8ZM491.1,409.7L488,396.8L491.1,394.9ZM491.1,409.7L491.1,394.9L497,397.9Z" fill="#e2a5ea"/><path d="M491.1,409.7L505.9,406.6L504.7,411.5ZM491.1,409.7L485.8,422.7L485.1,418.3Z" fill="#8e36a6"/><path d="M491.1,409.7L501.8,402.5L505.9,406.6ZM491.1,409.7L504.7,411.5L505.5,415.8ZM491.1,409.7L505.5,415.8L500.2,418.6ZM491.1,409.7L500.2,418.6L497.2,422ZM491.1,409.7L497.2,422L492.9,421.1ZM491.1,409.7L492.9,421.1L485.8,422.7Z" fill="#4d1660"/><path d="M491.1,409.7L478.1,410.1L478.6,406.2ZM491.1,409.7L491.7,419.8L488.4,419.5ZM491.1,409.7L500.7,408.3L500.7,411.3Z" fill="#1c0624"/><path d="M476.7,461.8L473.2,457.5L467.9,456.3L468.3,452L466.8,447.2L470.1,444.6L471.7,440.6L477,439.8L480.6,436.9L485.4,439.6L491.2,440.7L492.7,443.7L496.5,448.2L494.1,451.1L493.5,455.8L489.6,458.3L486.2,461.4L481.5,460.3Z" fill="#b04dc6"/><path d="M480.2,450.3L468.3,452L466.8,447.2ZM480.2,450.3L470.1,444.6L471.7,440.6ZM480.2,450.3L471.7,440.6L477,439.8ZM480.2,450.3L480.6,436.9L485.4,439.6Z" fill="#e2a5ea"/><path d="M480.2,450.3L476.7,461.8L473.2,457.5ZM480.2,450.3L494.1,451.1L493.5,455.8ZM480.2,450.3L486.2,461.4L481.5,460.3ZM480.2,450.3L481.5,460.3L476.7,461.8Z" fill="#8e36a6"/><path d="M480.2,450.3L496.5,448.2L494.1,451.1ZM480.2,450.3L493.5,455.8L489.6,458.3ZM480.2,450.3L489.6,458.3L486.2,461.4Z" fill="#4d1660"/><path d="M480.2,450.3L474.8,442.2L478.2,441.3ZM480.2,450.3L492.3,449.7L491.9,452.9ZM480.2,450.3L491.3,451.8L490.1,454.5Z" fill="#1c0624"/><path d="M471,474.6L474.8,472.9L477.3,469L483.3,469.8L486.9,468.1L489.8,471.3L495.2,472L494.6,476.5L497.1,480.1L495,482.4L494,486.7L488.6,488.2L484.9,490.2L481.4,488.1L477.2,489.2L474.5,485.2L472,482.8L472.6,479.1Z" fill="#b04dc6"/><path d="M482.5,478.8L471,474.6L474.8,472.9ZM482.5,478.8L483.3,469.8L486.9,468.1ZM482.5,478.8L486.9,468.1L489.8,471.3ZM482.5,478.8L472,482.8L472.6,479.1Z" fill="#e2a5ea"/><path d="M482.5,478.8L495.2,472L494.6,476.5ZM482.5,478.8L495,482.4L494,486.7ZM482.5,478.8L494,486.7L488.6,488.2ZM482.5,478.8L481.4,488.1L477.2,489.2Z" fill="#8e36a6"/><path d="M482.5,478.8L494.6,476.5L497.1,480.1ZM482.5,478.8L497.1,480.1L495,482.4ZM482.5,478.8L488.6,488.2L484.9,490.2ZM482.5,478.8L484.9,490.2L481.4,488.1ZM482.5,478.8L477.2,489.2L474.5,485.2Z" fill="#4d1660"/><path d="M482.5,478.8L483.3,487.8L480,487.6ZM482.5,478.8L490.4,471.9L492.6,474.4ZM482.5,478.8L482.8,470.7L485.7,471.2Z" fill="#1c0624"/><path d="M472.9,482.5L475.6,485.5L479.3,485.9L479.6,488.6L480.6,491.5L477.8,493.9L475.2,496.9L471.6,496.4L466.7,497.8L462.3,496.6L459.2,496.1L457.4,493.6L454.2,491.7L455.7,489L456.2,485.6L460.5,485.2L462.9,481.9L468.3,482.7Z" fill="#b04dc6"/><path d="M466.2,489.3L468.3,482.7L472.9,482.5Z" fill="#e2a5ea"/><path d="M466.2,489.3L472.9,482.5L475.6,485.5ZM466.2,489.3L480.6,491.5L477.8,493.9ZM466.2,489.3L477.8,493.9L475.2,496.9ZM466.2,489.3L462.3,496.6L459.2,496.1ZM466.2,489.3L459.2,496.1L457.4,493.6Z" fill="#8e36a6"/><path d="M466.2,489.3L479.3,485.9L479.6,488.6ZM466.2,489.3L479.6,488.6L480.6,491.5ZM466.2,489.3L475.2,496.9L471.6,496.4ZM466.2,489.3L471.6,496.4L466.7,497.8ZM466.2,489.3L466.7,497.8L462.3,496.6Z" fill="#4d1660"/><path d="M466.2,489.3L473.6,490.9L472.4,492.2ZM466.2,489.3L459.8,485L462.3,484ZM466.2,489.3L463.6,494.4L461.1,493.6Z" fill="#1c0624"/><path d="M480.7,311.6L485.8,311.3L489.5,309.4L494.2,310.7L499.8,310.5L501.4,314.1L504.5,314.9L504.3,317.8L504,321.3L501.2,322.9L497.1,325.8L492.2,325.4L487.8,326L483.7,324.2L478,322.5L479.7,319.3L475.7,317.5L479.8,314.8Z" fill="#b04dc6"/><path d="M490.6,318.6L480.7,311.6L485.8,311.3ZM490.6,318.6L485.8,311.3L489.5,309.4ZM490.6,318.6L494.2,310.7L499.8,310.5ZM490.6,318.6L475.7,317.5L479.8,314.8ZM490.6,318.6L479.8,314.8L480.7,311.6Z" fill="#e2a5ea"/><path d="M490.6,318.6L499.8,310.5L501.4,314.1ZM490.6,318.6L501.4,314.1L504.5,314.9ZM490.6,318.6L504.5,314.9L504.3,317.8ZM490.6,318.6L504.3,317.8L504,321.3ZM490.6,318.6L497.1,325.8L492.2,325.4Z" fill="#8e36a6"/><path d="M490.6,318.6L504,321.3L501.2,322.9ZM490.6,318.6L501.2,322.9L497.1,325.8ZM490.6,318.6L492.2,325.4L487.8,326Z" fill="#4d1660"/><path d="M490.6,318.6L489.4,323.8L486.6,323.3ZM490.6,318.6L501,320.3L499.5,322.1ZM490.6,318.6L500.6,316L501.5,317.9Z" fill="#1c0624"/><path d="M510.3,344.9L507,344.3L501.2,344.9L499.4,340.6L495.3,338.6L495.7,335L495.9,331.9L497.8,330.2L500.6,327.3L505.1,327.3L510.4,324.7L513.5,327.9L518.7,329.4L519.7,332.4L521.2,335.9L519.3,338.2L518.2,341.9L513.7,342.6Z" fill="#b04dc6"/><path d="M508.1,336.5L497.8,330.2L500.6,327.3ZM508.1,336.5L500.6,327.3L505.1,327.3ZM508.1,336.5L505.1,327.3L510.4,324.7ZM508.1,336.5L510.4,324.7L513.5,327.9Z" fill="#e2a5ea"/><path d="M508.1,336.5L519.7,332.4L521.2,335.9ZM508.1,336.5L521.2,335.9L519.3,338.2Z" fill="#8e36a6"/><path d="M508.1,336.5L510.3,344.9L507,344.3ZM508.1,336.5L507,344.3L501.2,344.9ZM508.1,336.5L519.3,338.2L518.2,341.9ZM508.1,336.5L518.2,341.9L513.7,342.6ZM508.1,336.5L513.7,342.6L510.3,344.9Z" fill="#4d1660"/><path d="M508.1,336.5L499,333L501,331.1ZM508.1,336.5L508.4,342.1L506,341.9ZM508.1,336.5L512.3,342.6L509.4,343.3Z" fill="#1c0624"/><path d="M495.4,363.1L498.7,361.7L502.3,358.1L505.8,360L511,359.7L513.4,363.3L517.2,364.1L517.3,369.4L519,373.5L514.4,375.8L512.7,379.8L509.3,379.4L505.9,383L501.5,379.3L496.8,380.1L494.6,375L493.2,372.3L494.8,368.2Z" fill="#b04dc6"/><path d="M504.4,369.2L495.4,363.1L498.7,361.7ZM504.4,369.2L505.8,360L511,359.7ZM504.4,369.2L494.6,375L493.2,372.3ZM504.4,369.2L493.2,372.3L494.8,368.2ZM504.4,369.2L494.8,368.2L495.4,363.1Z" fill="#e2a5ea"/><path d="M504.4,369.2L513.4,363.3L517.2,364.1ZM504.4,369.2L517.2,364.1L517.3,369.4ZM504.4,369.2L517.3,369.4L519,373.5ZM504.4,369.2L509.3,379.4L505.9,383ZM504.4,369.2L501.5,379.3L496.8,380.1ZM504.4,369.2L496.8,380.1L494.6,375Z" fill="#8e36a6"/><path d="M504.4,369.2L519,373.5L514.4,375.8ZM504.4,369.2L514.4,375.8L512.7,379.8ZM504.4,369.2L512.7,379.8L509.3,379.4ZM504.4,369.2L505.9,383L501.5,379.3Z" fill="#4d1660"/><path d="M504.4,369.2L513.5,376L510.7,378.3ZM504.4,369.2L501.5,361.3L504.3,360.8ZM504.4,369.2L503,377.5L500.2,376.7Z" fill="#1c0624"/><path d="M529.9,416L526.6,420.7L524.7,425.8L520.2,424.7L514.4,427.9L511.7,425.4L505.5,423.4L505.3,418.6L501.4,413.2L504,409.3L504.9,403.1L509.2,401.7L512,399.2L517.5,401L522.5,400.6L524.9,404.4L529.3,406.1L528.4,411.1Z" fill="#b04dc6"/><path d="M517.6,414.6L509.2,401.7L512,399.2ZM517.6,414.6L517.5,401L522.5,400.6Z" fill="#e2a5ea"/><path d="M517.6,414.6L524.7,425.8L520.2,424.7ZM517.6,414.6L524.9,404.4L529.3,406.1Z" fill="#8e36a6"/><path d="M517.6,414.6L529.9,416L526.6,420.7ZM517.6,414.6L526.6,420.7L524.7,425.8ZM517.6,414.6L520.2,424.7L514.4,427.9ZM517.6,414.6L511.7,425.4L505.5,423.4ZM517.6,414.6L528.4,411.1L529.9,416Z" fill="#4d1660"/><path d="M517.6,414.6L506.2,414.8L506.7,411.1ZM517.6,414.6L526.3,405.3L528.7,408.6ZM517.6,414.6L509,418.4L508.3,415.4Z" fill="#1c0624"/><path d="M504.8,442.7L508.5,444.6L514.1,446.5L515,450.1L518.4,451.9L517.6,456.4L517.9,461.6L512.4,463.5L511.3,466.1L506.3,466.9L501.3,467.6L498.2,463.8L494.5,463.3L494.9,458.7L492.7,455.1L494.8,451.4L495.6,446.8L501.7,445.6Z" fill="#b04dc6"/><path d="M504.4,456.1L504.8,442.7L508.5,444.6ZM504.4,456.1L508.5,444.6L514.1,446.5ZM504.4,456.1L492.7,455.1L494.8,451.4ZM504.4,456.1L494.8,451.4L495.6,446.8ZM504.4,456.1L495.6,446.8L501.7,445.6Z" fill="#e2a5ea"/><path d="M504.4,456.1L517.6,456.4L517.9,461.6ZM504.4,456.1L517.9,461.6L512.4,463.5ZM504.4,456.1L511.3,466.1L506.3,466.9ZM504.4,456.1L506.3,466.9L501.3,467.6ZM504.4,456.1L501.3,467.6L498.2,463.8Z" fill="#8e36a6"/><path d="M504.4,456.1L512.4,463.5L511.3,466.1ZM504.4,456.1L498.2,463.8L494.5,463.3Z" fill="#4d1660"/><path d="M504.4,456.1L510.3,448.3L512.6,450.4ZM504.4,456.1L494.7,462.9L492.9,459.7ZM504.4,456.1L495.6,455.7L496.2,453.1Z" fill="#1c0624"/><path d="M512.7,475.9L515.4,479.7L519.6,481.4L519.1,486L520.8,488.4L517.7,491.5L517.5,494.7L512.2,496.1L508.4,497.5L504.3,496.4L500.5,495.1L497.7,491.2L495.6,489.4L496.3,484.7L495.5,482.1L500.1,480.1L503.8,477.2L508.8,477.7Z" fill="#b04dc6"/><path d="M507,487.6L497.7,491.2L495.6,489.4ZM507,487.6L496.3,484.7L495.5,482.1ZM507,487.6L500.1,480.1L503.8,477.2ZM507,487.6L503.8,477.2L508.8,477.7ZM507,487.6L508.8,477.7L512.7,475.9Z" fill="#e2a5ea"/><path d="M507,487.6L515.4,479.7L519.6,481.4ZM507,487.6L519.1,486L520.8,488.4ZM507,487.6L520.8,488.4L517.7,491.5ZM507,487.6L517.7,491.5L517.5,494.7ZM507,487.6L508.4,497.5L504.3,496.4ZM507,487.6L504.3,496.4L500.5,495.1ZM507,487.6L500.5,495.1L497.7,491.2Z" fill="#8e36a6"/><path d="M507,487.6L517.5,494.7L512.2,496.1ZM507,487.6L512.2,496.1L508.4,497.5Z" fill="#4d1660"/><path d="M507,487.6L515.9,492.7L513.4,494.7ZM507,487.6L502.2,479.4L505.7,478.6ZM507,487.6L511.1,480.4L513.7,481.8Z" fill="#1c0624"/><path d="M503.3,496.3L502.1,498.6L503.9,501.1L499,503.2L497.7,505.8L492.4,505.3L489.5,506L485.6,504.8L480.8,503.5L480.9,500.7L477.4,498.5L481.5,495.8L481.7,492.6L486,491.8L489.5,489.8L494.3,491.6L498.2,491.6L499.7,494Z" fill="#b04dc6"/><path d="M491.7,498.1L477.4,498.5L481.5,495.8ZM491.7,498.1L481.5,495.8L481.7,492.6ZM491.7,498.1L481.7,492.6L486,491.8ZM491.7,498.1L486,491.8L489.5,489.8Z" fill="#e2a5ea"/><path d="M491.7,498.1L503.3,496.3L502.1,498.6ZM491.7,498.1L502.1,498.6L503.9,501.1ZM491.7,498.1L503.9,501.1L499,503.2ZM491.7,498.1L497.7,505.8L492.4,505.3ZM491.7,498.1L489.5,506L485.6,504.8ZM491.7,498.1L485.6,504.8L480.8,503.5Z" fill="#8e36a6"/><path d="M491.7,498.1L499,503.2L497.7,505.8ZM491.7,498.1L492.4,505.3L489.5,506Z" fill="#4d1660"/><path d="M491.7,498.1L500,498.3L499.4,500ZM491.7,498.1L488.3,493.3L490.9,492.9ZM491.7,498.1L494.5,492.8L496.9,493.6Z" fill="#1c0624"/><ellipse cx="490.4" cy="412.5" rx="52.4" ry="82.9" transform="rotate(3 490.4 412.5)" fill="url(#inr)"/><ellipse cx="495.5" cy="413.8" rx="39.5" ry="67.9" transform="rotate(3 495.5 413.8)" fill="url(#inh)"/><path d="M469.9,374.9L498.3,369.5M498.3,369.5L520.1,371.3M520.1,371.3L565.6,372.5M565.6,372.5L586.5,380.9M586.5,380.9L559.6,386.9M565.6,372.5L559.6,386.9M559.6,386.9L573,409.3M508.2,382.4L498.3,369.5M508.2,382.4L520.1,371.3M508.2,382.4L513.2,403.3M475.3,389.8L469.9,374.9M475.3,389.8L492.3,410.2M513.2,403.3L541.6,395.2M513.2,403.3L492.3,410.2M492.3,410.2L471.4,413.8M492.3,410.2L493.8,431.1M573,409.3L543.1,423.3M573,409.3L619.4,430.2M543.1,423.3L541.6,395.2M543.1,423.3L547.6,442.2M543.1,423.3L508.8,433.2M508.8,433.2L493.8,431.1M508.8,433.2L526.7,460.1M619.4,430.2L623.9,457.1M623.9,457.1L579,459.5M547.6,442.2L579,459.5M579,459.5L570,475M570,475L582,482.5M582,482.5L602.9,488.5M570,475L526.7,460.1M526.7,460.1L502.8,458M502.8,458L493.8,431.1M502.8,458L462.4,446.6M466.9,434.7L493.8,431.1M466.9,434.7L462.4,446.6M471.4,413.8L457.9,422.7M457.9,422.7L466.9,434.7M449,404.8L471.4,413.8M449,404.8L469.9,374.9M462.4,446.6L452,461.6M541.6,395.2L520.1,371.3M526.7,460.1L547.6,442.2" stroke="#676767" stroke-width="3.7" fill="none" stroke-linecap="round"/><path d="M469.9,374.9L498.3,369.5M498.3,369.5L520.1,371.3M520.1,371.3L565.6,372.5M565.6,372.5L586.5,380.9M586.5,380.9L559.6,386.9M565.6,372.5L559.6,386.9M559.6,386.9L573,409.3M508.2,382.4L498.3,369.5M508.2,382.4L520.1,371.3M508.2,382.4L513.2,403.3M475.3,389.8L469.9,374.9M475.3,389.8L492.3,410.2M513.2,403.3L541.6,395.2M513.2,403.3L492.3,410.2M492.3,410.2L471.4,413.8M492.3,410.2L493.8,431.1M573,409.3L543.1,423.3M573,409.3L619.4,430.2M543.1,423.3L541.6,395.2M543.1,423.3L547.6,442.2M543.1,423.3L508.8,433.2M508.8,433.2L493.8,431.1M508.8,433.2L526.7,460.1M619.4,430.2L623.9,457.1M623.9,457.1L579,459.5M547.6,442.2L579,459.5M579,459.5L570,475M570,475L582,482.5M582,482.5L602.9,488.5M570,475L526.7,460.1M526.7,460.1L502.8,458M502.8,458L493.8,431.1M502.8,458L462.4,446.6M466.9,434.7L493.8,431.1M466.9,434.7L462.4,446.6M471.4,413.8L457.9,422.7M457.9,422.7L466.9,434.7M449,404.8L471.4,413.8M449,404.8L469.9,374.9M462.4,446.6L452,461.6M541.6,395.2L520.1,371.3M526.7,460.1L547.6,442.2" stroke="#858585" stroke-width="1.5" fill="none" stroke-linecap="round"/><ellipse cx="469.9" cy="374.9" rx="7.4" ry="3.9" transform="rotate(8 469.9 374.9)" fill="url(#atm)"/><ellipse cx="498.3" cy="369.5" rx="7.4" ry="3.9" transform="rotate(8 498.3 369.5)" fill="url(#atm)"/><ellipse cx="520.1" cy="371.3" rx="7.4" ry="3.9" transform="rotate(8 520.1 371.3)" fill="url(#atm)"/><ellipse cx="565.6" cy="372.5" rx="8.8" ry="4.5" transform="rotate(8 565.6 372.5)" fill="url(#atm)"/><ellipse cx="586.5" cy="380.9" rx="8.8" ry="4.5" transform="rotate(15 586.5 380.9)" fill="url(#atm)"/><ellipse cx="508.2" cy="382.4" rx="7.4" ry="3.9" transform="rotate(8 508.2 382.4)" fill="url(#atm)"/><ellipse cx="475.3" cy="389.8" rx="7.4" ry="3.9" transform="rotate(8 475.3 389.8)" fill="url(#atm)"/><ellipse cx="541.6" cy="395.2" rx="8.8" ry="4.5" transform="rotate(20 541.6 395.2)" fill="url(#atm)"/><ellipse cx="559.6" cy="386.9" rx="8.8" ry="4.5" transform="rotate(8 559.6 386.9)" fill="url(#atm)"/><ellipse cx="513.2" cy="403.3" rx="7.4" ry="3.9" transform="rotate(8 513.2 403.3)" fill="url(#atm)"/><ellipse cx="492.3" cy="410.2" rx="7.4" ry="3.9" transform="rotate(8 492.3 410.2)" fill="url(#atm)"/><ellipse cx="471.4" cy="413.8" rx="7.4" ry="3.9" transform="rotate(8 471.4 413.8)" fill="url(#atm)"/><ellipse cx="573" cy="409.3" rx="8.8" ry="4.5" transform="rotate(8 573 409.3)" fill="url(#atm)"/><ellipse cx="543.1" cy="423.3" rx="8.8" ry="4.5" transform="rotate(-20 543.1 423.3)" fill="url(#atm)"/><ellipse cx="508.8" cy="433.2" rx="7.4" ry="3.9" transform="rotate(8 508.8 433.2)" fill="url(#atm)"/><ellipse cx="493.8" cy="431.1" rx="7.4" ry="3.9" transform="rotate(8 493.8 431.1)" fill="url(#atm)"/><ellipse cx="466.9" cy="434.7" rx="7.4" ry="3.9" transform="rotate(8 466.9 434.7)" fill="url(#atm)"/><ellipse cx="619.4" cy="430.2" rx="8.8" ry="4.5" transform="rotate(15 619.4 430.2)" fill="url(#atm)"/><ellipse cx="547.6" cy="442.2" rx="8.8" ry="4.5" transform="rotate(8 547.6 442.2)" fill="url(#atm)"/><ellipse cx="462.4" cy="446.6" rx="7.4" ry="3.9" transform="rotate(8 462.4 446.6)" fill="url(#atm)"/><ellipse cx="623.9" cy="457.1" rx="8.8" ry="4.5" transform="rotate(12 623.9 457.1)" fill="url(#atm)"/><ellipse cx="502.8" cy="458" rx="7.4" ry="3.9" transform="rotate(8 502.8 458)" fill="url(#atm)"/><ellipse cx="526.7" cy="460.1" rx="7.4" ry="3.9" transform="rotate(8 526.7 460.1)" fill="url(#atm)"/><ellipse cx="579" cy="459.5" rx="8.8" ry="4.5" transform="rotate(8 579 459.5)" fill="url(#atm)"/><ellipse cx="570" cy="475" rx="8.8" ry="4.5" transform="rotate(8 570 475)" fill="url(#atm)"/><ellipse cx="582" cy="482.5" rx="8.8" ry="4.5" transform="rotate(20 582 482.5)" fill="url(#atm)"/><ellipse cx="602.9" cy="488.5" rx="8.8" ry="4.5" transform="rotate(15 602.9 488.5)" fill="url(#atm)"/><ellipse cx="457.9" cy="422.7" rx="7.4" ry="3.9" transform="rotate(8 457.9 422.7)" fill="url(#atm)"/><ellipse cx="449" cy="404.8" rx="7.4" ry="3.9" transform="rotate(8 449 404.8)" fill="url(#atm)"/><ellipse cx="452" cy="461.6" rx="7.4" ry="3.9" transform="rotate(8 452 461.6)" fill="url(#atm)"/></g><g fill="none" stroke="#0a0a0a" stroke-width="2.8" stroke-dasharray="7 2.9"><path d="M361.2,298.6H645.1V510.6H362.1V298.6"/><path d="M862.7,448H928.1V512.2H862.7Z"/><path d="M646.5,299.6L869.8,447.8M645.1,510.8L862.7,512.2"/></g></svg>
</body></html>
